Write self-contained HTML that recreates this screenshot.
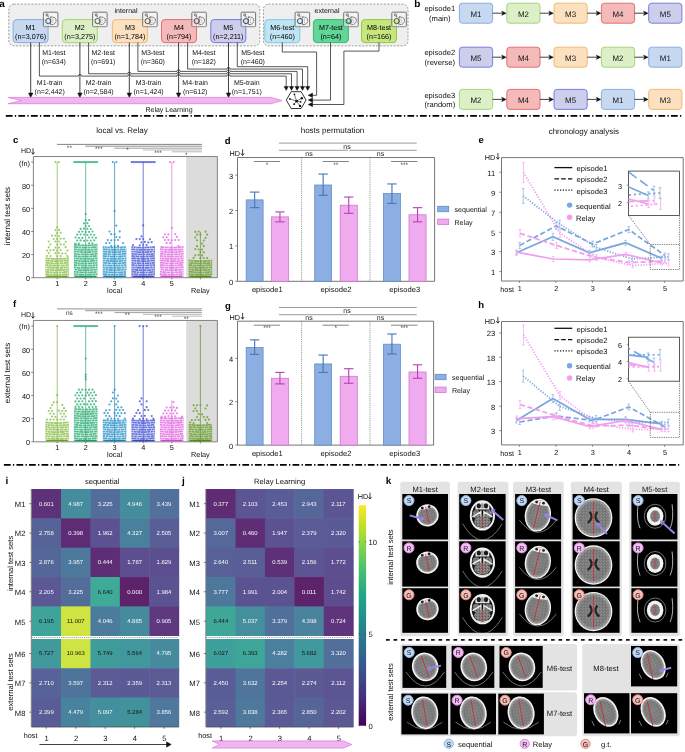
<!DOCTYPE html>
<html><head><meta charset="utf-8"><style>
html,body{margin:0;padding:0;background:#fff;}
svg{display:block;font-family:"Liberation Sans", sans-serif;will-change:transform;text-rendering:geometricPrecision;}
</style></head><body>
<svg width="685" height="752" viewBox="0 0 685 752">
<rect x="0" y="0" width="685" height="752" fill="#fff"/>
<text x="2.00" y="3.90" font-size="10" text-anchor="middle" fill="#000" font-weight="bold" dominant-baseline="central" dy="0.93" >a</text>
<rect x="8.80" y="4.10" width="251.00" height="41.80" fill="#efefef" stroke="#888" stroke-width="0.8" rx="5" stroke-dasharray="2 1.5"/>
<rect x="263.40" y="4.10" width="144.60" height="41.80" fill="#efefef" stroke="#888" stroke-width="0.8" rx="5" stroke-dasharray="2 1.5"/>
<text x="126.00" y="10.40" font-size="7" text-anchor="middle" fill="#111" font-weight="normal" dominant-baseline="central" dy="0.93" >internal</text>
<text x="327.00" y="10.40" font-size="7" text-anchor="middle" fill="#111" font-weight="normal" dominant-baseline="central" dy="0.93" >external</text>
<rect x="13.10" y="19.60" width="35.00" height="23.00" fill="#c6d9f0" stroke="#7fa7de" stroke-width="0.9" rx="3.5" />
<text x="30.60" y="26.30" font-size="7.2" text-anchor="middle" fill="#000" font-weight="normal" dominant-baseline="central" dy="0.93" >M1</text>
<text x="30.60" y="35.30" font-size="7.2" text-anchor="middle" fill="#000" font-weight="normal" dominant-baseline="central" dy="0.93" >(n=3,076)</text>
<rect x="43.40" y="12.20" width="14.50" height="14.40" fill="#f7f7f7" stroke="#666" stroke-width="0.9" rx="0.8" fill-opacity="0.55"/>
<line x1="44.00" y1="26.80" x2="57.70" y2="26.80" stroke="#bbb" stroke-width="0.7" />
<circle cx="47.00" cy="14.90" r="1.1" fill="none" stroke="#555" stroke-width="0.8"/>
<path d="M47.8,15.7 L48.6,17.5" fill="none" stroke="#555" stroke-width="0.8" />
<circle cx="48.30" cy="21.10" r="2.6" fill="#c6d9f0" stroke="#444" stroke-width="0.9"/>
<circle cx="48.30" cy="20.40" r="1.0" fill="#fff" fill-opacity="0.7"/>
<path d="M50.6,16.799999999999997 L50.6,24.799999999999997 M50.6,17.0 Q56.599999999999994,16.799999999999997 56.0,21.0 Q55.599999999999994,24.799999999999997 50.6,24.6" fill="none" stroke="#555" stroke-width="0.9" stroke-dasharray="1.6 0.5"/>
<line x1="52.80" y1="18.70" x2="52.80" y2="23.20" stroke="#666" stroke-width="0.6" stroke-dasharray="0.8 0.8"/>
<rect x="62.30" y="19.60" width="35.00" height="23.00" fill="#dcefc6" stroke="#9ad26e" stroke-width="0.9" rx="3.5" />
<text x="79.80" y="26.30" font-size="7.2" text-anchor="middle" fill="#000" font-weight="normal" dominant-baseline="central" dy="0.93" >M2</text>
<text x="79.80" y="35.30" font-size="7.2" text-anchor="middle" fill="#000" font-weight="normal" dominant-baseline="central" dy="0.93" >(n=3,275)</text>
<rect x="92.60" y="12.20" width="14.50" height="14.40" fill="#f7f7f7" stroke="#666" stroke-width="0.9" rx="0.8" fill-opacity="0.55"/>
<line x1="93.20" y1="26.80" x2="106.90" y2="26.80" stroke="#bbb" stroke-width="0.7" />
<circle cx="96.20" cy="14.90" r="1.1" fill="none" stroke="#555" stroke-width="0.8"/>
<path d="M97.0,15.7 L97.8,17.5" fill="none" stroke="#555" stroke-width="0.8" />
<circle cx="97.50" cy="21.10" r="2.6" fill="#dcefc6" stroke="#444" stroke-width="0.9"/>
<circle cx="97.50" cy="20.40" r="1.0" fill="#fff" fill-opacity="0.7"/>
<path d="M99.8,16.799999999999997 L99.8,24.799999999999997 M99.8,17.0 Q105.8,16.799999999999997 105.19999999999999,21.0 Q104.8,24.799999999999997 99.8,24.6" fill="none" stroke="#555" stroke-width="0.9" stroke-dasharray="1.6 0.5"/>
<line x1="102.00" y1="18.70" x2="102.00" y2="23.20" stroke="#666" stroke-width="0.6" stroke-dasharray="0.8 0.8"/>
<rect x="112.40" y="19.60" width="35.00" height="23.00" fill="#fbe1c0" stroke="#f0b463" stroke-width="0.9" rx="3.5" />
<text x="129.90" y="26.30" font-size="7.2" text-anchor="middle" fill="#000" font-weight="normal" dominant-baseline="central" dy="0.93" >M3</text>
<text x="129.90" y="35.30" font-size="7.2" text-anchor="middle" fill="#000" font-weight="normal" dominant-baseline="central" dy="0.93" >(n=1,784)</text>
<rect x="142.70" y="12.20" width="14.50" height="14.40" fill="#f7f7f7" stroke="#666" stroke-width="0.9" rx="0.8" fill-opacity="0.55"/>
<line x1="143.30" y1="26.80" x2="157.00" y2="26.80" stroke="#bbb" stroke-width="0.7" />
<circle cx="146.30" cy="14.90" r="1.1" fill="none" stroke="#555" stroke-width="0.8"/>
<path d="M147.10000000000002,15.7 L147.9,17.5" fill="none" stroke="#555" stroke-width="0.8" />
<circle cx="147.60" cy="21.10" r="2.6" fill="#fbe1c0" stroke="#444" stroke-width="0.9"/>
<circle cx="147.60" cy="20.40" r="1.0" fill="#fff" fill-opacity="0.7"/>
<path d="M149.9,16.799999999999997 L149.9,24.799999999999997 M149.9,17.0 Q155.9,16.799999999999997 155.3,21.0 Q154.9,24.799999999999997 149.9,24.6" fill="none" stroke="#555" stroke-width="0.9" stroke-dasharray="1.6 0.5"/>
<line x1="152.10" y1="18.70" x2="152.10" y2="23.20" stroke="#666" stroke-width="0.6" stroke-dasharray="0.8 0.8"/>
<rect x="161.50" y="19.60" width="35.00" height="23.00" fill="#f4b9b9" stroke="#e06464" stroke-width="0.9" rx="3.5" />
<text x="179.00" y="26.30" font-size="7.2" text-anchor="middle" fill="#000" font-weight="normal" dominant-baseline="central" dy="0.93" >M4</text>
<text x="179.00" y="35.30" font-size="7.2" text-anchor="middle" fill="#000" font-weight="normal" dominant-baseline="central" dy="0.93" >(n=794)</text>
<rect x="191.80" y="12.20" width="14.50" height="14.40" fill="#f7f7f7" stroke="#666" stroke-width="0.9" rx="0.8" fill-opacity="0.55"/>
<line x1="192.40" y1="26.80" x2="206.10" y2="26.80" stroke="#bbb" stroke-width="0.7" />
<circle cx="195.40" cy="14.90" r="1.1" fill="none" stroke="#555" stroke-width="0.8"/>
<path d="M196.20000000000002,15.7 L197.0,17.5" fill="none" stroke="#555" stroke-width="0.8" />
<circle cx="196.70" cy="21.10" r="2.6" fill="#f4b9b9" stroke="#444" stroke-width="0.9"/>
<circle cx="196.70" cy="20.40" r="1.0" fill="#fff" fill-opacity="0.7"/>
<path d="M199.0,16.799999999999997 L199.0,24.799999999999997 M199.0,17.0 Q205.0,16.799999999999997 204.4,21.0 Q204.0,24.799999999999997 199.0,24.6" fill="none" stroke="#555" stroke-width="0.9" stroke-dasharray="1.6 0.5"/>
<line x1="201.20" y1="18.70" x2="201.20" y2="23.20" stroke="#666" stroke-width="0.6" stroke-dasharray="0.8 0.8"/>
<rect x="210.80" y="19.60" width="35.00" height="23.00" fill="#cdcdec" stroke="#6d72dc" stroke-width="0.9" rx="3.5" />
<text x="228.30" y="26.30" font-size="7.2" text-anchor="middle" fill="#000" font-weight="normal" dominant-baseline="central" dy="0.93" >M5</text>
<text x="228.30" y="35.30" font-size="7.2" text-anchor="middle" fill="#000" font-weight="normal" dominant-baseline="central" dy="0.93" >(n=2,211)</text>
<rect x="241.10" y="12.20" width="14.50" height="14.40" fill="#f7f7f7" stroke="#666" stroke-width="0.9" rx="0.8" fill-opacity="0.55"/>
<line x1="241.70" y1="26.80" x2="255.40" y2="26.80" stroke="#bbb" stroke-width="0.7" />
<circle cx="244.70" cy="14.90" r="1.1" fill="none" stroke="#555" stroke-width="0.8"/>
<path d="M245.50000000000003,15.7 L246.3,17.5" fill="none" stroke="#555" stroke-width="0.8" />
<circle cx="246.00" cy="21.10" r="2.6" fill="#cdcdec" stroke="#444" stroke-width="0.9"/>
<circle cx="246.00" cy="20.40" r="1.0" fill="#fff" fill-opacity="0.7"/>
<path d="M248.3,16.799999999999997 L248.3,24.799999999999997 M248.3,17.0 Q254.3,16.799999999999997 253.70000000000002,21.0 Q253.3,24.799999999999997 248.3,24.6" fill="none" stroke="#555" stroke-width="0.9" stroke-dasharray="1.6 0.5"/>
<line x1="250.50" y1="18.70" x2="250.50" y2="23.20" stroke="#666" stroke-width="0.6" stroke-dasharray="0.8 0.8"/>
<rect x="264.80" y="19.60" width="35.00" height="23.00" fill="#bfe4f4" stroke="#76c4e6" stroke-width="0.9" rx="3.5" />
<text x="282.30" y="26.30" font-size="7.2" text-anchor="middle" fill="#000" font-weight="normal" dominant-baseline="central" dy="0.93" >M6-test</text>
<text x="282.30" y="35.30" font-size="7.2" text-anchor="middle" fill="#000" font-weight="normal" dominant-baseline="central" dy="0.93" >(n=460)</text>
<rect x="295.10" y="12.20" width="14.50" height="14.40" fill="#f7f7f7" stroke="#666" stroke-width="0.9" rx="0.8" fill-opacity="0.55"/>
<line x1="295.70" y1="26.80" x2="309.40" y2="26.80" stroke="#bbb" stroke-width="0.7" />
<circle cx="298.70" cy="14.90" r="1.1" fill="none" stroke="#555" stroke-width="0.8"/>
<path d="M299.5,15.7 L300.3,17.5" fill="none" stroke="#555" stroke-width="0.8" />
<circle cx="300.00" cy="21.10" r="2.6" fill="#bfe4f4" stroke="#444" stroke-width="0.9"/>
<circle cx="300.00" cy="20.40" r="1.0" fill="#fff" fill-opacity="0.7"/>
<path d="M302.3,16.799999999999997 L302.3,24.799999999999997 M302.3,17.0 Q308.3,16.799999999999997 307.70000000000005,21.0 Q307.3,24.799999999999997 302.3,24.6" fill="none" stroke="#555" stroke-width="0.9" stroke-dasharray="1.6 0.5"/>
<line x1="304.50" y1="18.70" x2="304.50" y2="23.20" stroke="#666" stroke-width="0.6" stroke-dasharray="0.8 0.8"/>
<rect x="313.40" y="19.60" width="35.00" height="23.00" fill="#62d697" stroke="#2bb46a" stroke-width="0.9" rx="3.5" />
<text x="330.90" y="26.30" font-size="7.2" text-anchor="middle" fill="#000" font-weight="normal" dominant-baseline="central" dy="0.93" >M7-test</text>
<text x="330.90" y="35.30" font-size="7.2" text-anchor="middle" fill="#000" font-weight="normal" dominant-baseline="central" dy="0.93" >(n=64)</text>
<rect x="343.70" y="12.20" width="14.50" height="14.40" fill="#f7f7f7" stroke="#666" stroke-width="0.9" rx="0.8" fill-opacity="0.55"/>
<line x1="344.30" y1="26.80" x2="358.00" y2="26.80" stroke="#bbb" stroke-width="0.7" />
<circle cx="347.30" cy="14.90" r="1.1" fill="none" stroke="#555" stroke-width="0.8"/>
<path d="M348.09999999999997,15.7 L348.9,17.5" fill="none" stroke="#555" stroke-width="0.8" />
<circle cx="348.60" cy="21.10" r="2.6" fill="#62d697" stroke="#444" stroke-width="0.9"/>
<circle cx="348.60" cy="20.40" r="1.0" fill="#fff" fill-opacity="0.7"/>
<path d="M350.9,16.799999999999997 L350.9,24.799999999999997 M350.9,17.0 Q356.9,16.799999999999997 356.3,21.0 Q355.9,24.799999999999997 350.9,24.6" fill="none" stroke="#555" stroke-width="0.9" stroke-dasharray="1.6 0.5"/>
<line x1="353.10" y1="18.70" x2="353.10" y2="23.20" stroke="#666" stroke-width="0.6" stroke-dasharray="0.8 0.8"/>
<rect x="361.50" y="19.60" width="35.00" height="23.00" fill="#c7e67e" stroke="#8cc23c" stroke-width="0.9" rx="3.5" />
<text x="379.00" y="26.30" font-size="7.2" text-anchor="middle" fill="#000" font-weight="normal" dominant-baseline="central" dy="0.93" >M8-test</text>
<text x="379.00" y="35.30" font-size="7.2" text-anchor="middle" fill="#000" font-weight="normal" dominant-baseline="central" dy="0.93" >(n=166)</text>
<rect x="391.80" y="12.20" width="14.50" height="14.40" fill="#f7f7f7" stroke="#666" stroke-width="0.9" rx="0.8" fill-opacity="0.55"/>
<line x1="392.40" y1="26.80" x2="406.10" y2="26.80" stroke="#bbb" stroke-width="0.7" />
<circle cx="395.40" cy="14.90" r="1.1" fill="none" stroke="#555" stroke-width="0.8"/>
<path d="M396.2,15.7 L397.0,17.5" fill="none" stroke="#555" stroke-width="0.8" />
<circle cx="396.70" cy="21.10" r="2.6" fill="#c7e67e" stroke="#444" stroke-width="0.9"/>
<circle cx="396.70" cy="20.40" r="1.0" fill="#fff" fill-opacity="0.7"/>
<path d="M399.0,16.799999999999997 L399.0,24.799999999999997 M399.0,17.0 Q405.0,16.799999999999997 404.40000000000003,21.0 Q404.0,24.799999999999997 399.0,24.6" fill="none" stroke="#555" stroke-width="0.9" stroke-dasharray="1.6 0.5"/>
<line x1="401.20" y1="18.70" x2="401.20" y2="23.20" stroke="#666" stroke-width="0.6" stroke-dasharray="0.8 0.8"/>
<line x1="30.70" y1="42.60" x2="30.70" y2="94.50" stroke="#111" stroke-width="0.8" />
<path d="M28.5,93 L30.7,97.6 L32.9,93 Z" fill="#111" stroke="#111" stroke-width="0.5" />
<path d="M39.4,42.6 L39.4,76.1 L78.30000000000001,76.1 a1.6,1.6 0 0,1 3.2,0 L127.70000000000002,76.1 a1.6,1.6 0 0,1 3.2,0 L177.0,76.1 a1.6,1.6 0 0,1 3.2,0 L226.9,76.1 a1.6,1.6 0 0,1 3.2,0 L286.2,76.1 L286.2,87" fill="none" stroke="#111" stroke-width="0.7" />
<path d="M284.0,86.4 L286.2,90.4 L288.4,86.4 Z" fill="#111" stroke="#111" stroke-width="0.4" />
<text x="53.80" y="52.60" font-size="7" text-anchor="middle" fill="#111" font-weight="normal" dominant-baseline="central" dy="0.93" >M1-test</text>
<text x="53.80" y="61.50" font-size="7" text-anchor="middle" fill="#111" font-weight="normal" dominant-baseline="central" dy="0.93" >(n=634)</text>
<text x="49.70" y="82.60" font-size="7" text-anchor="middle" fill="#111" font-weight="normal" dominant-baseline="central" dy="0.93" >M1-train</text>
<text x="49.70" y="91.20" font-size="7" text-anchor="middle" fill="#111" font-weight="normal" dominant-baseline="central" dy="0.93" >(n=2,442)</text>
<line x1="79.90" y1="42.60" x2="79.90" y2="94.50" stroke="#111" stroke-width="0.8" />
<path d="M77.7,93 L79.9,97.6 L82.10000000000001,93 Z" fill="#111" stroke="#111" stroke-width="0.5" />
<path d="M88.6,42.6 L88.6,73.75 L127.70000000000002,73.75 a1.6,1.6 0 0,1 3.2,0 L177.0,73.75 a1.6,1.6 0 0,1 3.2,0 L226.9,73.75 a1.6,1.6 0 0,1 3.2,0 L291.5,73.75 L291.5,87" fill="none" stroke="#111" stroke-width="0.7" />
<path d="M289.3,86.4 L291.5,90.4 L293.7,86.4 Z" fill="#111" stroke="#111" stroke-width="0.4" />
<text x="103.20" y="52.60" font-size="7" text-anchor="middle" fill="#111" font-weight="normal" dominant-baseline="central" dy="0.93" >M2-test</text>
<text x="103.20" y="61.50" font-size="7" text-anchor="middle" fill="#111" font-weight="normal" dominant-baseline="central" dy="0.93" >(n=691)</text>
<text x="98.60" y="82.60" font-size="7" text-anchor="middle" fill="#111" font-weight="normal" dominant-baseline="central" dy="0.93" >M2-train</text>
<text x="98.60" y="91.20" font-size="7" text-anchor="middle" fill="#111" font-weight="normal" dominant-baseline="central" dy="0.93" >(n=2,584)</text>
<line x1="129.30" y1="42.60" x2="129.30" y2="94.50" stroke="#111" stroke-width="0.8" />
<path d="M127.10000000000001,93 L129.3,97.6 L131.5,93 Z" fill="#111" stroke="#111" stroke-width="0.5" />
<path d="M137.9,42.6 L137.9,71.4 L177.0,71.4 a1.6,1.6 0 0,1 3.2,0 L226.9,71.4 a1.6,1.6 0 0,1 3.2,0 L297.1,71.4 L297.1,87" fill="none" stroke="#111" stroke-width="0.7" />
<path d="M294.90000000000003,86.4 L297.1,90.4 L299.3,86.4 Z" fill="#111" stroke="#111" stroke-width="0.4" />
<text x="152.80" y="52.60" font-size="7" text-anchor="middle" fill="#111" font-weight="normal" dominant-baseline="central" dy="0.93" >M3-test</text>
<text x="152.80" y="61.50" font-size="7" text-anchor="middle" fill="#111" font-weight="normal" dominant-baseline="central" dy="0.93" >(n=360)</text>
<text x="148.60" y="82.60" font-size="7" text-anchor="middle" fill="#111" font-weight="normal" dominant-baseline="central" dy="0.93" >M3-train</text>
<text x="148.60" y="91.20" font-size="7" text-anchor="middle" fill="#111" font-weight="normal" dominant-baseline="central" dy="0.93" >(n=1,424)</text>
<line x1="178.60" y1="42.60" x2="178.60" y2="94.50" stroke="#111" stroke-width="0.8" />
<path d="M176.4,93 L178.6,97.6 L180.79999999999998,93 Z" fill="#111" stroke="#111" stroke-width="0.5" />
<path d="M187.6,42.6 L187.6,69.05 L226.9,69.05 a1.6,1.6 0 0,1 3.2,0 L302.5,69.05 L302.5,87" fill="none" stroke="#111" stroke-width="0.7" />
<path d="M300.3,86.4 L302.5,90.4 L304.7,86.4 Z" fill="#111" stroke="#111" stroke-width="0.4" />
<text x="203.80" y="52.60" font-size="7" text-anchor="middle" fill="#111" font-weight="normal" dominant-baseline="central" dy="0.93" >M4-test</text>
<text x="203.80" y="61.50" font-size="7" text-anchor="middle" fill="#111" font-weight="normal" dominant-baseline="central" dy="0.93" >(n=182)</text>
<text x="195.20" y="82.60" font-size="7" text-anchor="middle" fill="#111" font-weight="normal" dominant-baseline="central" dy="0.93" >M4-train</text>
<text x="195.20" y="91.20" font-size="7" text-anchor="middle" fill="#111" font-weight="normal" dominant-baseline="central" dy="0.93" >(n=612)</text>
<line x1="228.50" y1="42.60" x2="228.50" y2="94.50" stroke="#111" stroke-width="0.8" />
<path d="M226.3,93 L228.5,97.6 L230.7,93 Z" fill="#111" stroke="#111" stroke-width="0.5" />
<path d="M237.3,42.6 L237.3,66.7 L307.7,66.7 L307.7,87" fill="none" stroke="#111" stroke-width="0.7" />
<path d="M305.5,86.4 L307.7,90.4 L309.9,86.4 Z" fill="#111" stroke="#111" stroke-width="0.4" />
<text x="252.80" y="52.60" font-size="7" text-anchor="middle" fill="#111" font-weight="normal" dominant-baseline="central" dy="0.93" >M5-test</text>
<text x="252.80" y="61.50" font-size="7" text-anchor="middle" fill="#111" font-weight="normal" dominant-baseline="central" dy="0.93" >(n=460)</text>
<text x="246.80" y="82.60" font-size="7" text-anchor="middle" fill="#111" font-weight="normal" dominant-baseline="central" dy="0.93" >M5-train</text>
<text x="246.80" y="91.20" font-size="7" text-anchor="middle" fill="#111" font-weight="normal" dominant-baseline="central" dy="0.93" >(n=1,751)</text>
<path d="M282.3,42.6 L282.3,52 L316.6,52 L316.6,95.3 L312,95.3" fill="none" stroke="#111" stroke-width="0.7" />
<path d="M330.5,42.6 L330.5,100.1 L312,100.1" fill="none" stroke="#111" stroke-width="0.7" />
<path d="M379,42.6 L379,51.1 L343.9,51.1 L343.9,104.5 L312,104.5" fill="none" stroke="#111" stroke-width="0.7" />
<path d="M312.6,93.1 L308.1,95.3 L312.6,97.5 Z" fill="#111" stroke="#111" stroke-width="0.4" />
<path d="M312.6,97.89999999999999 L308.1,100.1 L312.6,102.3 Z" fill="#111" stroke="#111" stroke-width="0.4" />
<path d="M312.6,102.3 L308.1,104.5 L312.6,106.7 Z" fill="#111" stroke="#111" stroke-width="0.4" />
<path d="M8.2,97.4 L271,97.4 L282,100.6 L271,103.7 L8.2,103.7 L21.5,100.6 Z" fill="#f0b6ee" stroke="#e070e0" stroke-width="0.7" />
<text x="169.00" y="109.20" font-size="7" text-anchor="middle" fill="#111" font-weight="normal" dominant-baseline="central" dy="0.93" >Relay Learning</text>
<polygon points="286.3,100.1 291.2,91.7 301.1,91.7 306.0,100.1 301.1,108.5 291.2,108.5" fill="#fff" stroke="#111" stroke-width="0.85"/>
<line x1="296.50" y1="101.10" x2="294.40" y2="94.30" stroke="#111" stroke-width="0.55" />
<circle cx="294.4" cy="94.3" r="0.9" fill="#111"/>
<line x1="296.50" y1="101.10" x2="301.80" y2="98.30" stroke="#111" stroke-width="0.55" />
<circle cx="301.8" cy="98.3" r="1.2" fill="#111"/>
<line x1="296.50" y1="101.10" x2="289.90" y2="98.90" stroke="#111" stroke-width="0.55" />
<circle cx="289.9" cy="98.9" r="0.9" fill="#111"/>
<line x1="296.50" y1="101.10" x2="300.70" y2="101.90" stroke="#111" stroke-width="0.55" />
<circle cx="300.7" cy="101.9" r="0.8" fill="#111"/>
<line x1="296.50" y1="101.10" x2="294.10" y2="104.20" stroke="#111" stroke-width="0.55" />
<circle cx="294.1" cy="104.2" r="0.9" fill="#111"/>
<line x1="296.50" y1="101.10" x2="300.00" y2="105.90" stroke="#111" stroke-width="0.55" />
<circle cx="300.0" cy="105.9" r="1.2" fill="#111"/>
<circle cx="296.5" cy="101.1" r="1.3" fill="#111"/>
<text x="417.30" y="3.30" font-size="10" text-anchor="middle" fill="#000" font-weight="bold" dominant-baseline="central" dy="0.93" >b</text>
<text x="439.80" y="8.00" font-size="7.6" text-anchor="middle" fill="#111" font-weight="normal" dominant-baseline="central" dy="0.93" >episode1</text>
<text x="439.80" y="17.20" font-size="7.6" text-anchor="middle" fill="#111" font-weight="normal" dominant-baseline="central" dy="0.93" >(main)</text>
<rect x="459.40" y="3.20" width="33.20" height="20.00" fill="#c6d9f0" stroke="#7fa7de" stroke-width="0.9" rx="3" />
<text x="476.00" y="13.40" font-size="7.9" text-anchor="middle" fill="#111" font-weight="normal" dominant-baseline="central" dy="0.93" >M1</text>
<line x1="492.60" y1="13.20" x2="502.80" y2="13.20" stroke="#111" stroke-width="0.8" />
<path d="M501.6,10.9 L506.40000000000003,13.2 L501.6,15.5 L502.6,13.2 Z" fill="#111" stroke="#111" stroke-width="0.3" />
<rect x="506.80" y="3.20" width="33.20" height="20.00" fill="#dcefc6" stroke="#9ad26e" stroke-width="0.9" rx="3" />
<text x="523.40" y="13.40" font-size="7.9" text-anchor="middle" fill="#111" font-weight="normal" dominant-baseline="central" dy="0.93" >M2</text>
<line x1="540.00" y1="13.20" x2="550.00" y2="13.20" stroke="#111" stroke-width="0.8" />
<path d="M548.8,10.9 L553.6,13.2 L548.8,15.5 L549.8,13.2 Z" fill="#111" stroke="#111" stroke-width="0.3" />
<rect x="554.00" y="3.20" width="33.20" height="20.00" fill="#fbe1c0" stroke="#f0b463" stroke-width="0.9" rx="3" />
<text x="570.60" y="13.40" font-size="7.9" text-anchor="middle" fill="#111" font-weight="normal" dominant-baseline="central" dy="0.93" >M3</text>
<line x1="587.20" y1="13.20" x2="597.40" y2="13.20" stroke="#111" stroke-width="0.8" />
<path d="M596.1999999999999,10.9 L601.0,13.2 L596.1999999999999,15.5 L597.1999999999999,13.2 Z" fill="#111" stroke="#111" stroke-width="0.3" />
<rect x="601.40" y="3.20" width="33.20" height="20.00" fill="#f4b9b9" stroke="#e06464" stroke-width="0.9" rx="3" />
<text x="618.00" y="13.40" font-size="7.9" text-anchor="middle" fill="#111" font-weight="normal" dominant-baseline="central" dy="0.93" >M4</text>
<line x1="634.60" y1="13.20" x2="644.70" y2="13.20" stroke="#111" stroke-width="0.8" />
<path d="M643.5,10.9 L648.3000000000001,13.2 L643.5,15.5 L644.5,13.2 Z" fill="#111" stroke="#111" stroke-width="0.3" />
<rect x="648.70" y="3.20" width="33.20" height="20.00" fill="#cdcdec" stroke="#6d72dc" stroke-width="0.9" rx="3" />
<text x="665.30" y="13.40" font-size="7.9" text-anchor="middle" fill="#111" font-weight="normal" dominant-baseline="central" dy="0.93" >M5</text>
<text x="439.80" y="52.00" font-size="7.6" text-anchor="middle" fill="#111" font-weight="normal" dominant-baseline="central" dy="0.93" >episode2</text>
<text x="439.80" y="61.20" font-size="7.6" text-anchor="middle" fill="#111" font-weight="normal" dominant-baseline="central" dy="0.93" >(reverse)</text>
<rect x="459.40" y="47.20" width="33.20" height="20.00" fill="#cdcdec" stroke="#6d72dc" stroke-width="0.9" rx="3" />
<text x="476.00" y="57.40" font-size="7.9" text-anchor="middle" fill="#111" font-weight="normal" dominant-baseline="central" dy="0.93" >M5</text>
<line x1="492.60" y1="57.20" x2="502.80" y2="57.20" stroke="#111" stroke-width="0.8" />
<path d="M501.6,54.900000000000006 L506.40000000000003,57.2 L501.6,59.5 L502.6,57.2 Z" fill="#111" stroke="#111" stroke-width="0.3" />
<rect x="506.80" y="47.20" width="33.20" height="20.00" fill="#f4b9b9" stroke="#e06464" stroke-width="0.9" rx="3" />
<text x="523.40" y="57.40" font-size="7.9" text-anchor="middle" fill="#111" font-weight="normal" dominant-baseline="central" dy="0.93" >M4</text>
<line x1="540.00" y1="57.20" x2="550.00" y2="57.20" stroke="#111" stroke-width="0.8" />
<path d="M548.8,54.900000000000006 L553.6,57.2 L548.8,59.5 L549.8,57.2 Z" fill="#111" stroke="#111" stroke-width="0.3" />
<rect x="554.00" y="47.20" width="33.20" height="20.00" fill="#fbe1c0" stroke="#f0b463" stroke-width="0.9" rx="3" />
<text x="570.60" y="57.40" font-size="7.9" text-anchor="middle" fill="#111" font-weight="normal" dominant-baseline="central" dy="0.93" >M3</text>
<line x1="587.20" y1="57.20" x2="597.40" y2="57.20" stroke="#111" stroke-width="0.8" />
<path d="M596.1999999999999,54.900000000000006 L601.0,57.2 L596.1999999999999,59.5 L597.1999999999999,57.2 Z" fill="#111" stroke="#111" stroke-width="0.3" />
<rect x="601.40" y="47.20" width="33.20" height="20.00" fill="#dcefc6" stroke="#9ad26e" stroke-width="0.9" rx="3" />
<text x="618.00" y="57.40" font-size="7.9" text-anchor="middle" fill="#111" font-weight="normal" dominant-baseline="central" dy="0.93" >M2</text>
<line x1="634.60" y1="57.20" x2="644.70" y2="57.20" stroke="#111" stroke-width="0.8" />
<path d="M643.5,54.900000000000006 L648.3000000000001,57.2 L643.5,59.5 L644.5,57.2 Z" fill="#111" stroke="#111" stroke-width="0.3" />
<rect x="648.70" y="47.20" width="33.20" height="20.00" fill="#c6d9f0" stroke="#7fa7de" stroke-width="0.9" rx="3" />
<text x="665.30" y="57.40" font-size="7.9" text-anchor="middle" fill="#111" font-weight="normal" dominant-baseline="central" dy="0.93" >M1</text>
<text x="439.80" y="94.20" font-size="7.6" text-anchor="middle" fill="#111" font-weight="normal" dominant-baseline="central" dy="0.93" >episode3</text>
<text x="439.80" y="103.40" font-size="7.6" text-anchor="middle" fill="#111" font-weight="normal" dominant-baseline="central" dy="0.93" >(random)</text>
<rect x="459.40" y="89.40" width="33.20" height="20.00" fill="#dcefc6" stroke="#9ad26e" stroke-width="0.9" rx="3" />
<text x="476.00" y="99.60" font-size="7.9" text-anchor="middle" fill="#111" font-weight="normal" dominant-baseline="central" dy="0.93" >M2</text>
<line x1="492.60" y1="99.40" x2="502.80" y2="99.40" stroke="#111" stroke-width="0.8" />
<path d="M501.6,97.10000000000001 L506.40000000000003,99.4 L501.6,101.7 L502.6,99.4 Z" fill="#111" stroke="#111" stroke-width="0.3" />
<rect x="506.80" y="89.40" width="33.20" height="20.00" fill="#f4b9b9" stroke="#e06464" stroke-width="0.9" rx="3" />
<text x="523.40" y="99.60" font-size="7.9" text-anchor="middle" fill="#111" font-weight="normal" dominant-baseline="central" dy="0.93" >M4</text>
<line x1="540.00" y1="99.40" x2="550.00" y2="99.40" stroke="#111" stroke-width="0.8" />
<path d="M548.8,97.10000000000001 L553.6,99.4 L548.8,101.7 L549.8,99.4 Z" fill="#111" stroke="#111" stroke-width="0.3" />
<rect x="554.00" y="89.40" width="33.20" height="20.00" fill="#cdcdec" stroke="#6d72dc" stroke-width="0.9" rx="3" />
<text x="570.60" y="99.60" font-size="7.9" text-anchor="middle" fill="#111" font-weight="normal" dominant-baseline="central" dy="0.93" >M5</text>
<line x1="587.20" y1="99.40" x2="597.40" y2="99.40" stroke="#111" stroke-width="0.8" />
<path d="M596.1999999999999,97.10000000000001 L601.0,99.4 L596.1999999999999,101.7 L597.1999999999999,99.4 Z" fill="#111" stroke="#111" stroke-width="0.3" />
<rect x="601.40" y="89.40" width="33.20" height="20.00" fill="#c6d9f0" stroke="#7fa7de" stroke-width="0.9" rx="3" />
<text x="618.00" y="99.60" font-size="7.9" text-anchor="middle" fill="#111" font-weight="normal" dominant-baseline="central" dy="0.93" >M1</text>
<line x1="634.60" y1="99.40" x2="644.70" y2="99.40" stroke="#111" stroke-width="0.8" />
<path d="M643.5,97.10000000000001 L648.3000000000001,99.4 L643.5,101.7 L644.5,99.4 Z" fill="#111" stroke="#111" stroke-width="0.3" />
<rect x="648.70" y="89.40" width="33.20" height="20.00" fill="#fbe1c0" stroke="#f0b463" stroke-width="0.9" rx="3" />
<text x="665.30" y="99.60" font-size="7.9" text-anchor="middle" fill="#111" font-weight="normal" dominant-baseline="central" dy="0.93" >M3</text>
<text x="122.00" y="129.60" font-size="8" text-anchor="middle" fill="#111" font-weight="normal" dominant-baseline="central" dy="0.93" >local vs. Relay</text>
<rect x="186.20" y="156.50" width="31.20" height="121.20" fill="#dcdcdc" stroke="none" stroke-width="1" rx="0" />
<path d="M33.4,156.5 L217.4,156.5 L217.4,277.7 M33.4,156.5 L33.4,277.7 L217.4,277.7" fill="none" stroke="#777" stroke-width="0.9" />
<line x1="31.20" y1="162.10" x2="33.40" y2="162.10" stroke="#555" stroke-width="0.7" />
<text x="30.00" y="162.10" font-size="7.3" text-anchor="end" fill="#111" font-weight="normal" dominant-baseline="central" dy="0.93" >(fn)</text>
<line x1="31.20" y1="185.22" x2="33.40" y2="185.22" stroke="#555" stroke-width="0.7" />
<text x="30.00" y="185.22" font-size="7.3" text-anchor="end" fill="#111" font-weight="normal" dominant-baseline="central" dy="0.93" >80</text>
<line x1="31.20" y1="208.34" x2="33.40" y2="208.34" stroke="#555" stroke-width="0.7" />
<text x="30.00" y="208.34" font-size="7.3" text-anchor="end" fill="#111" font-weight="normal" dominant-baseline="central" dy="0.93" >60</text>
<line x1="31.20" y1="231.46" x2="33.40" y2="231.46" stroke="#555" stroke-width="0.7" />
<text x="30.00" y="231.46" font-size="7.3" text-anchor="end" fill="#111" font-weight="normal" dominant-baseline="central" dy="0.93" >40</text>
<line x1="31.20" y1="254.58" x2="33.40" y2="254.58" stroke="#555" stroke-width="0.7" />
<text x="30.00" y="254.58" font-size="7.3" text-anchor="end" fill="#111" font-weight="normal" dominant-baseline="central" dy="0.93" >20</text>
<line x1="31.20" y1="277.70" x2="33.40" y2="277.70" stroke="#555" stroke-width="0.7" />
<text x="30.00" y="277.70" font-size="7.3" text-anchor="end" fill="#111" font-weight="normal" dominant-baseline="central" dy="0.93" >0</text>
<text x="21.00" y="150.90" font-size="7.0" text-anchor="start" fill="#111" font-weight="normal" dominant-baseline="central" dy="0.93" >HD</text>
<path d="M33.0,148.3 V153.9 M31.6,152.3 L33.0,154.3 L34.4,152.3" fill="none" stroke="#111" stroke-width="0.8" />
<text x="15.60" y="139.10" font-size="9.5" text-anchor="middle" fill="#000" font-weight="bold" dominant-baseline="central" dy="0.93" >c</text>
<text x="0" y="0" font-size="8" text-anchor="middle" fill="#111" dominant-baseline="central" dy="0.93" transform="translate(6.2,216) rotate(-90)">internal test sets</text>
<text x="57.20" y="282.60" font-size="7.3" text-anchor="middle" fill="#111" font-weight="normal" dominant-baseline="central" dy="0.93" >1</text>
<line x1="57.20" y1="277.70" x2="57.20" y2="279.30" stroke="#555" stroke-width="0.7" />
<text x="85.70" y="282.60" font-size="7.3" text-anchor="middle" fill="#111" font-weight="normal" dominant-baseline="central" dy="0.93" >2</text>
<line x1="85.70" y1="277.70" x2="85.70" y2="279.30" stroke="#555" stroke-width="0.7" />
<text x="114.60" y="282.60" font-size="7.3" text-anchor="middle" fill="#111" font-weight="normal" dominant-baseline="central" dy="0.93" >3</text>
<line x1="114.60" y1="277.70" x2="114.60" y2="279.30" stroke="#555" stroke-width="0.7" />
<text x="143.20" y="282.60" font-size="7.3" text-anchor="middle" fill="#111" font-weight="normal" dominant-baseline="central" dy="0.93" >4</text>
<line x1="143.20" y1="277.70" x2="143.20" y2="279.30" stroke="#555" stroke-width="0.7" />
<text x="171.80" y="282.60" font-size="7.3" text-anchor="middle" fill="#111" font-weight="normal" dominant-baseline="central" dy="0.93" >5</text>
<line x1="171.80" y1="277.70" x2="171.80" y2="279.30" stroke="#555" stroke-width="0.7" />
<text x="200.40" y="289.20" font-size="7.3" text-anchor="middle" fill="#111" font-weight="normal" dominant-baseline="central" dy="0.93" >Relay</text>
<line x1="200.40" y1="277.70" x2="200.40" y2="279.30" stroke="#555" stroke-width="0.7" />
<text x="114.60" y="289.20" font-size="7.3" text-anchor="middle" fill="#111" font-weight="normal" dominant-baseline="central" dy="0.93" >local</text>
<line x1="57.00" y1="144.40" x2="201.90" y2="144.40" stroke="#666" stroke-width="0.8" />
<text x="69.40" y="147.20" font-size="6.5" text-anchor="middle" fill="#333" font-weight="normal" dominant-baseline="central" dy="0.93" >**</text>
<line x1="85.20" y1="146.20" x2="201.90" y2="146.20" stroke="#777" stroke-width="0.8" />
<text x="98.90" y="148.90" font-size="6.5" text-anchor="middle" fill="#333" font-weight="normal" dominant-baseline="central" dy="0.93" >***</text>
<line x1="114.50" y1="148.20" x2="201.90" y2="148.20" stroke="#888" stroke-width="0.8" />
<text x="127.40" y="149.90" font-size="6.5" text-anchor="middle" fill="#333" font-weight="normal" dominant-baseline="central" dy="0.93" >*</text>
<line x1="143.00" y1="150.00" x2="201.90" y2="150.00" stroke="#aaa" stroke-width="0.8" />
<text x="158.00" y="152.50" font-size="6.5" text-anchor="middle" fill="#333" font-weight="normal" dominant-baseline="central" dy="0.93" >***</text>
<line x1="172.00" y1="151.80" x2="201.90" y2="151.80" stroke="#aaa" stroke-width="0.8" />
<text x="186.20" y="154.30" font-size="6.5" text-anchor="middle" fill="#333" font-weight="normal" dominant-baseline="central" dy="0.93" >*</text>
<line x1="57.20" y1="277.70" x2="57.20" y2="162.10" stroke="#93bd5f" stroke-width="0.8" />
<path d="M45.4 276.2Q57.2 277.7 69.0 276.2" stroke="#8cc04c" stroke-opacity="0.82" stroke-width="1.8" stroke-dasharray="3.6 0.4 2.4 0.45" stroke-dashoffset="1.6" fill="none"/>
<path d="M45.4 273.9Q57.2 275.4 69.0 273.9" stroke="#8cc04c" stroke-opacity="0.82" stroke-width="1.8" stroke-dasharray="5.3 0.4 2.5 0.45" stroke-dashoffset="1.0" fill="none"/>
<path d="M45.4 271.7Q57.2 273.2 69.0 271.7" stroke="#8cc04c" stroke-opacity="0.82" stroke-width="1.8" stroke-dasharray="5.1 0.4 3.1 0.45" stroke-dashoffset="1.5" fill="none"/>
<path d="M45.4 269.4Q57.2 270.9 69.0 269.4" stroke="#8cc04c" stroke-opacity="0.82" stroke-width="1.8" stroke-dasharray="4.5 0.4 2.8 0.45" stroke-dashoffset="3.8" fill="none"/>
<path d="M45.4 267.2Q57.2 268.7 69.0 267.2" stroke="#8cc04c" stroke-opacity="0.82" stroke-width="1.8" stroke-dasharray="3.7 0.4 3.8 0.45" stroke-dashoffset="2.5" fill="none"/>
<path d="M45.4 264.9Q57.2 266.4 69.0 264.9" stroke="#8cc04c" stroke-opacity="0.82" stroke-width="1.8" stroke-dasharray="4.2 0.4 3.4 0.45" stroke-dashoffset="1.5" fill="none"/>
<path d="M45.4 262.7Q57.2 264.2 69.0 262.7" stroke="#8cc04c" stroke-opacity="0.82" stroke-width="1.8" stroke-dasharray="5.0 0.4 3.7 0.45" stroke-dashoffset="0.6" fill="none"/>
<path d="M45.4 260.4Q57.2 261.9 69.0 260.4" stroke="#8cc04c" stroke-opacity="0.82" stroke-width="1.8" stroke-dasharray="5.8 0.4 3.1 0.45" stroke-dashoffset="1.4" fill="none"/>
<path d="M45.4 258.2Q57.2 259.7 69.0 258.2" stroke="#8cc04c" stroke-opacity="0.82" stroke-width="1.8" stroke-dasharray="4.4 0.4 2.8 0.45" stroke-dashoffset="3.1" fill="none"/>
<path d="M47.0 256.0h0M50.4 256.0h0M57.2 256.1h0M60.6 256.2h0M67.4 256.1h0M48.7 253.1h0M55.5 253.2h0M58.9 253.0h0M62.3 253.5h0M65.7 253.5h0M47.0 250.5h0M50.4 250.3h0M53.8 250.1h0M57.2 250.6h0M60.6 250.3h0M67.4 250.6h0M48.7 247.3h0M55.5 247.6h0M58.9 247.7h0M65.7 247.2h0M50.4 244.5h0M57.2 244.5h0M60.6 244.4h0M64.0 244.5h0M48.7 241.5h0M55.5 241.5h0M58.9 241.6h0M65.7 241.8h0M53.8 239.0h0M57.2 238.9h0M60.6 238.7h0M64.0 238.5h0M52.1 235.7h0M55.5 235.7h0M58.9 236.0h0M57.2 233.1h0M60.6 232.7h0M55.5 230.1h0M58.9 229.9h0M57.2 227.3h0M55.6 162.1h0M58.8 162.1h0" stroke="#8cc04c" stroke-opacity="0.82" stroke-width="2.2" stroke-linecap="round" fill="none"/>
<line x1="46.70" y1="276.40" x2="67.70" y2="276.40" stroke="#5e8f22" stroke-width="1.3" stroke-opacity="0.8"/>
<line x1="85.70" y1="277.70" x2="85.70" y2="162.10" stroke="#4cad82" stroke-width="0.8" />
<path d="M73.9 276.2Q85.7 277.7 97.5 276.2" stroke="#33b07a" stroke-opacity="0.82" stroke-width="1.8" stroke-dasharray="5.7 0.4 2.0 0.45" stroke-dashoffset="2.8" fill="none"/>
<path d="M73.9 273.9Q85.7 275.4 97.5 273.9" stroke="#33b07a" stroke-opacity="0.82" stroke-width="1.8" stroke-dasharray="5.5 0.4 2.1 0.45" stroke-dashoffset="3.8" fill="none"/>
<path d="M73.9 271.7Q85.7 273.2 97.5 271.7" stroke="#33b07a" stroke-opacity="0.82" stroke-width="1.8" stroke-dasharray="5.4 0.4 2.4 0.45" stroke-dashoffset="3.2" fill="none"/>
<path d="M73.9 269.4Q85.7 270.9 97.5 269.4" stroke="#33b07a" stroke-opacity="0.82" stroke-width="1.8" stroke-dasharray="4.1 0.4 2.9 0.45" stroke-dashoffset="3.9" fill="none"/>
<path d="M73.9 267.2Q85.7 268.7 97.5 267.2" stroke="#33b07a" stroke-opacity="0.82" stroke-width="1.8" stroke-dasharray="5.1 0.4 3.5 0.45" stroke-dashoffset="2.6" fill="none"/>
<path d="M73.9 264.9Q85.7 266.4 97.5 264.9" stroke="#33b07a" stroke-opacity="0.82" stroke-width="1.8" stroke-dasharray="4.5 0.4 2.3 0.45" stroke-dashoffset="1.1" fill="none"/>
<path d="M73.9 262.7Q85.7 264.2 97.5 262.7" stroke="#33b07a" stroke-opacity="0.82" stroke-width="1.8" stroke-dasharray="4.5 0.4 2.1 0.45" stroke-dashoffset="1.1" fill="none"/>
<path d="M73.9 260.4Q85.7 261.9 97.5 260.4" stroke="#33b07a" stroke-opacity="0.82" stroke-width="1.8" stroke-dasharray="5.4 0.4 2.4 0.45" stroke-dashoffset="1.4" fill="none"/>
<path d="M73.9 258.2Q85.7 259.7 97.5 258.2" stroke="#33b07a" stroke-opacity="0.82" stroke-width="1.8" stroke-dasharray="3.1 0.4 3.5 0.45" stroke-dashoffset="1.7" fill="none"/>
<path d="M73.9 255.9Q85.7 257.4 97.5 255.9" stroke="#33b07a" stroke-opacity="0.82" stroke-width="1.8" stroke-dasharray="3.5 0.4 3.5 0.45" stroke-dashoffset="0.4" fill="none"/>
<path d="M73.9 253.7Q85.7 255.2 97.5 253.7" stroke="#33b07a" stroke-opacity="0.82" stroke-width="1.8" stroke-dasharray="4.7 0.4 3.2 0.45" stroke-dashoffset="1.8" fill="none"/>
<path d="M73.9 251.4Q85.7 252.9 97.5 251.4" stroke="#33b07a" stroke-opacity="0.82" stroke-width="1.8" stroke-dasharray="4.3 0.4 2.3 0.45" stroke-dashoffset="2.0" fill="none"/>
<path d="M73.9 249.2Q85.7 250.7 97.5 249.2" stroke="#33b07a" stroke-opacity="0.82" stroke-width="1.8" stroke-dasharray="3.6 0.4 2.5 0.45" stroke-dashoffset="0.6" fill="none"/>
<path d="M73.9 246.9Q85.7 248.4 97.5 246.9" stroke="#33b07a" stroke-opacity="0.82" stroke-width="1.8" stroke-dasharray="5.7 0.4 2.4 0.45" stroke-dashoffset="1.3" fill="none"/>
<path d="M73.9 244.7Q85.7 246.2 97.5 244.7" stroke="#33b07a" stroke-opacity="0.82" stroke-width="1.8" stroke-dasharray="3.8 0.4 2.3 0.45" stroke-dashoffset="0.5" fill="none"/>
<path d="M75.5 243.5h0M78.9 243.6h0M89.1 243.3h0M92.5 243.4h0M77.2 240.5h0M80.6 240.4h0M84.0 240.8h0M87.4 240.5h0M90.8 240.6h0M94.2 240.3h0M75.5 237.5h0M78.9 237.9h0M82.3 237.9h0M89.1 237.5h0M92.5 237.6h0M95.9 237.8h0M77.2 234.7h0M80.6 234.5h0M84.0 234.5h0M87.4 235.0h0M90.8 234.6h0M94.2 235.0h0M78.9 231.8h0M82.3 231.6h0M85.7 232.0h0M89.1 231.9h0M92.5 231.6h0M80.6 228.9h0M84.0 228.7h0M87.4 228.9h0M90.8 229.0h0M85.7 226.0h0M89.1 226.0h0M84.0 223.4h0M87.4 223.2h0M85.7 220.2h0M89.1 220.1h0M85.7 214.1h0M74.2 162.1h0M75.7 162.1h0M77.3 162.1h0M78.8 162.1h0M80.3 162.1h0M81.9 162.1h0M83.4 162.1h0M84.9 162.1h0M86.5 162.1h0M88.0 162.1h0M89.5 162.1h0M91.1 162.1h0M92.6 162.1h0M94.1 162.1h0M95.7 162.1h0M97.2 162.1h0" stroke="#33b07a" stroke-opacity="0.82" stroke-width="2.2" stroke-linecap="round" fill="none"/>
<line x1="75.20" y1="276.40" x2="96.20" y2="276.40" stroke="#1d8a55" stroke-width="1.3" stroke-opacity="0.8"/>
<line x1="114.60" y1="277.70" x2="114.60" y2="162.10" stroke="#3a8fbf" stroke-width="0.8" />
<path d="M102.8 276.2Q114.6 277.7 126.4 276.2" stroke="#2e95c8" stroke-opacity="0.82" stroke-width="1.8" stroke-dasharray="5.6 0.4 3.4 0.45" stroke-dashoffset="0.1" fill="none"/>
<path d="M102.8 273.9Q114.6 275.4 126.4 273.9" stroke="#2e95c8" stroke-opacity="0.82" stroke-width="1.8" stroke-dasharray="4.6 0.4 2.5 0.45" stroke-dashoffset="0.1" fill="none"/>
<path d="M102.8 271.7Q114.6 273.2 126.4 271.7" stroke="#2e95c8" stroke-opacity="0.82" stroke-width="1.8" stroke-dasharray="5.6 0.4 2.6 0.45" stroke-dashoffset="3.5" fill="none"/>
<path d="M102.8 269.4Q114.6 270.9 126.4 269.4" stroke="#2e95c8" stroke-opacity="0.82" stroke-width="1.8" stroke-dasharray="4.5 0.4 2.6 0.45" stroke-dashoffset="2.4" fill="none"/>
<path d="M102.8 267.2Q114.6 268.7 126.4 267.2" stroke="#2e95c8" stroke-opacity="0.82" stroke-width="1.8" stroke-dasharray="4.2 0.4 2.9 0.45" stroke-dashoffset="1.7" fill="none"/>
<path d="M102.8 264.9Q114.6 266.4 126.4 264.9" stroke="#2e95c8" stroke-opacity="0.82" stroke-width="1.8" stroke-dasharray="5.2 0.4 2.1 0.45" stroke-dashoffset="3.8" fill="none"/>
<path d="M102.8 262.7Q114.6 264.2 126.4 262.7" stroke="#2e95c8" stroke-opacity="0.82" stroke-width="1.8" stroke-dasharray="5.9 0.4 3.5 0.45" stroke-dashoffset="1.4" fill="none"/>
<path d="M102.8 260.4Q114.6 261.9 126.4 260.4" stroke="#2e95c8" stroke-opacity="0.82" stroke-width="1.8" stroke-dasharray="4.9 0.4 3.4 0.45" stroke-dashoffset="2.4" fill="none"/>
<path d="M102.8 258.2Q114.6 259.7 126.4 258.2" stroke="#2e95c8" stroke-opacity="0.82" stroke-width="1.8" stroke-dasharray="4.2 0.4 2.6 0.45" stroke-dashoffset="0.7" fill="none"/>
<path d="M102.8 255.9Q114.6 257.4 126.4 255.9" stroke="#2e95c8" stroke-opacity="0.82" stroke-width="1.8" stroke-dasharray="5.1 0.4 2.1 0.45" stroke-dashoffset="0.8" fill="none"/>
<path d="M102.8 253.7Q114.6 255.2 126.4 253.7" stroke="#2e95c8" stroke-opacity="0.82" stroke-width="1.8" stroke-dasharray="5.1 0.4 3.8 0.45" stroke-dashoffset="0.7" fill="none"/>
<path d="M102.8 251.4Q114.6 252.9 126.4 251.4" stroke="#2e95c8" stroke-opacity="0.82" stroke-width="1.8" stroke-dasharray="5.6 0.4 3.7 0.45" stroke-dashoffset="1.2" fill="none"/>
<path d="M102.8 249.2Q114.6 250.7 126.4 249.2" stroke="#2e95c8" stroke-opacity="0.82" stroke-width="1.8" stroke-dasharray="5.7 0.4 2.3 0.45" stroke-dashoffset="0.6" fill="none"/>
<path d="M102.8 246.9Q114.6 248.4 126.4 246.9" stroke="#2e95c8" stroke-opacity="0.82" stroke-width="1.8" stroke-dasharray="3.3 0.4 2.2 0.45" stroke-dashoffset="1.9" fill="none"/>
<path d="M111.2 246.1h0M114.6 246.0h0M118.0 245.9h0M106.1 243.1h0M109.5 243.0h0M123.1 243.0h0M107.8 240.1h0M111.2 240.3h0M114.6 240.1h0M118.0 240.0h0M116.3 237.0h0M119.7 237.3h0M111.2 234.2h0M114.6 234.3h0M109.5 231.5h0M119.7 231.4h0M116.3 225.6h0M114.6 211.2h0M112.8 162.1h0M116.4 162.1h0" stroke="#2e95c8" stroke-opacity="0.82" stroke-width="2.2" stroke-linecap="round" fill="none"/>
<line x1="104.10" y1="276.40" x2="125.10" y2="276.40" stroke="#1c6e9e" stroke-width="1.3" stroke-opacity="0.8"/>
<line x1="143.20" y1="277.70" x2="143.20" y2="162.10" stroke="#4f5cc8" stroke-width="0.8" />
<path d="M131.4 276.2Q143.2 277.7 155.0 276.2" stroke="#4b5bd6" stroke-opacity="0.82" stroke-width="1.8" stroke-dasharray="3.6 0.4 3.9 0.45" stroke-dashoffset="2.1" fill="none"/>
<path d="M131.4 273.9Q143.2 275.4 155.0 273.9" stroke="#4b5bd6" stroke-opacity="0.82" stroke-width="1.8" stroke-dasharray="4.8 0.4 3.9 0.45" stroke-dashoffset="2.5" fill="none"/>
<path d="M131.4 271.7Q143.2 273.2 155.0 271.7" stroke="#4b5bd6" stroke-opacity="0.82" stroke-width="1.8" stroke-dasharray="5.4 0.4 2.4 0.45" stroke-dashoffset="0.4" fill="none"/>
<path d="M131.4 269.4Q143.2 270.9 155.0 269.4" stroke="#4b5bd6" stroke-opacity="0.82" stroke-width="1.8" stroke-dasharray="4.0 0.4 3.5 0.45" stroke-dashoffset="1.0" fill="none"/>
<path d="M131.4 267.2Q143.2 268.7 155.0 267.2" stroke="#4b5bd6" stroke-opacity="0.82" stroke-width="1.8" stroke-dasharray="5.1 0.4 2.6 0.45" stroke-dashoffset="3.8" fill="none"/>
<path d="M131.4 264.9Q143.2 266.4 155.0 264.9" stroke="#4b5bd6" stroke-opacity="0.82" stroke-width="1.8" stroke-dasharray="3.9 0.4 2.4 0.45" stroke-dashoffset="0.5" fill="none"/>
<path d="M131.4 262.7Q143.2 264.2 155.0 262.7" stroke="#4b5bd6" stroke-opacity="0.82" stroke-width="1.8" stroke-dasharray="4.5 0.4 2.2 0.45" stroke-dashoffset="2.0" fill="none"/>
<path d="M131.4 260.4Q143.2 261.9 155.0 260.4" stroke="#4b5bd6" stroke-opacity="0.82" stroke-width="1.8" stroke-dasharray="5.6 0.4 3.4 0.45" stroke-dashoffset="0.8" fill="none"/>
<path d="M131.4 258.2Q143.2 259.7 155.0 258.2" stroke="#4b5bd6" stroke-opacity="0.82" stroke-width="1.8" stroke-dasharray="5.6 0.4 2.9 0.45" stroke-dashoffset="0.4" fill="none"/>
<path d="M131.4 255.9Q143.2 257.4 155.0 255.9" stroke="#4b5bd6" stroke-opacity="0.82" stroke-width="1.8" stroke-dasharray="5.4 0.4 3.4 0.45" stroke-dashoffset="1.5" fill="none"/>
<path d="M131.4 253.7Q143.2 255.2 155.0 253.7" stroke="#4b5bd6" stroke-opacity="0.82" stroke-width="1.8" stroke-dasharray="4.2 0.4 3.1 0.45" stroke-dashoffset="1.7" fill="none"/>
<path d="M131.4 251.4Q143.2 252.9 155.0 251.4" stroke="#4b5bd6" stroke-opacity="0.82" stroke-width="1.8" stroke-dasharray="5.1 0.4 2.2 0.45" stroke-dashoffset="3.3" fill="none"/>
<path d="M131.4 249.2Q143.2 250.7 155.0 249.2" stroke="#4b5bd6" stroke-opacity="0.82" stroke-width="1.8" stroke-dasharray="4.1 0.4 2.6 0.45" stroke-dashoffset="0.1" fill="none"/>
<path d="M131.4 246.9Q143.2 248.4 155.0 246.9" stroke="#4b5bd6" stroke-opacity="0.82" stroke-width="1.8" stroke-dasharray="4.8 0.4 2.3 0.45" stroke-dashoffset="3.1" fill="none"/>
<path d="M133.0 245.0h0M139.8 245.3h0M143.2 244.8h0M146.6 245.0h0M141.5 242.4h0M144.9 241.9h0M148.3 242.4h0M151.7 242.2h0M136.4 239.1h0M139.8 239.1h0M143.2 239.0h0M150.0 239.3h0M141.5 236.4h0M143.2 225.4h0M131.7 162.1h0M133.3 162.1h0M135.0 162.1h0M136.6 162.1h0M138.3 162.1h0M139.9 162.1h0M141.6 162.1h0M143.2 162.1h0M144.8 162.1h0M146.5 162.1h0M148.1 162.1h0M149.8 162.1h0M151.4 162.1h0M153.1 162.1h0M154.7 162.1h0" stroke="#4b5bd6" stroke-opacity="0.82" stroke-width="2.2" stroke-linecap="round" fill="none"/>
<line x1="132.70" y1="276.40" x2="153.70" y2="276.40" stroke="#2a37a8" stroke-width="1.3" stroke-opacity="0.8"/>
<line x1="171.80" y1="277.70" x2="171.80" y2="162.10" stroke="#d985d9" stroke-width="0.8" />
<path d="M160.0 276.2Q171.8 277.7 183.6 276.2" stroke="#e06ee0" stroke-opacity="0.82" stroke-width="1.8" stroke-dasharray="4.9 0.4 3.1 0.45" stroke-dashoffset="0.2" fill="none"/>
<path d="M160.0 273.9Q171.8 275.4 183.6 273.9" stroke="#e06ee0" stroke-opacity="0.82" stroke-width="1.8" stroke-dasharray="3.1 0.4 3.9 0.45" stroke-dashoffset="0.4" fill="none"/>
<path d="M160.0 271.7Q171.8 273.2 183.6 271.7" stroke="#e06ee0" stroke-opacity="0.82" stroke-width="1.8" stroke-dasharray="3.9 0.4 3.3 0.45" stroke-dashoffset="1.6" fill="none"/>
<path d="M160.0 269.4Q171.8 270.9 183.6 269.4" stroke="#e06ee0" stroke-opacity="0.82" stroke-width="1.8" stroke-dasharray="3.9 0.4 3.9 0.45" stroke-dashoffset="3.7" fill="none"/>
<path d="M160.0 267.2Q171.8 268.7 183.6 267.2" stroke="#e06ee0" stroke-opacity="0.82" stroke-width="1.8" stroke-dasharray="5.9 0.4 3.4 0.45" stroke-dashoffset="1.3" fill="none"/>
<path d="M160.0 264.9Q171.8 266.4 183.6 264.9" stroke="#e06ee0" stroke-opacity="0.82" stroke-width="1.8" stroke-dasharray="5.8 0.4 2.2 0.45" stroke-dashoffset="0.5" fill="none"/>
<path d="M160.0 262.7Q171.8 264.2 183.6 262.7" stroke="#e06ee0" stroke-opacity="0.82" stroke-width="1.8" stroke-dasharray="4.8 0.4 4.0 0.45" stroke-dashoffset="0.4" fill="none"/>
<path d="M160.0 260.4Q171.8 261.9 183.6 260.4" stroke="#e06ee0" stroke-opacity="0.82" stroke-width="1.8" stroke-dasharray="5.9 0.4 3.5 0.45" stroke-dashoffset="0.1" fill="none"/>
<path d="M160.0 258.2Q171.8 259.7 183.6 258.2" stroke="#e06ee0" stroke-opacity="0.82" stroke-width="1.8" stroke-dasharray="4.1 0.4 2.8 0.45" stroke-dashoffset="2.8" fill="none"/>
<path d="M160.0 255.9Q171.8 257.4 183.6 255.9" stroke="#e06ee0" stroke-opacity="0.82" stroke-width="1.8" stroke-dasharray="4.5 0.4 2.5 0.45" stroke-dashoffset="1.1" fill="none"/>
<path d="M160.0 253.7Q171.8 255.2 183.6 253.7" stroke="#e06ee0" stroke-opacity="0.82" stroke-width="1.8" stroke-dasharray="4.1 0.4 2.1 0.45" stroke-dashoffset="0.4" fill="none"/>
<path d="M160.0 251.4Q171.8 252.9 183.6 251.4" stroke="#e06ee0" stroke-opacity="0.82" stroke-width="1.8" stroke-dasharray="3.6 0.4 2.6 0.45" stroke-dashoffset="2.9" fill="none"/>
<path d="M160.0 249.2Q171.8 250.7 183.6 249.2" stroke="#e06ee0" stroke-opacity="0.82" stroke-width="1.8" stroke-dasharray="5.2 0.4 3.7 0.45" stroke-dashoffset="1.7" fill="none"/>
<path d="M160.0 246.9Q171.8 248.4 183.6 246.9" stroke="#e06ee0" stroke-opacity="0.82" stroke-width="1.8" stroke-dasharray="3.8 0.4 3.6 0.45" stroke-dashoffset="3.3" fill="none"/>
<path d="M178.6 246.1h0M166.7 242.9h0M170.1 242.9h0M165.0 240.1h0M168.4 239.9h0M171.8 240.3h0M175.2 240.0h0M178.6 240.0h0M163.3 237.3h0M166.7 237.3h0M176.9 236.9h0M165.0 234.3h0M168.4 234.4h0M175.2 234.1h0M171.8 227.8h0M170.0 162.1h0M173.6 162.1h0" stroke="#e06ee0" stroke-opacity="0.82" stroke-width="2.2" stroke-linecap="round" fill="none"/>
<line x1="161.30" y1="276.40" x2="182.30" y2="276.40" stroke="#b540b5" stroke-width="1.3" stroke-opacity="0.8"/>
<line x1="200.40" y1="277.70" x2="200.40" y2="231.81" stroke="#6b9a35" stroke-width="0.8" />
<path d="M188.6 276.2Q200.4 277.7 212.2 276.2" stroke="#6ba22f" stroke-opacity="0.82" stroke-width="1.8" stroke-dasharray="3.6 0.4 4.0 0.45" stroke-dashoffset="1.9" fill="none"/>
<path d="M188.6 273.9Q200.4 275.4 212.2 273.9" stroke="#6ba22f" stroke-opacity="0.82" stroke-width="1.8" stroke-dasharray="5.2 0.4 3.7 0.45" stroke-dashoffset="3.6" fill="none"/>
<path d="M188.6 271.7Q200.4 273.2 212.2 271.7" stroke="#6ba22f" stroke-opacity="0.82" stroke-width="1.8" stroke-dasharray="5.3 0.4 2.2 0.45" stroke-dashoffset="0.1" fill="none"/>
<path d="M188.6 269.4Q200.4 270.9 212.2 269.4" stroke="#6ba22f" stroke-opacity="0.82" stroke-width="1.8" stroke-dasharray="4.5 0.4 2.5 0.45" stroke-dashoffset="1.6" fill="none"/>
<path d="M188.6 267.2Q200.4 268.7 212.2 267.2" stroke="#6ba22f" stroke-opacity="0.82" stroke-width="1.8" stroke-dasharray="4.4 0.4 2.1 0.45" stroke-dashoffset="2.2" fill="none"/>
<path d="M188.6 264.9Q200.4 266.4 212.2 264.9" stroke="#6ba22f" stroke-opacity="0.82" stroke-width="1.8" stroke-dasharray="4.5 0.4 3.6 0.45" stroke-dashoffset="1.1" fill="none"/>
<path d="M188.6 262.7Q200.4 264.2 212.2 262.7" stroke="#6ba22f" stroke-opacity="0.82" stroke-width="1.8" stroke-dasharray="3.8 0.4 3.8 0.45" stroke-dashoffset="2.9" fill="none"/>
<path d="M188.6 260.4Q200.4 261.9 212.2 260.4" stroke="#6ba22f" stroke-opacity="0.82" stroke-width="1.8" stroke-dasharray="5.1 0.4 2.5 0.45" stroke-dashoffset="3.0" fill="none"/>
<path d="M193.6 257.9h0M200.4 258.1h0M203.8 258.0h0M207.2 258.2h0M195.3 255.3h0M198.7 254.9h0M202.1 255.4h0M200.4 252.0h0M203.8 252.4h0M195.3 249.0h0M198.7 249.5h0M202.1 249.5h0M197.0 246.2h0M203.8 246.2h0M202.1 243.6h0M197.0 240.3h0M203.8 240.5h0M195.3 237.5h0M205.5 237.9h0M197.0 234.7h0M200.4 234.7h0M207.2 234.7h0M195.3 231.8h0M198.7 231.6h0M205.5 231.7h0" stroke="#6ba22f" stroke-opacity="0.82" stroke-width="2.2" stroke-linecap="round" fill="none"/>
<line x1="189.90" y1="276.40" x2="210.90" y2="276.40" stroke="#4a7a18" stroke-width="1.3" stroke-opacity="0.8"/>
<rect x="186.20" y="320.45" width="31.20" height="121.35" fill="#dcdcdc" stroke="none" stroke-width="1" rx="0" />
<path d="M33.4,320.45 L217.4,320.45 L217.4,441.8 M33.4,320.45 L33.4,441.8 L217.4,441.8" fill="none" stroke="#777" stroke-width="0.9" />
<line x1="31.20" y1="326.05" x2="33.40" y2="326.05" stroke="#555" stroke-width="0.7" />
<text x="30.00" y="326.05" font-size="7.3" text-anchor="end" fill="#111" font-weight="normal" dominant-baseline="central" dy="0.93" >(fn)</text>
<line x1="31.20" y1="349.20" x2="33.40" y2="349.20" stroke="#555" stroke-width="0.7" />
<text x="30.00" y="349.20" font-size="7.3" text-anchor="end" fill="#111" font-weight="normal" dominant-baseline="central" dy="0.93" >80</text>
<line x1="31.20" y1="372.35" x2="33.40" y2="372.35" stroke="#555" stroke-width="0.7" />
<text x="30.00" y="372.35" font-size="7.3" text-anchor="end" fill="#111" font-weight="normal" dominant-baseline="central" dy="0.93" >60</text>
<line x1="31.20" y1="395.50" x2="33.40" y2="395.50" stroke="#555" stroke-width="0.7" />
<text x="30.00" y="395.50" font-size="7.3" text-anchor="end" fill="#111" font-weight="normal" dominant-baseline="central" dy="0.93" >40</text>
<line x1="31.20" y1="418.65" x2="33.40" y2="418.65" stroke="#555" stroke-width="0.7" />
<text x="30.00" y="418.65" font-size="7.3" text-anchor="end" fill="#111" font-weight="normal" dominant-baseline="central" dy="0.93" >20</text>
<line x1="31.20" y1="441.80" x2="33.40" y2="441.80" stroke="#555" stroke-width="0.7" />
<text x="30.00" y="441.80" font-size="7.3" text-anchor="end" fill="#111" font-weight="normal" dominant-baseline="central" dy="0.93" >0</text>
<text x="21.00" y="314.85" font-size="7.0" text-anchor="start" fill="#111" font-weight="normal" dominant-baseline="central" dy="0.93" >HD</text>
<path d="M33.0,312.25 V317.84999999999997 M31.6,316.25 L33.0,318.25 L34.4,316.25" fill="none" stroke="#111" stroke-width="0.8" />
<text x="14.70" y="303.70" font-size="9.5" text-anchor="middle" fill="#000" font-weight="bold" dominant-baseline="central" dy="0.93" >f</text>
<text x="0" y="0" font-size="8" text-anchor="middle" fill="#111" dominant-baseline="central" dy="0.93" transform="translate(6.2,373) rotate(-90)">external test sets</text>
<text x="57.20" y="447.00" font-size="7.3" text-anchor="middle" fill="#111" font-weight="normal" dominant-baseline="central" dy="0.93" >1</text>
<line x1="57.20" y1="441.80" x2="57.20" y2="443.40" stroke="#555" stroke-width="0.7" />
<text x="85.70" y="447.00" font-size="7.3" text-anchor="middle" fill="#111" font-weight="normal" dominant-baseline="central" dy="0.93" >2</text>
<line x1="85.70" y1="441.80" x2="85.70" y2="443.40" stroke="#555" stroke-width="0.7" />
<text x="114.60" y="447.00" font-size="7.3" text-anchor="middle" fill="#111" font-weight="normal" dominant-baseline="central" dy="0.93" >3</text>
<line x1="114.60" y1="441.80" x2="114.60" y2="443.40" stroke="#555" stroke-width="0.7" />
<text x="143.20" y="447.00" font-size="7.3" text-anchor="middle" fill="#111" font-weight="normal" dominant-baseline="central" dy="0.93" >4</text>
<line x1="143.20" y1="441.80" x2="143.20" y2="443.40" stroke="#555" stroke-width="0.7" />
<text x="171.80" y="447.00" font-size="7.3" text-anchor="middle" fill="#111" font-weight="normal" dominant-baseline="central" dy="0.93" >5</text>
<line x1="171.80" y1="441.80" x2="171.80" y2="443.40" stroke="#555" stroke-width="0.7" />
<text x="200.40" y="453.60" font-size="7.3" text-anchor="middle" fill="#111" font-weight="normal" dominant-baseline="central" dy="0.93" >Relay</text>
<line x1="200.40" y1="441.80" x2="200.40" y2="443.40" stroke="#555" stroke-width="0.7" />
<text x="114.60" y="453.60" font-size="7.3" text-anchor="middle" fill="#111" font-weight="normal" dominant-baseline="central" dy="0.93" >local</text>
<line x1="57.00" y1="308.90" x2="201.90" y2="308.90" stroke="#777" stroke-width="0.8" />
<text x="69.40" y="312.50" font-size="6.5" text-anchor="middle" fill="#333" font-weight="normal" dominant-baseline="central" dy="0.93" >ns</text>
<line x1="85.20" y1="310.70" x2="201.90" y2="310.70" stroke="#777" stroke-width="0.8" />
<text x="98.90" y="313.10" font-size="6.5" text-anchor="middle" fill="#333" font-weight="normal" dominant-baseline="central" dy="0.93" >***</text>
<line x1="114.50" y1="312.60" x2="201.90" y2="312.60" stroke="#888" stroke-width="0.8" />
<text x="127.40" y="314.90" font-size="6.5" text-anchor="middle" fill="#333" font-weight="normal" dominant-baseline="central" dy="0.93" >**</text>
<line x1="143.00" y1="314.40" x2="201.90" y2="314.40" stroke="#aaa" stroke-width="0.8" />
<text x="158.00" y="316.90" font-size="6.5" text-anchor="middle" fill="#333" font-weight="normal" dominant-baseline="central" dy="0.93" >***</text>
<line x1="172.00" y1="316.20" x2="201.90" y2="316.20" stroke="#aaa" stroke-width="0.8" />
<text x="186.20" y="318.70" font-size="6.5" text-anchor="middle" fill="#333" font-weight="normal" dominant-baseline="central" dy="0.93" >**</text>
<line x1="57.20" y1="441.80" x2="57.20" y2="326.05" stroke="#93bd5f" stroke-width="0.8" />
<path d="M45.4 440.3Q57.2 441.8 69.0 440.3" stroke="#8cc04c" stroke-opacity="0.82" stroke-width="1.8" stroke-dasharray="4.8 0.4 2.3 0.45" stroke-dashoffset="0.6" fill="none"/>
<path d="M45.4 438.1Q57.2 439.6 69.0 438.1" stroke="#8cc04c" stroke-opacity="0.82" stroke-width="1.8" stroke-dasharray="4.8 0.4 2.8 0.45" stroke-dashoffset="2.9" fill="none"/>
<path d="M45.4 435.8Q57.2 437.3 69.0 435.8" stroke="#8cc04c" stroke-opacity="0.82" stroke-width="1.8" stroke-dasharray="4.7 0.4 2.1 0.45" stroke-dashoffset="2.5" fill="none"/>
<path d="M45.4 433.6Q57.2 435.1 69.0 433.6" stroke="#8cc04c" stroke-opacity="0.82" stroke-width="1.8" stroke-dasharray="4.9 0.4 3.0 0.45" stroke-dashoffset="2.1" fill="none"/>
<path d="M45.4 431.3Q57.2 432.8 69.0 431.3" stroke="#8cc04c" stroke-opacity="0.82" stroke-width="1.8" stroke-dasharray="5.2 0.4 2.8 0.45" stroke-dashoffset="3.5" fill="none"/>
<path d="M45.4 429.1Q57.2 430.6 69.0 429.1" stroke="#8cc04c" stroke-opacity="0.82" stroke-width="1.8" stroke-dasharray="3.4 0.4 3.6 0.45" stroke-dashoffset="0.9" fill="none"/>
<path d="M45.4 426.8Q57.2 428.3 69.0 426.8" stroke="#8cc04c" stroke-opacity="0.82" stroke-width="1.8" stroke-dasharray="4.8 0.4 2.9 0.45" stroke-dashoffset="2.8" fill="none"/>
<path d="M45.4 424.6Q57.2 426.1 69.0 424.6" stroke="#8cc04c" stroke-opacity="0.82" stroke-width="1.8" stroke-dasharray="3.7 0.4 3.1 0.45" stroke-dashoffset="2.0" fill="none"/>
<path d="M45.4 422.3Q57.2 423.8 69.0 422.3" stroke="#8cc04c" stroke-opacity="0.82" stroke-width="1.8" stroke-dasharray="4.9 0.4 3.3 0.45" stroke-dashoffset="0.6" fill="none"/>
<path d="M47.0 419.6h0M50.4 419.7h0M53.8 419.5h0M57.2 419.6h0M60.6 419.6h0M64.0 419.5h0M52.1 416.5h0M55.5 416.8h0M62.3 416.6h0M65.7 416.5h0M50.4 413.5h0M53.8 413.8h0M60.6 413.5h0M64.0 413.8h0M48.7 411.0h0M52.1 410.8h0M58.9 410.7h0M62.3 410.9h0M65.7 410.9h0M50.4 408.0h0M64.0 408.2h0M52.1 405.1h0M62.3 405.2h0M53.8 402.4h0M57.2 402.2h0M57.2 395.2h0M57.2 326.1h0" stroke="#8cc04c" stroke-opacity="0.82" stroke-width="2.2" stroke-linecap="round" fill="none"/>
<line x1="46.70" y1="440.50" x2="67.70" y2="440.50" stroke="#5e8f22" stroke-width="1.3" stroke-opacity="0.8"/>
<line x1="85.70" y1="441.80" x2="85.70" y2="326.05" stroke="#4cad82" stroke-width="0.8" />
<path d="M73.9 440.3Q85.7 441.8 97.5 440.3" stroke="#33b07a" stroke-opacity="0.82" stroke-width="1.8" stroke-dasharray="4.4 0.4 3.1 0.45" stroke-dashoffset="1.1" fill="none"/>
<path d="M73.9 438.1Q85.7 439.6 97.5 438.1" stroke="#33b07a" stroke-opacity="0.82" stroke-width="1.8" stroke-dasharray="4.5 0.4 3.9 0.45" stroke-dashoffset="0.4" fill="none"/>
<path d="M73.9 435.8Q85.7 437.3 97.5 435.8" stroke="#33b07a" stroke-opacity="0.82" stroke-width="1.8" stroke-dasharray="4.6 0.4 3.6 0.45" stroke-dashoffset="2.3" fill="none"/>
<path d="M73.9 433.6Q85.7 435.1 97.5 433.6" stroke="#33b07a" stroke-opacity="0.82" stroke-width="1.8" stroke-dasharray="3.8 0.4 3.7 0.45" stroke-dashoffset="1.8" fill="none"/>
<path d="M73.9 431.3Q85.7 432.8 97.5 431.3" stroke="#33b07a" stroke-opacity="0.82" stroke-width="1.8" stroke-dasharray="5.7 0.4 3.8 0.45" stroke-dashoffset="0.7" fill="none"/>
<path d="M73.9 429.1Q85.7 430.6 97.5 429.1" stroke="#33b07a" stroke-opacity="0.82" stroke-width="1.8" stroke-dasharray="4.5 0.4 2.1 0.45" stroke-dashoffset="2.2" fill="none"/>
<path d="M73.9 426.8Q85.7 428.3 97.5 426.8" stroke="#33b07a" stroke-opacity="0.82" stroke-width="1.8" stroke-dasharray="5.3 0.4 3.5 0.45" stroke-dashoffset="0.7" fill="none"/>
<path d="M73.9 424.6Q85.7 426.1 97.5 424.6" stroke="#33b07a" stroke-opacity="0.82" stroke-width="1.8" stroke-dasharray="3.4 0.4 3.4 0.45" stroke-dashoffset="2.5" fill="none"/>
<path d="M73.9 422.3Q85.7 423.8 97.5 422.3" stroke="#33b07a" stroke-opacity="0.82" stroke-width="1.8" stroke-dasharray="5.6 0.4 3.3 0.45" stroke-dashoffset="4.0" fill="none"/>
<path d="M73.9 420.1Q85.7 421.6 97.5 420.1" stroke="#33b07a" stroke-opacity="0.82" stroke-width="1.8" stroke-dasharray="4.3 0.4 2.3 0.45" stroke-dashoffset="1.8" fill="none"/>
<path d="M73.9 417.8Q85.7 419.3 97.5 417.8" stroke="#33b07a" stroke-opacity="0.82" stroke-width="1.8" stroke-dasharray="5.9 0.4 2.8 0.45" stroke-dashoffset="0.2" fill="none"/>
<path d="M73.9 415.6Q85.7 417.1 97.5 415.6" stroke="#33b07a" stroke-opacity="0.82" stroke-width="1.8" stroke-dasharray="4.5 0.4 4.0 0.45" stroke-dashoffset="1.6" fill="none"/>
<path d="M73.9 413.3Q85.7 414.8 97.5 413.3" stroke="#33b07a" stroke-opacity="0.82" stroke-width="1.8" stroke-dasharray="5.1 0.4 3.6 0.45" stroke-dashoffset="3.7" fill="none"/>
<path d="M73.9 411.1Q85.7 412.6 97.5 411.1" stroke="#33b07a" stroke-opacity="0.82" stroke-width="1.8" stroke-dasharray="4.9 0.4 3.6 0.45" stroke-dashoffset="2.1" fill="none"/>
<path d="M73.9 408.8Q85.7 410.3 97.5 408.8" stroke="#33b07a" stroke-opacity="0.82" stroke-width="1.8" stroke-dasharray="3.1 0.4 2.9 0.45" stroke-dashoffset="2.7" fill="none"/>
<path d="M75.5 406.9h0M78.9 406.8h0M82.3 407.2h0M89.1 407.1h0M92.5 407.0h0M95.9 406.8h0M77.2 404.4h0M80.6 404.4h0M84.0 404.2h0M87.4 404.4h0M90.8 404.4h0M94.2 404.3h0M75.5 401.4h0M78.9 401.4h0M82.3 401.3h0M89.1 401.4h0M92.5 401.1h0M95.9 401.2h0M77.2 398.5h0M80.6 398.5h0M84.0 398.5h0M90.8 398.5h0M94.2 398.5h0M75.5 395.3h0M78.9 395.5h0M82.3 395.3h0M85.7 395.5h0M89.1 395.2h0M92.5 395.5h0M95.9 395.2h0M77.2 392.8h0M80.6 392.4h0M87.4 392.7h0M90.8 392.8h0M94.2 392.3h0M78.9 389.7h0M82.3 389.7h0M85.7 389.8h0M89.1 389.7h0M92.5 389.7h0M85.7 379.3h0M85.7 377.0h0M85.7 374.7h0M85.7 358.5h0M74.2 326.1h0M75.7 326.1h0M77.3 326.1h0M78.8 326.1h0M80.3 326.1h0M81.9 326.1h0M83.4 326.1h0M84.9 326.1h0M86.5 326.1h0M88.0 326.1h0M89.5 326.1h0M91.1 326.1h0M92.6 326.1h0M94.1 326.1h0M95.7 326.1h0M97.2 326.1h0" stroke="#33b07a" stroke-opacity="0.82" stroke-width="2.2" stroke-linecap="round" fill="none"/>
<line x1="75.20" y1="440.50" x2="96.20" y2="440.50" stroke="#1d8a55" stroke-width="1.3" stroke-opacity="0.8"/>
<line x1="114.60" y1="441.80" x2="114.60" y2="326.05" stroke="#3a8fbf" stroke-width="0.8" />
<path d="M102.8 440.3Q114.6 441.8 126.4 440.3" stroke="#2e95c8" stroke-opacity="0.82" stroke-width="1.8" stroke-dasharray="4.8 0.4 3.4 0.45" stroke-dashoffset="3.3" fill="none"/>
<path d="M102.8 438.1Q114.6 439.6 126.4 438.1" stroke="#2e95c8" stroke-opacity="0.82" stroke-width="1.8" stroke-dasharray="4.9 0.4 3.5 0.45" stroke-dashoffset="0.0" fill="none"/>
<path d="M102.8 435.8Q114.6 437.3 126.4 435.8" stroke="#2e95c8" stroke-opacity="0.82" stroke-width="1.8" stroke-dasharray="4.5 0.4 2.5 0.45" stroke-dashoffset="1.9" fill="none"/>
<path d="M102.8 433.6Q114.6 435.1 126.4 433.6" stroke="#2e95c8" stroke-opacity="0.82" stroke-width="1.8" stroke-dasharray="4.8 0.4 3.7 0.45" stroke-dashoffset="1.6" fill="none"/>
<path d="M102.8 431.3Q114.6 432.8 126.4 431.3" stroke="#2e95c8" stroke-opacity="0.82" stroke-width="1.8" stroke-dasharray="4.4 0.4 2.6 0.45" stroke-dashoffset="2.3" fill="none"/>
<path d="M102.8 429.1Q114.6 430.6 126.4 429.1" stroke="#2e95c8" stroke-opacity="0.82" stroke-width="1.8" stroke-dasharray="4.0 0.4 2.1 0.45" stroke-dashoffset="3.0" fill="none"/>
<path d="M102.8 426.8Q114.6 428.3 126.4 426.8" stroke="#2e95c8" stroke-opacity="0.82" stroke-width="1.8" stroke-dasharray="4.6 0.4 3.7 0.45" stroke-dashoffset="2.2" fill="none"/>
<path d="M102.8 424.6Q114.6 426.1 126.4 424.6" stroke="#2e95c8" stroke-opacity="0.82" stroke-width="1.8" stroke-dasharray="5.1 0.4 2.7 0.45" stroke-dashoffset="1.8" fill="none"/>
<path d="M102.8 422.3Q114.6 423.8 126.4 422.3" stroke="#2e95c8" stroke-opacity="0.82" stroke-width="1.8" stroke-dasharray="3.2 0.4 2.9 0.45" stroke-dashoffset="2.0" fill="none"/>
<path d="M102.8 420.1Q114.6 421.6 126.4 420.1" stroke="#2e95c8" stroke-opacity="0.82" stroke-width="1.8" stroke-dasharray="4.2 0.4 2.5 0.45" stroke-dashoffset="0.8" fill="none"/>
<path d="M107.8 418.8h0M111.2 418.6h0M114.6 418.9h0M118.0 418.9h0M124.8 418.6h0M106.1 415.8h0M109.5 416.2h0M116.3 415.7h0M119.7 416.2h0M104.4 412.9h0M107.8 413.1h0M114.6 413.1h0M118.0 413.1h0M121.4 413.1h0M124.8 413.2h0M106.1 410.3h0M109.5 410.0h0M116.3 409.9h0M119.7 410.1h0M123.1 410.0h0M118.0 407.4h0M121.4 407.3h0M109.5 404.5h0M116.3 404.4h0M111.2 401.3h0M118.0 401.5h0M112.9 398.3h0M116.3 398.6h0M118.0 395.5h0M112.9 392.5h0M114.6 389.7h0M114.6 326.1h0" stroke="#2e95c8" stroke-opacity="0.82" stroke-width="2.2" stroke-linecap="round" fill="none"/>
<line x1="104.10" y1="440.50" x2="125.10" y2="440.50" stroke="#1c6e9e" stroke-width="1.3" stroke-opacity="0.8"/>
<line x1="143.20" y1="441.80" x2="143.20" y2="326.05" stroke="#4f5cc8" stroke-width="0.8" />
<path d="M131.4 440.3Q143.2 441.8 155.0 440.3" stroke="#4b5bd6" stroke-opacity="0.82" stroke-width="1.8" stroke-dasharray="3.3 0.4 2.8 0.45" stroke-dashoffset="0.2" fill="none"/>
<path d="M131.4 438.1Q143.2 439.6 155.0 438.1" stroke="#4b5bd6" stroke-opacity="0.82" stroke-width="1.8" stroke-dasharray="5.7 0.4 2.1 0.45" stroke-dashoffset="0.4" fill="none"/>
<path d="M131.4 435.8Q143.2 437.3 155.0 435.8" stroke="#4b5bd6" stroke-opacity="0.82" stroke-width="1.8" stroke-dasharray="4.0 0.4 3.7 0.45" stroke-dashoffset="2.1" fill="none"/>
<path d="M131.4 433.6Q143.2 435.1 155.0 433.6" stroke="#4b5bd6" stroke-opacity="0.82" stroke-width="1.8" stroke-dasharray="4.0 0.4 2.7 0.45" stroke-dashoffset="0.6" fill="none"/>
<path d="M131.4 431.3Q143.2 432.8 155.0 431.3" stroke="#4b5bd6" stroke-opacity="0.82" stroke-width="1.8" stroke-dasharray="3.0 0.4 2.9 0.45" stroke-dashoffset="1.0" fill="none"/>
<path d="M131.4 429.1Q143.2 430.6 155.0 429.1" stroke="#4b5bd6" stroke-opacity="0.82" stroke-width="1.8" stroke-dasharray="4.8 0.4 2.1 0.45" stroke-dashoffset="0.4" fill="none"/>
<path d="M131.4 426.8Q143.2 428.3 155.0 426.8" stroke="#4b5bd6" stroke-opacity="0.82" stroke-width="1.8" stroke-dasharray="4.3 0.4 3.8 0.45" stroke-dashoffset="1.3" fill="none"/>
<path d="M131.4 424.6Q143.2 426.1 155.0 424.6" stroke="#4b5bd6" stroke-opacity="0.82" stroke-width="1.8" stroke-dasharray="3.4 0.4 3.6 0.45" stroke-dashoffset="0.4" fill="none"/>
<path d="M131.4 422.3Q143.2 423.8 155.0 422.3" stroke="#4b5bd6" stroke-opacity="0.82" stroke-width="1.8" stroke-dasharray="5.7 0.4 3.1 0.45" stroke-dashoffset="0.1" fill="none"/>
<path d="M131.4 420.1Q143.2 421.6 155.0 420.1" stroke="#4b5bd6" stroke-opacity="0.82" stroke-width="1.8" stroke-dasharray="5.5 0.4 3.5 0.45" stroke-dashoffset="1.1" fill="none"/>
<path d="M133.0 418.6h0M139.8 419.0h0M143.2 418.7h0M146.6 419.0h0M153.4 418.7h0M134.7 416.1h0M141.5 416.1h0M144.9 415.8h0M151.7 416.0h0M136.4 412.9h0M139.8 413.2h0M138.1 410.2h0M144.9 409.9h0M148.3 410.0h0M146.6 407.2h0M141.5 404.4h0M139.8 401.3h0M146.6 401.3h0M141.5 398.4h0M139.6 326.1h0M143.2 326.1h0M146.8 326.1h0" stroke="#4b5bd6" stroke-opacity="0.82" stroke-width="2.2" stroke-linecap="round" fill="none"/>
<line x1="132.70" y1="440.50" x2="153.70" y2="440.50" stroke="#2a37a8" stroke-width="1.3" stroke-opacity="0.8"/>
<line x1="171.80" y1="441.80" x2="171.80" y2="400.13" stroke="#d985d9" stroke-width="0.8" />
<path d="M160.0 440.3Q171.8 441.8 183.6 440.3" stroke="#e06ee0" stroke-opacity="0.82" stroke-width="1.8" stroke-dasharray="3.8 0.4 3.5 0.45" stroke-dashoffset="2.1" fill="none"/>
<path d="M160.0 438.1Q171.8 439.6 183.6 438.1" stroke="#e06ee0" stroke-opacity="0.82" stroke-width="1.8" stroke-dasharray="4.9 0.4 2.0 0.45" stroke-dashoffset="3.2" fill="none"/>
<path d="M160.0 435.8Q171.8 437.3 183.6 435.8" stroke="#e06ee0" stroke-opacity="0.82" stroke-width="1.8" stroke-dasharray="4.0 0.4 4.0 0.45" stroke-dashoffset="1.0" fill="none"/>
<path d="M160.0 433.6Q171.8 435.1 183.6 433.6" stroke="#e06ee0" stroke-opacity="0.82" stroke-width="1.8" stroke-dasharray="4.6 0.4 3.3 0.45" stroke-dashoffset="2.6" fill="none"/>
<path d="M160.0 431.3Q171.8 432.8 183.6 431.3" stroke="#e06ee0" stroke-opacity="0.82" stroke-width="1.8" stroke-dasharray="5.1 0.4 3.3 0.45" stroke-dashoffset="0.4" fill="none"/>
<path d="M160.0 429.1Q171.8 430.6 183.6 429.1" stroke="#e06ee0" stroke-opacity="0.82" stroke-width="1.8" stroke-dasharray="4.1 0.4 2.8 0.45" stroke-dashoffset="0.8" fill="none"/>
<path d="M160.0 426.8Q171.8 428.3 183.6 426.8" stroke="#e06ee0" stroke-opacity="0.82" stroke-width="1.8" stroke-dasharray="4.1 0.4 2.1 0.45" stroke-dashoffset="3.8" fill="none"/>
<path d="M160.0 424.6Q171.8 426.1 183.6 424.6" stroke="#e06ee0" stroke-opacity="0.82" stroke-width="1.8" stroke-dasharray="5.6 0.4 2.7 0.45" stroke-dashoffset="3.3" fill="none"/>
<path d="M160.0 422.3Q171.8 423.8 183.6 422.3" stroke="#e06ee0" stroke-opacity="0.82" stroke-width="1.8" stroke-dasharray="5.9 0.4 2.8 0.45" stroke-dashoffset="2.9" fill="none"/>
<path d="M160.0 420.1Q171.8 421.6 183.6 420.1" stroke="#e06ee0" stroke-opacity="0.82" stroke-width="1.8" stroke-dasharray="4.6 0.4 3.1 0.45" stroke-dashoffset="2.7" fill="none"/>
<path d="M160.0 417.8Q171.8 419.3 183.6 417.8" stroke="#e06ee0" stroke-opacity="0.82" stroke-width="1.8" stroke-dasharray="5.5 0.4 3.8 0.45" stroke-dashoffset="2.2" fill="none"/>
<path d="M161.6 416.5h0M165.0 416.5h0M168.4 416.0h0M171.8 416.5h0M175.2 416.4h0M182.0 416.5h0M163.3 413.6h0M166.7 413.3h0M170.1 413.5h0M173.5 413.5h0M176.9 413.3h0M165.0 410.6h0M168.4 410.5h0M171.8 410.2h0M175.2 410.7h0M166.7 407.5h0M170.1 407.5h0M173.5 407.4h0M176.9 407.9h0M173.5 402.1h0" stroke="#e06ee0" stroke-opacity="0.82" stroke-width="2.2" stroke-linecap="round" fill="none"/>
<line x1="161.30" y1="440.50" x2="182.30" y2="440.50" stroke="#b540b5" stroke-width="1.3" stroke-opacity="0.8"/>
<line x1="200.40" y1="441.80" x2="200.40" y2="326.05" stroke="#6b9a35" stroke-width="0.8" />
<path d="M188.6 440.3Q200.4 441.8 212.2 440.3" stroke="#6ba22f" stroke-opacity="0.82" stroke-width="1.8" stroke-dasharray="4.2 0.4 4.0 0.45" stroke-dashoffset="0.3" fill="none"/>
<path d="M188.6 438.1Q200.4 439.6 212.2 438.1" stroke="#6ba22f" stroke-opacity="0.82" stroke-width="1.8" stroke-dasharray="4.0 0.4 3.6 0.45" stroke-dashoffset="0.9" fill="none"/>
<path d="M188.6 435.8Q200.4 437.3 212.2 435.8" stroke="#6ba22f" stroke-opacity="0.82" stroke-width="1.8" stroke-dasharray="4.5 0.4 3.9 0.45" stroke-dashoffset="3.6" fill="none"/>
<path d="M188.6 433.6Q200.4 435.1 212.2 433.6" stroke="#6ba22f" stroke-opacity="0.82" stroke-width="1.8" stroke-dasharray="4.6 0.4 2.3 0.45" stroke-dashoffset="3.4" fill="none"/>
<path d="M188.6 431.3Q200.4 432.8 212.2 431.3" stroke="#6ba22f" stroke-opacity="0.82" stroke-width="1.8" stroke-dasharray="4.6 0.4 2.0 0.45" stroke-dashoffset="1.7" fill="none"/>
<path d="M188.6 429.1Q200.4 430.6 212.2 429.1" stroke="#6ba22f" stroke-opacity="0.82" stroke-width="1.8" stroke-dasharray="5.9 0.4 2.3 0.45" stroke-dashoffset="0.1" fill="none"/>
<path d="M188.6 426.8Q200.4 428.3 212.2 426.8" stroke="#6ba22f" stroke-opacity="0.82" stroke-width="1.8" stroke-dasharray="3.5 0.4 3.6 0.45" stroke-dashoffset="3.6" fill="none"/>
<path d="M188.6 424.6Q200.4 426.1 212.2 424.6" stroke="#6ba22f" stroke-opacity="0.82" stroke-width="1.8" stroke-dasharray="5.9 0.4 3.6 0.45" stroke-dashoffset="3.4" fill="none"/>
<path d="M190.2 422.5h0M193.6 423.1h0M207.2 423.0h0M191.9 420.1h0M195.3 420.0h0M198.7 419.8h0M205.5 419.9h0M208.9 419.6h0M197.0 417.0h0M203.8 417.1h0M207.2 417.1h0M198.7 414.0h0M202.1 414.3h0M193.6 411.0h0M197.0 411.1h0M195.3 408.4h0M205.5 408.5h0M193.6 405.2h0M197.0 405.3h0M200.4 405.1h0M207.2 405.4h0M200.4 326.1h0" stroke="#6ba22f" stroke-opacity="0.82" stroke-width="2.2" stroke-linecap="round" fill="none"/>
<line x1="189.90" y1="440.50" x2="210.90" y2="440.50" stroke="#4a7a18" stroke-width="1.3" stroke-opacity="0.8"/>
<text x="332.50" y="130.00" font-size="8" text-anchor="middle" fill="#111" font-weight="normal" dominant-baseline="central" dy="0.93" >hosts permutation</text>
<path d="M237.5,157.5 L434.6,157.5 L434.6,281.3 L237.5,281.3 Z" fill="none" stroke="#666" stroke-width="0.9" />
<line x1="301.60" y1="157.50" x2="301.60" y2="281.30" stroke="#555" stroke-width="0.6" stroke-dasharray="1.2 1"/>
<line x1="370.00" y1="157.50" x2="370.00" y2="281.30" stroke="#555" stroke-width="0.6" stroke-dasharray="1.2 1"/>
<line x1="235.30" y1="281.30" x2="237.50" y2="281.30" stroke="#555" stroke-width="0.7" />
<text x="233.20" y="281.30" font-size="7.5" text-anchor="end" fill="#111" font-weight="normal" dominant-baseline="central" dy="0.93" >0</text>
<line x1="235.30" y1="245.90" x2="237.50" y2="245.90" stroke="#555" stroke-width="0.7" />
<text x="233.20" y="245.90" font-size="7.5" text-anchor="end" fill="#111" font-weight="normal" dominant-baseline="central" dy="0.93" >1</text>
<line x1="235.30" y1="210.50" x2="237.50" y2="210.50" stroke="#555" stroke-width="0.7" />
<text x="233.20" y="210.50" font-size="7.5" text-anchor="end" fill="#111" font-weight="normal" dominant-baseline="central" dy="0.93" >2</text>
<line x1="235.30" y1="175.10" x2="237.50" y2="175.10" stroke="#555" stroke-width="0.7" />
<text x="233.20" y="175.10" font-size="7.5" text-anchor="end" fill="#111" font-weight="normal" dominant-baseline="central" dy="0.93" >3</text>
<text x="227.60" y="140.90" font-size="9.5" text-anchor="middle" fill="#000" font-weight="bold" dominant-baseline="central" dy="0.93" >d</text>
<text x="229.50" y="152.50" font-size="7.3" text-anchor="start" fill="#111" font-weight="normal" dominant-baseline="central" dy="0.93" >HD</text>
<path d="M242.6,149.2 V155.2 M241.0,153.4 L242.6,155.5 L244.2,153.4" fill="none" stroke="#111" stroke-width="0.8" />
<rect x="246.20" y="199.88" width="16.90" height="81.42" fill="#8daee0" stroke="#5f8dcc" stroke-width="0.8" rx="0" />
<rect x="271.40" y="216.87" width="17.10" height="64.43" fill="#f0aaee" stroke="#d277d2" stroke-width="0.8" rx="0" />
<line x1="254.65" y1="207.67" x2="254.65" y2="192.09" stroke="#4675b8" stroke-width="1.1" />
<line x1="249.95" y1="192.09" x2="259.35" y2="192.09" stroke="#4675b8" stroke-width="1.1" />
<line x1="249.95" y1="207.67" x2="259.35" y2="207.67" stroke="#4675b8" stroke-width="1.1" />
<line x1="279.95" y1="221.83" x2="279.95" y2="211.92" stroke="#b540b5" stroke-width="1.1" />
<line x1="275.25" y1="211.92" x2="284.65" y2="211.92" stroke="#b540b5" stroke-width="1.1" />
<line x1="275.25" y1="221.83" x2="284.65" y2="221.83" stroke="#b540b5" stroke-width="1.1" />
<text x="267.30" y="288.30" font-size="7.6" text-anchor="middle" fill="#111" font-weight="normal" dominant-baseline="central" dy="0.93" >episode1</text>
<line x1="253.80" y1="161.50" x2="280.10" y2="161.50" stroke="#333" stroke-width="0.6" />
<text x="266.95" y="164.30" font-size="6.5" text-anchor="middle" fill="#333" font-weight="normal" dominant-baseline="central" dy="0.93" >*</text>
<rect x="314.70" y="185.01" width="16.90" height="96.29" fill="#8daee0" stroke="#5f8dcc" stroke-width="0.8" rx="0" />
<rect x="340.20" y="205.19" width="17.10" height="76.11" fill="#f0aaee" stroke="#d277d2" stroke-width="0.8" rx="0" />
<line x1="323.15" y1="195.28" x2="323.15" y2="174.04" stroke="#4675b8" stroke-width="1.1" />
<line x1="318.45" y1="174.04" x2="327.85" y2="174.04" stroke="#4675b8" stroke-width="1.1" />
<line x1="318.45" y1="195.28" x2="327.85" y2="195.28" stroke="#4675b8" stroke-width="1.1" />
<line x1="348.75" y1="213.33" x2="348.75" y2="197.05" stroke="#b540b5" stroke-width="1.1" />
<line x1="344.05" y1="197.05" x2="353.45" y2="197.05" stroke="#b540b5" stroke-width="1.1" />
<line x1="344.05" y1="213.33" x2="353.45" y2="213.33" stroke="#b540b5" stroke-width="1.1" />
<text x="335.95" y="288.30" font-size="7.6" text-anchor="middle" fill="#111" font-weight="normal" dominant-baseline="central" dy="0.93" >episode2</text>
<line x1="322.50" y1="161.50" x2="348.90" y2="161.50" stroke="#333" stroke-width="0.6" />
<text x="335.70" y="164.30" font-size="6.5" text-anchor="middle" fill="#333" font-weight="normal" dominant-baseline="central" dy="0.93" >**</text>
<rect x="383.50" y="193.51" width="16.90" height="87.79" fill="#8daee0" stroke="#5f8dcc" stroke-width="0.8" rx="0" />
<rect x="409.00" y="214.75" width="17.10" height="66.55" fill="#f0aaee" stroke="#d277d2" stroke-width="0.8" rx="0" />
<line x1="391.95" y1="203.42" x2="391.95" y2="183.95" stroke="#4675b8" stroke-width="1.1" />
<line x1="387.25" y1="183.95" x2="396.65" y2="183.95" stroke="#4675b8" stroke-width="1.1" />
<line x1="387.25" y1="203.42" x2="396.65" y2="203.42" stroke="#4675b8" stroke-width="1.1" />
<line x1="417.55" y1="221.83" x2="417.55" y2="207.67" stroke="#b540b5" stroke-width="1.1" />
<line x1="412.85" y1="207.67" x2="422.25" y2="207.67" stroke="#b540b5" stroke-width="1.1" />
<line x1="412.85" y1="221.83" x2="422.25" y2="221.83" stroke="#b540b5" stroke-width="1.1" />
<text x="404.75" y="288.30" font-size="7.6" text-anchor="middle" fill="#111" font-weight="normal" dominant-baseline="central" dy="0.93" >episode3</text>
<line x1="391.00" y1="161.50" x2="417.50" y2="161.50" stroke="#333" stroke-width="0.6" />
<text x="404.25" y="164.30" font-size="6.5" text-anchor="middle" fill="#333" font-weight="normal" dominant-baseline="central" dy="0.93" >***</text>
<line x1="279.00" y1="143.10" x2="416.70" y2="143.10" stroke="#555" stroke-width="0.6" />
<text x="347.00" y="146.10" font-size="7" text-anchor="middle" fill="#222" font-weight="normal" dominant-baseline="central" dy="0.93" >ns</text>
<line x1="279.00" y1="150.30" x2="347.80" y2="150.30" stroke="#555" stroke-width="0.6" />
<line x1="349.40" y1="150.30" x2="416.70" y2="150.30" stroke="#555" stroke-width="0.6" />
<text x="309.00" y="153.30" font-size="7" text-anchor="middle" fill="#222" font-weight="normal" dominant-baseline="central" dy="0.93" >ns</text>
<text x="380.50" y="153.30" font-size="7" text-anchor="middle" fill="#222" font-weight="normal" dominant-baseline="central" dy="0.93" >ns</text>
<rect x="437.70" y="206.30" width="11.00" height="5.40" fill="#8daee0" stroke="#5f8dcc" stroke-width="0.8" rx="0" />
<rect x="437.70" y="219.10" width="11.00" height="5.40" fill="#f0aaee" stroke="#d277d2" stroke-width="0.8" rx="0" />
<text x="454.50" y="209.30" font-size="7.1" text-anchor="start" fill="#111" font-weight="normal" dominant-baseline="central" dy="0.93" >sequential</text>
<text x="454.50" y="221.80" font-size="7.1" text-anchor="start" fill="#111" font-weight="normal" dominant-baseline="central" dy="0.93" >Relay</text>
<path d="M237.5,321.2 L433.6,321.2 L433.6,445.1 L237.5,445.1 Z" fill="none" stroke="#666" stroke-width="0.9" />
<line x1="301.60" y1="321.20" x2="301.60" y2="445.10" stroke="#555" stroke-width="0.6" stroke-dasharray="1.2 1"/>
<line x1="370.00" y1="321.20" x2="370.00" y2="445.10" stroke="#555" stroke-width="0.6" stroke-dasharray="1.2 1"/>
<line x1="235.30" y1="445.10" x2="237.50" y2="445.10" stroke="#555" stroke-width="0.7" />
<text x="233.20" y="445.10" font-size="7.5" text-anchor="end" fill="#111" font-weight="normal" dominant-baseline="central" dy="0.93" >0</text>
<line x1="235.30" y1="401.70" x2="237.50" y2="401.70" stroke="#555" stroke-width="0.7" />
<text x="233.20" y="401.70" font-size="7.5" text-anchor="end" fill="#111" font-weight="normal" dominant-baseline="central" dy="0.93" >2</text>
<line x1="235.30" y1="358.30" x2="237.50" y2="358.30" stroke="#555" stroke-width="0.7" />
<text x="233.20" y="358.30" font-size="7.5" text-anchor="end" fill="#111" font-weight="normal" dominant-baseline="central" dy="0.93" >4</text>
<text x="228.00" y="305.10" font-size="9.5" text-anchor="middle" fill="#000" font-weight="bold" dominant-baseline="central" dy="0.93" >g</text>
<text x="229.50" y="316.20" font-size="7.3" text-anchor="start" fill="#111" font-weight="normal" dominant-baseline="central" dy="0.93" >HD</text>
<path d="M242.6,312.9 V318.9 M241.0,317.09999999999997 L242.6,319.2 L244.2,317.09999999999997" fill="none" stroke="#111" stroke-width="0.8" />
<rect x="246.20" y="347.45" width="16.90" height="97.65" fill="#8daee0" stroke="#5f8dcc" stroke-width="0.8" rx="0" />
<rect x="271.40" y="378.26" width="17.10" height="66.84" fill="#f0aaee" stroke="#d277d2" stroke-width="0.8" rx="0" />
<line x1="254.65" y1="354.39" x2="254.65" y2="339.86" stroke="#4675b8" stroke-width="1.1" />
<line x1="249.95" y1="339.86" x2="259.35" y2="339.86" stroke="#4675b8" stroke-width="1.1" />
<line x1="249.95" y1="354.39" x2="259.35" y2="354.39" stroke="#4675b8" stroke-width="1.1" />
<line x1="279.95" y1="383.91" x2="279.95" y2="372.41" stroke="#b540b5" stroke-width="1.1" />
<line x1="275.25" y1="372.41" x2="284.65" y2="372.41" stroke="#b540b5" stroke-width="1.1" />
<line x1="275.25" y1="383.91" x2="284.65" y2="383.91" stroke="#b540b5" stroke-width="1.1" />
<text x="267.30" y="452.10" font-size="7.6" text-anchor="middle" fill="#111" font-weight="normal" dominant-baseline="central" dy="0.93" >episode1</text>
<line x1="253.80" y1="325.20" x2="280.10" y2="325.20" stroke="#333" stroke-width="0.6" />
<text x="266.95" y="328.00" font-size="6.5" text-anchor="middle" fill="#333" font-weight="normal" dominant-baseline="central" dy="0.93" >***</text>
<rect x="314.70" y="363.94" width="16.90" height="81.16" fill="#8daee0" stroke="#5f8dcc" stroke-width="0.8" rx="0" />
<rect x="340.20" y="376.31" width="17.10" height="68.79" fill="#f0aaee" stroke="#d277d2" stroke-width="0.8" rx="0" />
<line x1="323.15" y1="372.41" x2="323.15" y2="355.05" stroke="#4675b8" stroke-width="1.1" />
<line x1="318.45" y1="355.05" x2="327.85" y2="355.05" stroke="#4675b8" stroke-width="1.1" />
<line x1="318.45" y1="372.41" x2="327.85" y2="372.41" stroke="#4675b8" stroke-width="1.1" />
<line x1="348.75" y1="383.25" x2="348.75" y2="368.72" stroke="#b540b5" stroke-width="1.1" />
<line x1="344.05" y1="368.72" x2="353.45" y2="368.72" stroke="#b540b5" stroke-width="1.1" />
<line x1="344.05" y1="383.25" x2="353.45" y2="383.25" stroke="#b540b5" stroke-width="1.1" />
<text x="335.95" y="452.10" font-size="7.6" text-anchor="middle" fill="#111" font-weight="normal" dominant-baseline="central" dy="0.93" >episode2</text>
<line x1="322.50" y1="325.20" x2="348.90" y2="325.20" stroke="#333" stroke-width="0.6" />
<text x="335.70" y="328.00" font-size="6.5" text-anchor="middle" fill="#333" font-weight="normal" dominant-baseline="central" dy="0.93" >*</text>
<rect x="383.50" y="344.20" width="16.90" height="100.90" fill="#8daee0" stroke="#5f8dcc" stroke-width="0.8" rx="0" />
<rect x="409.00" y="371.97" width="17.10" height="73.13" fill="#f0aaee" stroke="#d277d2" stroke-width="0.8" rx="0" />
<line x1="391.95" y1="353.96" x2="391.95" y2="334.00" stroke="#4675b8" stroke-width="1.1" />
<line x1="387.25" y1="334.00" x2="396.65" y2="334.00" stroke="#4675b8" stroke-width="1.1" />
<line x1="387.25" y1="353.96" x2="396.65" y2="353.96" stroke="#4675b8" stroke-width="1.1" />
<line x1="417.55" y1="378.26" x2="417.55" y2="364.81" stroke="#b540b5" stroke-width="1.1" />
<line x1="412.85" y1="364.81" x2="422.25" y2="364.81" stroke="#b540b5" stroke-width="1.1" />
<line x1="412.85" y1="378.26" x2="422.25" y2="378.26" stroke="#b540b5" stroke-width="1.1" />
<text x="404.75" y="452.10" font-size="7.6" text-anchor="middle" fill="#111" font-weight="normal" dominant-baseline="central" dy="0.93" >episode3</text>
<line x1="391.00" y1="325.20" x2="417.50" y2="325.20" stroke="#333" stroke-width="0.6" />
<text x="404.25" y="328.00" font-size="6.5" text-anchor="middle" fill="#333" font-weight="normal" dominant-baseline="central" dy="0.93" >***</text>
<line x1="279.00" y1="307.50" x2="416.70" y2="307.50" stroke="#555" stroke-width="0.6" />
<text x="347.00" y="310.50" font-size="7" text-anchor="middle" fill="#222" font-weight="normal" dominant-baseline="central" dy="0.93" >ns</text>
<line x1="279.00" y1="314.70" x2="347.80" y2="314.70" stroke="#555" stroke-width="0.6" />
<line x1="349.40" y1="314.70" x2="416.70" y2="314.70" stroke="#555" stroke-width="0.6" />
<text x="309.00" y="317.70" font-size="7" text-anchor="middle" fill="#222" font-weight="normal" dominant-baseline="central" dy="0.93" >ns</text>
<text x="380.50" y="317.70" font-size="7" text-anchor="middle" fill="#222" font-weight="normal" dominant-baseline="central" dy="0.93" >ns</text>
<rect x="435.10" y="374.30" width="11.00" height="5.40" fill="#8daee0" stroke="#5f8dcc" stroke-width="0.8" rx="0" />
<rect x="435.10" y="387.10" width="11.00" height="5.40" fill="#f0aaee" stroke="#d277d2" stroke-width="0.8" rx="0" />
<text x="451.90" y="377.30" font-size="7.1" text-anchor="start" fill="#111" font-weight="normal" dominant-baseline="central" dy="0.93" >sequential</text>
<text x="451.90" y="389.80" font-size="7.1" text-anchor="start" fill="#111" font-weight="normal" dominant-baseline="central" dy="0.93" >Relay</text>
<text x="583.80" y="130.70" font-size="8" text-anchor="middle" fill="#111" font-weight="normal" dominant-baseline="central" dy="0.93" >chronology analysis</text>
<path d="M501.5,157.6 L683.2,157.6 L683.2,281.0 L501.5,281.0 Z" fill="none" stroke="#666" stroke-width="0.9" />
<line x1="499.30" y1="172.20" x2="501.50" y2="172.20" stroke="#555" stroke-width="0.7" />
<text x="495.20" y="172.20" font-size="7.6" text-anchor="end" fill="#111" font-weight="normal" dominant-baseline="central" dy="0.93" >11</text>
<line x1="499.30" y1="192.20" x2="501.50" y2="192.20" stroke="#555" stroke-width="0.7" />
<text x="495.20" y="192.20" font-size="7.6" text-anchor="end" fill="#111" font-weight="normal" dominant-baseline="central" dy="0.93" >9</text>
<line x1="499.30" y1="212.30" x2="501.50" y2="212.30" stroke="#555" stroke-width="0.7" />
<text x="495.20" y="212.30" font-size="7.6" text-anchor="end" fill="#111" font-weight="normal" dominant-baseline="central" dy="0.93" >7</text>
<line x1="499.30" y1="232.30" x2="501.50" y2="232.30" stroke="#555" stroke-width="0.7" />
<text x="495.20" y="232.30" font-size="7.6" text-anchor="end" fill="#111" font-weight="normal" dominant-baseline="central" dy="0.93" >5</text>
<line x1="499.30" y1="251.60" x2="501.50" y2="251.60" stroke="#555" stroke-width="0.7" />
<text x="495.20" y="251.60" font-size="7.6" text-anchor="end" fill="#111" font-weight="normal" dominant-baseline="central" dy="0.93" >3</text>
<line x1="499.30" y1="271.60" x2="501.50" y2="271.60" stroke="#555" stroke-width="0.7" />
<text x="495.20" y="271.60" font-size="7.6" text-anchor="end" fill="#111" font-weight="normal" dominant-baseline="central" dy="0.93" >1</text>
<line x1="519.40" y1="281.00" x2="519.40" y2="282.80" stroke="#555" stroke-width="0.7" />
<text x="519.90" y="287.30" font-size="7.3" text-anchor="middle" fill="#111" font-weight="normal" dominant-baseline="central" dy="0.93" >1</text>
<line x1="555.90" y1="281.00" x2="555.90" y2="282.80" stroke="#555" stroke-width="0.7" />
<text x="556.40" y="287.30" font-size="7.3" text-anchor="middle" fill="#111" font-weight="normal" dominant-baseline="central" dy="0.93" >2</text>
<line x1="592.40" y1="281.00" x2="592.40" y2="282.80" stroke="#555" stroke-width="0.7" />
<text x="592.90" y="287.30" font-size="7.3" text-anchor="middle" fill="#111" font-weight="normal" dominant-baseline="central" dy="0.93" >3</text>
<line x1="628.50" y1="281.00" x2="628.50" y2="282.80" stroke="#555" stroke-width="0.7" />
<text x="629.00" y="287.30" font-size="7.3" text-anchor="middle" fill="#111" font-weight="normal" dominant-baseline="central" dy="0.93" >4</text>
<line x1="664.60" y1="281.00" x2="664.60" y2="282.80" stroke="#555" stroke-width="0.7" />
<text x="665.10" y="287.30" font-size="7.3" text-anchor="middle" fill="#111" font-weight="normal" dominant-baseline="central" dy="0.93" >5</text>
<text x="507.20" y="288.20" font-size="7.3" text-anchor="middle" fill="#111" font-weight="normal" dominant-baseline="central" dy="0.93" >host</text>
<text x="481.10" y="139.70" font-size="9.5" text-anchor="middle" fill="#000" font-weight="bold" dominant-baseline="central" dy="0.93" >e</text>
<text x="484.70" y="156.30" font-size="7.3" text-anchor="start" fill="#111" font-weight="normal" dominant-baseline="central" dy="0.93" >HD</text>
<path d="M497.9,153.0 V159.0 M496.3,157.2 L497.9,159.29999999999998 L499.5,157.2" fill="none" stroke="#111" stroke-width="0.8" />
<clipPath id="clipem"><rect x="501.5" y="157.6" width="181.70000000000005" height="123.4"/></clipPath>
<g clip-path="url(#clipem)"><path d="M516.40,252.80 L552.90,236.80 L589.40,252.80 L625.50,242.80 L661.60,258.20" fill="none" stroke="#7aa6dd" stroke-width="1.75" /><path d="M516.40,250.30 V255.30 M515.10,250.30 h2.60 M515.10,255.30 h2.60" stroke="#8fb6e6" stroke-width="0.75" fill="none"/><path d="M552.90,233.30 V240.30 M551.60,233.30 h2.60 M551.60,240.30 h2.60" stroke="#8fb6e6" stroke-width="0.75" fill="none"/><path d="M589.40,250.30 V255.30 M588.10,250.30 h2.60 M588.10,255.30 h2.60" stroke="#8fb6e6" stroke-width="0.75" fill="none"/><path d="M625.50,240.30 V245.30 M624.20,240.30 h2.60 M624.20,245.30 h2.60" stroke="#8fb6e6" stroke-width="0.75" fill="none"/><path d="M661.60,256.20 V260.20 M660.30,256.20 h2.60 M660.30,260.20 h2.60" stroke="#8fb6e6" stroke-width="0.75" fill="none"/><path d="M519.70,245.50 L556.20,225.80 L592.70,244.10 L628.80,229.50 L664.90,255.50" fill="none" stroke="#7aa6dd" stroke-width="1.75" stroke-dasharray="5.2 2.6"/><path d="M519.70,242.50 V248.50 M518.40,242.50 h2.60 M518.40,248.50 h2.60" stroke="#8fb6e6" stroke-width="0.75" fill="none"/><path d="M556.20,222.30 V229.30 M554.90,222.30 h2.60 M554.90,229.30 h2.60" stroke="#8fb6e6" stroke-width="0.75" fill="none"/><path d="M592.70,241.10 V247.10 M591.40,241.10 h2.60 M591.40,247.10 h2.60" stroke="#8fb6e6" stroke-width="0.75" fill="none"/><path d="M628.80,226.50 V232.50 M627.50,226.50 h2.60 M627.50,232.50 h2.60" stroke="#8fb6e6" stroke-width="0.75" fill="none"/><path d="M664.90,253.00 V258.00 M663.60,253.00 h2.60 M663.60,258.00 h2.60" stroke="#8fb6e6" stroke-width="0.75" fill="none"/><path d="M523.20,196.00 L559.70,224.00 L596.20,247.40 L632.30,259.00 L668.40,256.80" fill="none" stroke="#7aa6dd" stroke-width="1.75" stroke-dasharray="1.2 1.6"/><path d="M523.20,188.50 V203.50 M521.90,188.50 h2.60 M521.90,203.50 h2.60" stroke="#8fb6e6" stroke-width="0.75" fill="none"/><path d="M559.70,220.00 V228.00 M558.40,220.00 h2.60 M558.40,228.00 h2.60" stroke="#8fb6e6" stroke-width="0.75" fill="none"/><path d="M596.20,244.40 V250.40 M594.90,244.40 h2.60 M594.90,250.40 h2.60" stroke="#8fb6e6" stroke-width="0.75" fill="none"/><path d="M632.30,256.50 V261.50 M631.00,256.50 h2.60 M631.00,261.50 h2.60" stroke="#8fb6e6" stroke-width="0.75" fill="none"/><path d="M668.40,253.80 V259.80 M667.10,253.80 h2.60 M667.10,259.80 h2.60" stroke="#8fb6e6" stroke-width="0.75" fill="none"/><path d="M516.70,252.20 L553.20,259.00 L589.70,259.80 L625.80,254.40 L661.90,263.00" fill="none" stroke="#f19eec" stroke-width="1.75" /><path d="M516.70,250.20 V254.20 M515.40,250.20 h2.60 M515.40,254.20 h2.60" stroke="#f4a8f0" stroke-width="0.75" fill="none"/><path d="M553.20,256.50 V261.50 M551.90,256.50 h2.60 M551.90,261.50 h2.60" stroke="#f4a8f0" stroke-width="0.75" fill="none"/><path d="M589.70,257.80 V261.80 M588.40,257.80 h2.60 M588.40,261.80 h2.60" stroke="#f4a8f0" stroke-width="0.75" fill="none"/><path d="M625.80,252.40 V256.40 M624.50,252.40 h2.60 M624.50,256.40 h2.60" stroke="#f4a8f0" stroke-width="0.75" fill="none"/><path d="M661.90,261.00 V265.00 M660.60,261.00 h2.60 M660.60,265.00 h2.60" stroke="#f4a8f0" stroke-width="0.75" fill="none"/><path d="M520.00,233.30 L556.50,245.50 L593.00,256.80 L629.10,262.50 L665.20,261.10" fill="none" stroke="#f19eec" stroke-width="1.75" stroke-dasharray="5.2 2.6"/><path d="M520.00,229.80 V236.80 M518.70,229.80 h2.60 M518.70,236.80 h2.60" stroke="#f4a8f0" stroke-width="0.75" fill="none"/><path d="M556.50,242.50 V248.50 M555.20,242.50 h2.60 M555.20,248.50 h2.60" stroke="#f4a8f0" stroke-width="0.75" fill="none"/><path d="M593.00,254.30 V259.30 M591.70,254.30 h2.60 M591.70,259.30 h2.60" stroke="#f4a8f0" stroke-width="0.75" fill="none"/><path d="M629.10,260.50 V264.50 M627.80,260.50 h2.60 M627.80,264.50 h2.60" stroke="#f4a8f0" stroke-width="0.75" fill="none"/><path d="M665.20,259.10 V263.10 M663.90,259.10 h2.60 M663.90,263.10 h2.60" stroke="#f4a8f0" stroke-width="0.75" fill="none"/><path d="M523.50,172.60 L560.00,233.30 L596.50,257.60 L632.60,265.70 L668.70,263.00" fill="none" stroke="#f19eec" stroke-width="1.75" stroke-dasharray="1.2 1.6"/><path d="M523.50,162.60 V182.60 M522.20,162.60 h2.60 M522.20,182.60 h2.60" stroke="#f4a8f0" stroke-width="0.75" fill="none"/><path d="M560.00,229.30 V237.30 M558.70,229.30 h2.60 M558.70,237.30 h2.60" stroke="#f4a8f0" stroke-width="0.75" fill="none"/><path d="M596.50,254.60 V260.60 M595.20,254.60 h2.60 M595.20,260.60 h2.60" stroke="#f4a8f0" stroke-width="0.75" fill="none"/><path d="M632.60,263.70 V267.70 M631.30,263.70 h2.60 M631.30,267.70 h2.60" stroke="#f4a8f0" stroke-width="0.75" fill="none"/><path d="M668.70,260.00 V266.00 M667.40,260.00 h2.60 M667.40,266.00 h2.60" stroke="#f4a8f0" stroke-width="0.75" fill="none"/></g>
<line x1="554.40" y1="167.60" x2="572.30" y2="167.60" stroke="#111" stroke-width="1.3" />
<text x="576.60" y="167.60" font-size="7.6" text-anchor="start" fill="#111" font-weight="normal" dominant-baseline="central" dy="0.93" >episode1</text>
<line x1="554.40" y1="178.90" x2="572.30" y2="178.90" stroke="#111" stroke-width="1.3" stroke-dasharray="4.6 2.2"/>
<text x="576.60" y="178.90" font-size="7.6" text-anchor="start" fill="#111" font-weight="normal" dominant-baseline="central" dy="0.93" >episode2</text>
<line x1="554.40" y1="190.20" x2="572.30" y2="190.20" stroke="#111" stroke-width="1.3" stroke-dasharray="1.2 1.6"/>
<text x="576.60" y="190.20" font-size="7.6" text-anchor="start" fill="#111" font-weight="normal" dominant-baseline="central" dy="0.93" >episode3</text>
<circle cx="569.6" cy="205.1" r="2.7" fill="#7aa6dd"/>
<text x="576.00" y="205.10" font-size="7.6" text-anchor="start" fill="#111" font-weight="normal" dominant-baseline="central" dy="0.93" >sequential</text>
<circle cx="569.6" cy="217.3" r="2.7" fill="#f19eec"/>
<text x="576.00" y="217.30" font-size="7.6" text-anchor="start" fill="#111" font-weight="normal" dominant-baseline="central" dy="0.93" >Relay</text>
<rect x="650.30" y="244.50" width="29.30" height="25.00" fill="none" stroke="#333" stroke-width="0.6" rx="0" stroke-dasharray="1.3 1"/>
<line x1="628.50" y1="215.50" x2="650.30" y2="244.50" stroke="#333" stroke-width="0.6" stroke-dasharray="1.3 1"/>
<line x1="679.60" y1="215.50" x2="679.60" y2="244.50" stroke="#333" stroke-width="0.6" stroke-dasharray="1.3 1"/>
<rect x="628.50" y="171.10" width="51.10" height="44.40" fill="#fff" stroke="#333" stroke-width="0.8" rx="0" />
<clipPath id="clipe"><rect x="628.5" y="171.1" width="51.10000000000002" height="44.400000000000006"/></clipPath>
<g clip-path="url(#clipe)"><g transform="translate(628.5,171.1) scale(1.7440,1.7760) translate(-650.3,-244.5)"><path d="M516.40,252.80 L552.90,236.80 L589.40,252.80 L625.50,242.80 L661.60,258.20" fill="none" stroke="#7aa6dd" stroke-width="0.95" /><path d="M516.40,250.30 V255.30 M515.60,250.30 h1.60 M515.60,255.30 h1.60" stroke="#8fb6e6" stroke-width="0.45" fill="none"/><path d="M552.90,233.30 V240.30 M552.10,233.30 h1.60 M552.10,240.30 h1.60" stroke="#8fb6e6" stroke-width="0.45" fill="none"/><path d="M589.40,250.30 V255.30 M588.60,250.30 h1.60 M588.60,255.30 h1.60" stroke="#8fb6e6" stroke-width="0.45" fill="none"/><path d="M625.50,240.30 V245.30 M624.70,240.30 h1.60 M624.70,245.30 h1.60" stroke="#8fb6e6" stroke-width="0.45" fill="none"/><path d="M661.60,256.20 V260.20 M660.80,256.20 h1.60 M660.80,260.20 h1.60" stroke="#8fb6e6" stroke-width="0.45" fill="none"/><path d="M519.70,245.50 L556.20,225.80 L592.70,244.10 L628.80,229.50 L664.90,255.50" fill="none" stroke="#7aa6dd" stroke-width="0.95" stroke-dasharray="5.2 2.6"/><path d="M519.70,242.50 V248.50 M518.90,242.50 h1.60 M518.90,248.50 h1.60" stroke="#8fb6e6" stroke-width="0.45" fill="none"/><path d="M556.20,222.30 V229.30 M555.40,222.30 h1.60 M555.40,229.30 h1.60" stroke="#8fb6e6" stroke-width="0.45" fill="none"/><path d="M592.70,241.10 V247.10 M591.90,241.10 h1.60 M591.90,247.10 h1.60" stroke="#8fb6e6" stroke-width="0.45" fill="none"/><path d="M628.80,226.50 V232.50 M628.00,226.50 h1.60 M628.00,232.50 h1.60" stroke="#8fb6e6" stroke-width="0.45" fill="none"/><path d="M664.90,253.00 V258.00 M664.10,253.00 h1.60 M664.10,258.00 h1.60" stroke="#8fb6e6" stroke-width="0.45" fill="none"/><path d="M523.20,196.00 L559.70,224.00 L596.20,247.40 L632.30,259.00 L668.40,256.80" fill="none" stroke="#7aa6dd" stroke-width="0.95" stroke-dasharray="1.2 1.6"/><path d="M523.20,188.50 V203.50 M522.40,188.50 h1.60 M522.40,203.50 h1.60" stroke="#8fb6e6" stroke-width="0.45" fill="none"/><path d="M559.70,220.00 V228.00 M558.90,220.00 h1.60 M558.90,228.00 h1.60" stroke="#8fb6e6" stroke-width="0.45" fill="none"/><path d="M596.20,244.40 V250.40 M595.40,244.40 h1.60 M595.40,250.40 h1.60" stroke="#8fb6e6" stroke-width="0.45" fill="none"/><path d="M632.30,256.50 V261.50 M631.50,256.50 h1.60 M631.50,261.50 h1.60" stroke="#8fb6e6" stroke-width="0.45" fill="none"/><path d="M668.40,253.80 V259.80 M667.60,253.80 h1.60 M667.60,259.80 h1.60" stroke="#8fb6e6" stroke-width="0.45" fill="none"/><path d="M516.70,252.20 L553.20,259.00 L589.70,259.80 L625.80,254.40 L661.90,263.00" fill="none" stroke="#f19eec" stroke-width="0.95" /><path d="M516.70,250.20 V254.20 M515.90,250.20 h1.60 M515.90,254.20 h1.60" stroke="#f4a8f0" stroke-width="0.45" fill="none"/><path d="M553.20,256.50 V261.50 M552.40,256.50 h1.60 M552.40,261.50 h1.60" stroke="#f4a8f0" stroke-width="0.45" fill="none"/><path d="M589.70,257.80 V261.80 M588.90,257.80 h1.60 M588.90,261.80 h1.60" stroke="#f4a8f0" stroke-width="0.45" fill="none"/><path d="M625.80,252.40 V256.40 M625.00,252.40 h1.60 M625.00,256.40 h1.60" stroke="#f4a8f0" stroke-width="0.45" fill="none"/><path d="M661.90,261.00 V265.00 M661.10,261.00 h1.60 M661.10,265.00 h1.60" stroke="#f4a8f0" stroke-width="0.45" fill="none"/><path d="M520.00,233.30 L556.50,245.50 L593.00,256.80 L629.10,262.50 L665.20,261.10" fill="none" stroke="#f19eec" stroke-width="0.95" stroke-dasharray="5.2 2.6"/><path d="M520.00,229.80 V236.80 M519.20,229.80 h1.60 M519.20,236.80 h1.60" stroke="#f4a8f0" stroke-width="0.45" fill="none"/><path d="M556.50,242.50 V248.50 M555.70,242.50 h1.60 M555.70,248.50 h1.60" stroke="#f4a8f0" stroke-width="0.45" fill="none"/><path d="M593.00,254.30 V259.30 M592.20,254.30 h1.60 M592.20,259.30 h1.60" stroke="#f4a8f0" stroke-width="0.45" fill="none"/><path d="M629.10,260.50 V264.50 M628.30,260.50 h1.60 M628.30,264.50 h1.60" stroke="#f4a8f0" stroke-width="0.45" fill="none"/><path d="M665.20,259.10 V263.10 M664.40,259.10 h1.60 M664.40,263.10 h1.60" stroke="#f4a8f0" stroke-width="0.45" fill="none"/><path d="M523.50,172.60 L560.00,233.30 L596.50,257.60 L632.60,265.70 L668.70,263.00" fill="none" stroke="#f19eec" stroke-width="0.95" stroke-dasharray="1.2 1.6"/><path d="M523.50,162.60 V182.60 M522.70,162.60 h1.60 M522.70,182.60 h1.60" stroke="#f4a8f0" stroke-width="0.45" fill="none"/><path d="M560.00,229.30 V237.30 M559.20,229.30 h1.60 M559.20,237.30 h1.60" stroke="#f4a8f0" stroke-width="0.45" fill="none"/><path d="M596.50,254.60 V260.60 M595.70,254.60 h1.60 M595.70,260.60 h1.60" stroke="#f4a8f0" stroke-width="0.45" fill="none"/><path d="M632.60,263.70 V267.70 M631.80,263.70 h1.60 M631.80,267.70 h1.60" stroke="#f4a8f0" stroke-width="0.45" fill="none"/><path d="M668.70,260.00 V266.00 M667.90,260.00 h1.60 M667.90,266.00 h1.60" stroke="#f4a8f0" stroke-width="0.45" fill="none"/></g></g>
<line x1="626.70" y1="185.10" x2="628.50" y2="185.10" stroke="#555" stroke-width="0.6" />
<text x="622.00" y="185.10" font-size="7.3" text-anchor="end" fill="#111" font-weight="normal" dominant-baseline="central" dy="0.93" >3</text>
<line x1="626.70" y1="202.60" x2="628.50" y2="202.60" stroke="#555" stroke-width="0.6" />
<text x="622.00" y="202.60" font-size="7.3" text-anchor="end" fill="#111" font-weight="normal" dominant-baseline="central" dy="0.93" >2</text>
<path d="M501.5,321.5 L683.2,321.5 L683.2,444.9 L501.5,444.9 Z" fill="none" stroke="#666" stroke-width="0.9" />
<line x1="499.30" y1="332.90" x2="501.50" y2="332.90" stroke="#555" stroke-width="0.7" />
<text x="495.20" y="332.90" font-size="7.6" text-anchor="end" fill="#111" font-weight="normal" dominant-baseline="central" dy="0.93" >23</text>
<line x1="499.30" y1="357.20" x2="501.50" y2="357.20" stroke="#555" stroke-width="0.7" />
<text x="495.20" y="357.20" font-size="7.6" text-anchor="end" fill="#111" font-weight="normal" dominant-baseline="central" dy="0.93" >18</text>
<line x1="499.30" y1="381.60" x2="501.50" y2="381.60" stroke="#555" stroke-width="0.7" />
<text x="495.20" y="381.60" font-size="7.6" text-anchor="end" fill="#111" font-weight="normal" dominant-baseline="central" dy="0.93" >13</text>
<line x1="499.30" y1="406.20" x2="501.50" y2="406.20" stroke="#555" stroke-width="0.7" />
<text x="495.20" y="406.20" font-size="7.6" text-anchor="end" fill="#111" font-weight="normal" dominant-baseline="central" dy="0.93" >8</text>
<line x1="499.30" y1="430.60" x2="501.50" y2="430.60" stroke="#555" stroke-width="0.7" />
<text x="495.20" y="430.60" font-size="7.6" text-anchor="end" fill="#111" font-weight="normal" dominant-baseline="central" dy="0.93" >3</text>
<line x1="519.40" y1="444.90" x2="519.40" y2="446.70" stroke="#555" stroke-width="0.7" />
<text x="519.90" y="451.20" font-size="7.3" text-anchor="middle" fill="#111" font-weight="normal" dominant-baseline="central" dy="0.93" >1</text>
<line x1="555.90" y1="444.90" x2="555.90" y2="446.70" stroke="#555" stroke-width="0.7" />
<text x="556.40" y="451.20" font-size="7.3" text-anchor="middle" fill="#111" font-weight="normal" dominant-baseline="central" dy="0.93" >2</text>
<line x1="592.40" y1="444.90" x2="592.40" y2="446.70" stroke="#555" stroke-width="0.7" />
<text x="592.90" y="451.20" font-size="7.3" text-anchor="middle" fill="#111" font-weight="normal" dominant-baseline="central" dy="0.93" >3</text>
<line x1="628.50" y1="444.90" x2="628.50" y2="446.70" stroke="#555" stroke-width="0.7" />
<text x="629.00" y="451.20" font-size="7.3" text-anchor="middle" fill="#111" font-weight="normal" dominant-baseline="central" dy="0.93" >4</text>
<line x1="664.60" y1="444.90" x2="664.60" y2="446.70" stroke="#555" stroke-width="0.7" />
<text x="665.10" y="451.20" font-size="7.3" text-anchor="middle" fill="#111" font-weight="normal" dominant-baseline="central" dy="0.93" >5</text>
<text x="507.20" y="452.10" font-size="7.3" text-anchor="middle" fill="#111" font-weight="normal" dominant-baseline="central" dy="0.93" >host</text>
<text x="481.10" y="304.30" font-size="9.5" text-anchor="middle" fill="#000" font-weight="bold" dominant-baseline="central" dy="0.93" >h</text>
<text x="484.70" y="320.20" font-size="7.3" text-anchor="start" fill="#111" font-weight="normal" dominant-baseline="central" dy="0.93" >HD</text>
<path d="M497.9,316.9 V322.9 M496.3,321.1 L497.9,323.2 L499.5,321.1" fill="none" stroke="#111" stroke-width="0.8" />
<clipPath id="cliphm"><rect x="501.5" y="321.5" width="181.70000000000005" height="123.39999999999998"/></clipPath>
<g clip-path="url(#cliphm)"><path d="M516.40,420.50 L552.90,398.60 L589.40,419.40 L625.50,419.40 L661.60,423.80" fill="none" stroke="#7aa6dd" stroke-width="1.75" /><path d="M516.40,418.00 V423.00 M515.10,418.00 h2.60 M515.10,423.00 h2.60" stroke="#8fb6e6" stroke-width="0.75" fill="none"/><path d="M552.90,394.60 V402.60 M551.60,394.60 h2.60 M551.60,402.60 h2.60" stroke="#8fb6e6" stroke-width="0.75" fill="none"/><path d="M589.40,416.90 V421.90 M588.10,416.90 h2.60 M588.10,421.90 h2.60" stroke="#8fb6e6" stroke-width="0.75" fill="none"/><path d="M625.50,416.90 V421.90 M624.20,416.90 h2.60 M624.20,421.90 h2.60" stroke="#8fb6e6" stroke-width="0.75" fill="none"/><path d="M661.60,421.30 V426.30 M660.30,421.30 h2.60 M660.30,426.30 h2.60" stroke="#8fb6e6" stroke-width="0.75" fill="none"/><path d="M519.70,422.00 L556.20,415.90 L592.70,420.50 L628.80,407.00 L664.90,426.70" fill="none" stroke="#7aa6dd" stroke-width="1.75" stroke-dasharray="5.2 2.6"/><path d="M519.70,419.50 V424.50 M518.40,419.50 h2.60 M518.40,424.50 h2.60" stroke="#8fb6e6" stroke-width="0.75" fill="none"/><path d="M556.20,412.90 V418.90 M554.90,412.90 h2.60 M554.90,418.90 h2.60" stroke="#8fb6e6" stroke-width="0.75" fill="none"/><path d="M592.70,418.00 V423.00 M591.40,418.00 h2.60 M591.40,423.00 h2.60" stroke="#8fb6e6" stroke-width="0.75" fill="none"/><path d="M628.80,404.00 V410.00 M627.50,404.00 h2.60 M627.50,410.00 h2.60" stroke="#8fb6e6" stroke-width="0.75" fill="none"/><path d="M664.90,424.20 V429.20 M663.60,424.20 h2.60 M663.60,429.20 h2.60" stroke="#8fb6e6" stroke-width="0.75" fill="none"/><path d="M523.20,376.20 L559.70,406.40 L596.20,418.60 L632.30,422.60 L668.40,422.30" fill="none" stroke="#7aa6dd" stroke-width="1.75" stroke-dasharray="1.2 1.6"/><path d="M523.20,370.20 V382.20 M521.90,370.20 h2.60 M521.90,382.20 h2.60" stroke="#8fb6e6" stroke-width="0.75" fill="none"/><path d="M559.70,402.40 V410.40 M558.40,402.40 h2.60 M558.40,410.40 h2.60" stroke="#8fb6e6" stroke-width="0.75" fill="none"/><path d="M596.20,415.60 V421.60 M594.90,415.60 h2.60 M594.90,421.60 h2.60" stroke="#8fb6e6" stroke-width="0.75" fill="none"/><path d="M632.30,419.60 V425.60 M631.00,419.60 h2.60 M631.00,425.60 h2.60" stroke="#8fb6e6" stroke-width="0.75" fill="none"/><path d="M668.40,419.30 V425.30 M667.10,419.30 h2.60 M667.10,425.30 h2.60" stroke="#8fb6e6" stroke-width="0.75" fill="none"/><path d="M516.70,418.60 L553.20,416.70 L589.70,426.70 L625.80,420.50 L661.90,429.60" fill="none" stroke="#f19eec" stroke-width="1.75" /><path d="M516.70,416.10 V421.10 M515.40,416.10 h2.60 M515.40,421.10 h2.60" stroke="#f4a8f0" stroke-width="0.75" fill="none"/><path d="M553.20,413.70 V419.70 M551.90,413.70 h2.60 M551.90,419.70 h2.60" stroke="#f4a8f0" stroke-width="0.75" fill="none"/><path d="M589.70,424.70 V428.70 M588.40,424.70 h2.60 M588.40,428.70 h2.60" stroke="#f4a8f0" stroke-width="0.75" fill="none"/><path d="M625.80,418.00 V423.00 M624.50,418.00 h2.60 M624.50,423.00 h2.60" stroke="#f4a8f0" stroke-width="0.75" fill="none"/><path d="M661.90,427.60 V431.60 M660.60,427.60 h2.60 M660.60,431.60 h2.60" stroke="#f4a8f0" stroke-width="0.75" fill="none"/><path d="M520.00,404.50 L556.50,415.90 L593.00,425.90 L629.10,425.30 L665.20,429.60" fill="none" stroke="#f19eec" stroke-width="1.75" stroke-dasharray="5.2 2.6"/><path d="M520.00,400.50 V408.50 M518.70,400.50 h2.60 M518.70,408.50 h2.60" stroke="#f4a8f0" stroke-width="0.75" fill="none"/><path d="M556.50,412.90 V418.90 M555.20,412.90 h2.60 M555.20,418.90 h2.60" stroke="#f4a8f0" stroke-width="0.75" fill="none"/><path d="M593.00,423.40 V428.40 M591.70,423.40 h2.60 M591.70,428.40 h2.60" stroke="#f4a8f0" stroke-width="0.75" fill="none"/><path d="M629.10,423.30 V427.30 M627.80,423.30 h2.60 M627.80,427.30 h2.60" stroke="#f4a8f0" stroke-width="0.75" fill="none"/><path d="M665.20,427.60 V431.60 M663.90,427.60 h2.60 M663.90,431.60 h2.60" stroke="#f4a8f0" stroke-width="0.75" fill="none"/><path d="M523.50,334.90 L560.00,395.60 L596.50,424.00 L632.60,429.40 L668.70,429.10" fill="none" stroke="#f19eec" stroke-width="1.75" stroke-dasharray="1.2 1.6"/><path d="M523.50,324.90 V344.90 M522.20,324.90 h2.60 M522.20,344.90 h2.60" stroke="#f4a8f0" stroke-width="0.75" fill="none"/><path d="M560.00,391.60 V399.60 M558.70,391.60 h2.60 M558.70,399.60 h2.60" stroke="#f4a8f0" stroke-width="0.75" fill="none"/><path d="M596.50,421.00 V427.00 M595.20,421.00 h2.60 M595.20,427.00 h2.60" stroke="#f4a8f0" stroke-width="0.75" fill="none"/><path d="M632.60,426.90 V431.90 M631.30,426.90 h2.60 M631.30,431.90 h2.60" stroke="#f4a8f0" stroke-width="0.75" fill="none"/><path d="M668.70,426.60 V431.60 M667.40,426.60 h2.60 M667.40,431.60 h2.60" stroke="#f4a8f0" stroke-width="0.75" fill="none"/></g>
<line x1="554.40" y1="328.30" x2="572.30" y2="328.30" stroke="#111" stroke-width="1.3" />
<text x="576.60" y="328.30" font-size="7.6" text-anchor="start" fill="#111" font-weight="normal" dominant-baseline="central" dy="0.93" >episode1</text>
<line x1="554.40" y1="339.60" x2="572.30" y2="339.60" stroke="#111" stroke-width="1.3" stroke-dasharray="4.6 2.2"/>
<text x="576.60" y="339.60" font-size="7.6" text-anchor="start" fill="#111" font-weight="normal" dominant-baseline="central" dy="0.93" >episode2</text>
<line x1="554.40" y1="350.90" x2="572.30" y2="350.90" stroke="#111" stroke-width="1.3" stroke-dasharray="1.2 1.6"/>
<text x="576.60" y="350.90" font-size="7.6" text-anchor="start" fill="#111" font-weight="normal" dominant-baseline="central" dy="0.93" >episode3</text>
<circle cx="569.6" cy="365.8" r="2.7" fill="#7aa6dd"/>
<text x="576.00" y="365.80" font-size="7.6" text-anchor="start" fill="#111" font-weight="normal" dominant-baseline="central" dy="0.93" >sequential</text>
<circle cx="569.6" cy="378.0" r="2.7" fill="#f19eec"/>
<text x="576.00" y="378.00" font-size="7.6" text-anchor="start" fill="#111" font-weight="normal" dominant-baseline="central" dy="0.93" >Relay</text>
<rect x="650.30" y="412.30" width="29.30" height="25.10" fill="none" stroke="#333" stroke-width="0.6" rx="0" stroke-dasharray="1.3 1"/>
<line x1="628.50" y1="381.20" x2="650.30" y2="412.30" stroke="#333" stroke-width="0.6" stroke-dasharray="1.3 1"/>
<line x1="679.60" y1="381.20" x2="679.60" y2="412.30" stroke="#333" stroke-width="0.6" stroke-dasharray="1.3 1"/>
<rect x="628.50" y="337.20" width="51.10" height="44.00" fill="#fff" stroke="#333" stroke-width="0.8" rx="0" />
<clipPath id="cliph"><rect x="628.5" y="337.2" width="51.10000000000002" height="44.0"/></clipPath>
<g clip-path="url(#cliph)"><g transform="translate(628.5,337.2) scale(1.7440,1.7530) translate(-650.3,-412.3)"><path d="M516.40,420.50 L552.90,398.60 L589.40,419.40 L625.50,419.40 L661.60,423.80" fill="none" stroke="#7aa6dd" stroke-width="0.95" /><path d="M516.40,418.00 V423.00 M515.60,418.00 h1.60 M515.60,423.00 h1.60" stroke="#8fb6e6" stroke-width="0.45" fill="none"/><path d="M552.90,394.60 V402.60 M552.10,394.60 h1.60 M552.10,402.60 h1.60" stroke="#8fb6e6" stroke-width="0.45" fill="none"/><path d="M589.40,416.90 V421.90 M588.60,416.90 h1.60 M588.60,421.90 h1.60" stroke="#8fb6e6" stroke-width="0.45" fill="none"/><path d="M625.50,416.90 V421.90 M624.70,416.90 h1.60 M624.70,421.90 h1.60" stroke="#8fb6e6" stroke-width="0.45" fill="none"/><path d="M661.60,421.30 V426.30 M660.80,421.30 h1.60 M660.80,426.30 h1.60" stroke="#8fb6e6" stroke-width="0.45" fill="none"/><path d="M519.70,422.00 L556.20,415.90 L592.70,420.50 L628.80,407.00 L664.90,426.70" fill="none" stroke="#7aa6dd" stroke-width="0.95" stroke-dasharray="5.2 2.6"/><path d="M519.70,419.50 V424.50 M518.90,419.50 h1.60 M518.90,424.50 h1.60" stroke="#8fb6e6" stroke-width="0.45" fill="none"/><path d="M556.20,412.90 V418.90 M555.40,412.90 h1.60 M555.40,418.90 h1.60" stroke="#8fb6e6" stroke-width="0.45" fill="none"/><path d="M592.70,418.00 V423.00 M591.90,418.00 h1.60 M591.90,423.00 h1.60" stroke="#8fb6e6" stroke-width="0.45" fill="none"/><path d="M628.80,404.00 V410.00 M628.00,404.00 h1.60 M628.00,410.00 h1.60" stroke="#8fb6e6" stroke-width="0.45" fill="none"/><path d="M664.90,424.20 V429.20 M664.10,424.20 h1.60 M664.10,429.20 h1.60" stroke="#8fb6e6" stroke-width="0.45" fill="none"/><path d="M523.20,376.20 L559.70,406.40 L596.20,418.60 L632.30,422.60 L668.40,422.30" fill="none" stroke="#7aa6dd" stroke-width="0.95" stroke-dasharray="1.2 1.6"/><path d="M523.20,370.20 V382.20 M522.40,370.20 h1.60 M522.40,382.20 h1.60" stroke="#8fb6e6" stroke-width="0.45" fill="none"/><path d="M559.70,402.40 V410.40 M558.90,402.40 h1.60 M558.90,410.40 h1.60" stroke="#8fb6e6" stroke-width="0.45" fill="none"/><path d="M596.20,415.60 V421.60 M595.40,415.60 h1.60 M595.40,421.60 h1.60" stroke="#8fb6e6" stroke-width="0.45" fill="none"/><path d="M632.30,419.60 V425.60 M631.50,419.60 h1.60 M631.50,425.60 h1.60" stroke="#8fb6e6" stroke-width="0.45" fill="none"/><path d="M668.40,419.30 V425.30 M667.60,419.30 h1.60 M667.60,425.30 h1.60" stroke="#8fb6e6" stroke-width="0.45" fill="none"/><path d="M516.70,418.60 L553.20,416.70 L589.70,426.70 L625.80,420.50 L661.90,429.60" fill="none" stroke="#f19eec" stroke-width="0.95" /><path d="M516.70,416.10 V421.10 M515.90,416.10 h1.60 M515.90,421.10 h1.60" stroke="#f4a8f0" stroke-width="0.45" fill="none"/><path d="M553.20,413.70 V419.70 M552.40,413.70 h1.60 M552.40,419.70 h1.60" stroke="#f4a8f0" stroke-width="0.45" fill="none"/><path d="M589.70,424.70 V428.70 M588.90,424.70 h1.60 M588.90,428.70 h1.60" stroke="#f4a8f0" stroke-width="0.45" fill="none"/><path d="M625.80,418.00 V423.00 M625.00,418.00 h1.60 M625.00,423.00 h1.60" stroke="#f4a8f0" stroke-width="0.45" fill="none"/><path d="M661.90,427.60 V431.60 M661.10,427.60 h1.60 M661.10,431.60 h1.60" stroke="#f4a8f0" stroke-width="0.45" fill="none"/><path d="M520.00,404.50 L556.50,415.90 L593.00,425.90 L629.10,425.30 L665.20,429.60" fill="none" stroke="#f19eec" stroke-width="0.95" stroke-dasharray="5.2 2.6"/><path d="M520.00,400.50 V408.50 M519.20,400.50 h1.60 M519.20,408.50 h1.60" stroke="#f4a8f0" stroke-width="0.45" fill="none"/><path d="M556.50,412.90 V418.90 M555.70,412.90 h1.60 M555.70,418.90 h1.60" stroke="#f4a8f0" stroke-width="0.45" fill="none"/><path d="M593.00,423.40 V428.40 M592.20,423.40 h1.60 M592.20,428.40 h1.60" stroke="#f4a8f0" stroke-width="0.45" fill="none"/><path d="M629.10,423.30 V427.30 M628.30,423.30 h1.60 M628.30,427.30 h1.60" stroke="#f4a8f0" stroke-width="0.45" fill="none"/><path d="M665.20,427.60 V431.60 M664.40,427.60 h1.60 M664.40,431.60 h1.60" stroke="#f4a8f0" stroke-width="0.45" fill="none"/><path d="M523.50,334.90 L560.00,395.60 L596.50,424.00 L632.60,429.40 L668.70,429.10" fill="none" stroke="#f19eec" stroke-width="0.95" stroke-dasharray="1.2 1.6"/><path d="M523.50,324.90 V344.90 M522.70,324.90 h1.60 M522.70,344.90 h1.60" stroke="#f4a8f0" stroke-width="0.45" fill="none"/><path d="M560.00,391.60 V399.60 M559.20,391.60 h1.60 M559.20,399.60 h1.60" stroke="#f4a8f0" stroke-width="0.45" fill="none"/><path d="M596.50,421.00 V427.00 M595.70,421.00 h1.60 M595.70,427.00 h1.60" stroke="#f4a8f0" stroke-width="0.45" fill="none"/><path d="M632.60,426.90 V431.90 M631.80,426.90 h1.60 M631.80,431.90 h1.60" stroke="#f4a8f0" stroke-width="0.45" fill="none"/><path d="M668.70,426.60 V431.60 M667.90,426.60 h1.60 M667.90,431.60 h1.60" stroke="#f4a8f0" stroke-width="0.45" fill="none"/></g></g>
<line x1="626.70" y1="344.40" x2="628.50" y2="344.40" stroke="#555" stroke-width="0.6" />
<text x="622.00" y="344.40" font-size="7.3" text-anchor="end" fill="#111" font-weight="normal" dominant-baseline="central" dy="0.93" >6</text>
<line x1="626.70" y1="361.50" x2="628.50" y2="361.50" stroke="#555" stroke-width="0.6" />
<text x="622.00" y="361.50" font-size="7.3" text-anchor="end" fill="#111" font-weight="normal" dominant-baseline="central" dy="0.93" >4</text>
<line x1="626.70" y1="378.70" x2="628.50" y2="378.70" stroke="#555" stroke-width="0.6" />
<text x="622.00" y="378.70" font-size="7.3" text-anchor="end" fill="#111" font-weight="normal" dominant-baseline="central" dy="0.93" >2</text>
<rect x="31.60" y="489.00" width="29.92" height="29.90" fill="#5e3279" stroke="none" stroke-width="1" rx="0" />
<text x="46.31" y="503.70" font-size="5.9" text-anchor="middle" fill="#fff" font-weight="normal" dominant-baseline="central" dy="0.93" >0.601</text>
<rect x="61.02" y="489.00" width="29.92" height="29.90" fill="#458d9d" stroke="none" stroke-width="1" rx="0" />
<text x="75.73" y="503.70" font-size="5.9" text-anchor="middle" fill="#fff" font-weight="normal" dominant-baseline="central" dy="0.93" >4.987</text>
<rect x="90.44" y="489.00" width="29.92" height="29.90" fill="#536d9a" stroke="none" stroke-width="1" rx="0" />
<text x="105.15" y="503.70" font-size="5.9" text-anchor="middle" fill="#fff" font-weight="normal" dominant-baseline="central" dy="0.93" >3.225</text>
<rect x="119.86" y="489.00" width="29.92" height="29.90" fill="#458c9d" stroke="none" stroke-width="1" rx="0" />
<text x="134.57" y="503.70" font-size="5.9" text-anchor="middle" fill="#fff" font-weight="normal" dominant-baseline="central" dy="0.93" >4.946</text>
<rect x="149.28" y="489.00" width="29.92" height="29.90" fill="#51709b" stroke="none" stroke-width="1" rx="0" />
<text x="163.99" y="503.70" font-size="5.9" text-anchor="middle" fill="#fff" font-weight="normal" dominant-baseline="central" dy="0.93" >3.439</text>
<line x1="29.40" y1="503.70" x2="31.60" y2="503.70" stroke="#444" stroke-width="0.7" />
<text x="25.40" y="503.70" font-size="7.6" text-anchor="end" fill="#111" font-weight="normal" dominant-baseline="central" dy="0.93" >M1</text>
<rect x="31.60" y="518.35" width="29.92" height="29.90" fill="#566398" stroke="none" stroke-width="1" rx="0" />
<text x="46.31" y="533.05" font-size="5.9" text-anchor="middle" fill="#fff" font-weight="normal" dominant-baseline="central" dy="0.93" >2.758</text>
<rect x="61.02" y="518.35" width="29.92" height="29.90" fill="#5d2c74" stroke="none" stroke-width="1" rx="0" />
<text x="75.73" y="533.05" font-size="5.9" text-anchor="middle" fill="#fff" font-weight="normal" dominant-baseline="central" dy="0.93" >0.398</text>
<rect x="90.44" y="518.35" width="29.92" height="29.90" fill="#5c5291" stroke="none" stroke-width="1" rx="0" />
<text x="105.15" y="533.05" font-size="5.9" text-anchor="middle" fill="#fff" font-weight="normal" dominant-baseline="central" dy="0.93" >1.962</text>
<rect x="119.86" y="518.35" width="29.92" height="29.90" fill="#49819d" stroke="none" stroke-width="1" rx="0" />
<text x="134.57" y="533.05" font-size="5.9" text-anchor="middle" fill="#fff" font-weight="normal" dominant-baseline="central" dy="0.93" >4.327</text>
<rect x="149.28" y="518.35" width="29.92" height="29.90" fill="#595e97" stroke="none" stroke-width="1" rx="0" />
<text x="163.99" y="533.05" font-size="5.9" text-anchor="middle" fill="#fff" font-weight="normal" dominant-baseline="central" dy="0.93" >2.505</text>
<line x1="29.40" y1="533.05" x2="31.60" y2="533.05" stroke="#444" stroke-width="0.7" />
<text x="25.40" y="533.05" font-size="7.6" text-anchor="end" fill="#111" font-weight="normal" dominant-baseline="central" dy="0.93" >M2</text>
<rect x="31.60" y="547.70" width="29.92" height="29.90" fill="#556698" stroke="none" stroke-width="1" rx="0" />
<text x="46.31" y="562.40" font-size="5.9" text-anchor="middle" fill="#fff" font-weight="normal" dominant-baseline="central" dy="0.93" >2.876</text>
<rect x="61.02" y="547.70" width="29.92" height="29.90" fill="#4d7a9c" stroke="none" stroke-width="1" rx="0" />
<text x="75.73" y="562.40" font-size="5.9" text-anchor="middle" fill="#fff" font-weight="normal" dominant-baseline="central" dy="0.93" >3.957</text>
<rect x="90.44" y="547.70" width="29.92" height="29.90" fill="#5d2d75" stroke="none" stroke-width="1" rx="0" />
<text x="105.15" y="562.40" font-size="5.9" text-anchor="middle" fill="#fff" font-weight="normal" dominant-baseline="central" dy="0.93" >0.444</text>
<rect x="119.86" y="547.70" width="29.92" height="29.90" fill="#5d4e8f" stroke="none" stroke-width="1" rx="0" />
<text x="134.57" y="562.40" font-size="5.9" text-anchor="middle" fill="#fff" font-weight="normal" dominant-baseline="central" dy="0.93" >1.787</text>
<rect x="149.28" y="547.70" width="29.92" height="29.90" fill="#5c4f8f" stroke="none" stroke-width="1" rx="0" />
<text x="163.99" y="562.40" font-size="5.9" text-anchor="middle" fill="#fff" font-weight="normal" dominant-baseline="central" dy="0.93" >1.829</text>
<line x1="29.40" y1="562.40" x2="31.60" y2="562.40" stroke="#444" stroke-width="0.7" />
<text x="25.40" y="562.40" font-size="7.6" text-anchor="end" fill="#111" font-weight="normal" dominant-baseline="central" dy="0.93" >M3</text>
<rect x="31.60" y="577.05" width="29.92" height="29.90" fill="#5b5894" stroke="none" stroke-width="1" rx="0" />
<text x="46.31" y="591.75" font-size="5.9" text-anchor="middle" fill="#fff" font-weight="normal" dominant-baseline="central" dy="0.93" >2.205</text>
<rect x="61.02" y="577.05" width="29.92" height="29.90" fill="#536d9a" stroke="none" stroke-width="1" rx="0" />
<text x="75.73" y="591.75" font-size="5.9" text-anchor="middle" fill="#fff" font-weight="normal" dominant-baseline="central" dy="0.93" >3.225</text>
<rect x="90.44" y="577.05" width="29.92" height="29.90" fill="#3faa97" stroke="none" stroke-width="1" rx="0" />
<text x="105.15" y="591.75" font-size="5.9" text-anchor="middle" fill="#111" font-weight="normal" dominant-baseline="central" dy="0.93" >6.640</text>
<rect x="119.86" y="577.05" width="29.92" height="29.90" fill="#5c226a" stroke="none" stroke-width="1" rx="0" />
<text x="134.57" y="591.75" font-size="5.9" text-anchor="middle" fill="#fff" font-weight="normal" dominant-baseline="central" dy="0.93" >0.000</text>
<rect x="149.28" y="577.05" width="29.92" height="29.90" fill="#5b5391" stroke="none" stroke-width="1" rx="0" />
<text x="163.99" y="591.75" font-size="5.9" text-anchor="middle" fill="#fff" font-weight="normal" dominant-baseline="central" dy="0.93" >1.984</text>
<line x1="29.40" y1="591.75" x2="31.60" y2="591.75" stroke="#444" stroke-width="0.7" />
<text x="25.40" y="591.75" font-size="7.6" text-anchor="end" fill="#111" font-weight="normal" dominant-baseline="central" dy="0.93" >M4</text>
<rect x="31.60" y="606.40" width="29.92" height="30.10" fill="#3ea39a" stroke="none" stroke-width="1" rx="0" />
<text x="46.31" y="621.20" font-size="5.9" text-anchor="middle" fill="#111" font-weight="normal" dominant-baseline="central" dy="0.93" >6.195</text>
<rect x="61.02" y="606.40" width="29.92" height="30.10" fill="#cfe442" stroke="none" stroke-width="1" rx="0" />
<text x="75.73" y="621.20" font-size="5.9" text-anchor="middle" fill="#111" font-weight="normal" dominant-baseline="central" dy="0.93" >11.007</text>
<rect x="90.44" y="606.40" width="29.92" height="30.10" fill="#4c7c9c" stroke="none" stroke-width="1" rx="0" />
<text x="105.15" y="621.20" font-size="5.9" text-anchor="middle" fill="#fff" font-weight="normal" dominant-baseline="central" dy="0.93" >4.046</text>
<rect x="119.86" y="606.40" width="29.92" height="30.10" fill="#458b9d" stroke="none" stroke-width="1" rx="0" />
<text x="134.57" y="621.20" font-size="5.9" text-anchor="middle" fill="#fff" font-weight="normal" dominant-baseline="central" dy="0.93" >4.885</text>
<rect x="149.28" y="606.40" width="29.92" height="30.10" fill="#5f3980" stroke="none" stroke-width="1" rx="0" />
<text x="163.99" y="621.20" font-size="5.9" text-anchor="middle" fill="#fff" font-weight="normal" dominant-baseline="central" dy="0.93" >0.905</text>
<line x1="29.40" y1="621.20" x2="31.60" y2="621.20" stroke="#444" stroke-width="0.7" />
<text x="25.40" y="621.20" font-size="7.6" text-anchor="end" fill="#111" font-weight="normal" dominant-baseline="central" dy="0.93" >M5</text>
<rect x="31.60" y="638.90" width="29.92" height="29.80" fill="#409a9b" stroke="none" stroke-width="1" rx="0" />
<text x="46.31" y="653.55" font-size="5.9" text-anchor="middle" fill="#111" font-weight="normal" dominant-baseline="central" dy="0.93" >5.727</text>
<rect x="61.02" y="638.90" width="29.92" height="29.80" fill="#cde442" stroke="none" stroke-width="1" rx="0" />
<text x="75.73" y="653.55" font-size="5.9" text-anchor="middle" fill="#111" font-weight="normal" dominant-baseline="central" dy="0.93" >10.963</text>
<rect x="90.44" y="638.90" width="29.92" height="29.80" fill="#409b9b" stroke="none" stroke-width="1" rx="0" />
<text x="105.15" y="653.55" font-size="5.9" text-anchor="middle" fill="#111" font-weight="normal" dominant-baseline="central" dy="0.93" >5.749</text>
<rect x="119.86" y="638.90" width="29.92" height="29.80" fill="#40979c" stroke="none" stroke-width="1" rx="0" />
<text x="134.57" y="653.55" font-size="5.9" text-anchor="middle" fill="#111" font-weight="normal" dominant-baseline="central" dy="0.93" >5.564</text>
<rect x="149.28" y="638.90" width="29.92" height="29.80" fill="#468a9d" stroke="none" stroke-width="1" rx="0" />
<text x="163.99" y="653.55" font-size="5.9" text-anchor="middle" fill="#fff" font-weight="normal" dominant-baseline="central" dy="0.93" >4.795</text>
<line x1="29.40" y1="653.55" x2="31.60" y2="653.55" stroke="#444" stroke-width="0.7" />
<text x="25.40" y="653.55" font-size="7.6" text-anchor="end" fill="#111" font-weight="normal" dominant-baseline="central" dy="0.93" >M6</text>
<rect x="31.60" y="668.20" width="29.92" height="29.80" fill="#576298" stroke="none" stroke-width="1" rx="0" />
<text x="46.31" y="682.85" font-size="5.9" text-anchor="middle" fill="#fff" font-weight="normal" dominant-baseline="central" dy="0.93" >2.710</text>
<rect x="61.02" y="668.20" width="29.92" height="29.80" fill="#4f749c" stroke="none" stroke-width="1" rx="0" />
<text x="75.73" y="682.85" font-size="5.9" text-anchor="middle" fill="#fff" font-weight="normal" dominant-baseline="central" dy="0.93" >3.597</text>
<rect x="90.44" y="668.20" width="29.92" height="29.80" fill="#5b5b96" stroke="none" stroke-width="1" rx="0" />
<text x="105.15" y="682.85" font-size="5.9" text-anchor="middle" fill="#fff" font-weight="normal" dominant-baseline="central" dy="0.93" >2.312</text>
<rect x="119.86" y="668.20" width="29.92" height="29.80" fill="#5a5b96" stroke="none" stroke-width="1" rx="0" />
<text x="134.57" y="682.85" font-size="5.9" text-anchor="middle" fill="#fff" font-weight="normal" dominant-baseline="central" dy="0.93" >2.359</text>
<rect x="149.28" y="668.20" width="29.92" height="29.80" fill="#5b5b96" stroke="none" stroke-width="1" rx="0" />
<text x="163.99" y="682.85" font-size="5.9" text-anchor="middle" fill="#fff" font-weight="normal" dominant-baseline="central" dy="0.93" >2.313</text>
<line x1="29.40" y1="682.85" x2="31.60" y2="682.85" stroke="#444" stroke-width="0.7" />
<text x="25.40" y="682.85" font-size="7.6" text-anchor="end" fill="#111" font-weight="normal" dominant-baseline="central" dy="0.93" >M7</text>
<rect x="31.60" y="697.50" width="29.92" height="29.80" fill="#5a5c97" stroke="none" stroke-width="1" rx="0" />
<text x="46.31" y="712.15" font-size="5.9" text-anchor="middle" fill="#fff" font-weight="normal" dominant-baseline="central" dy="0.93" >2.399</text>
<rect x="61.02" y="697.50" width="29.92" height="29.80" fill="#48839d" stroke="none" stroke-width="1" rx="0" />
<text x="75.73" y="712.15" font-size="5.9" text-anchor="middle" fill="#fff" font-weight="normal" dominant-baseline="central" dy="0.93" >4.479</text>
<rect x="90.44" y="697.50" width="29.92" height="29.80" fill="#448f9d" stroke="none" stroke-width="1" rx="0" />
<text x="105.15" y="712.15" font-size="5.9" text-anchor="middle" fill="#fff" font-weight="normal" dominant-baseline="central" dy="0.93" >5.097</text>
<rect x="119.86" y="697.50" width="29.92" height="29.80" fill="#42929c" stroke="none" stroke-width="1" rx="0" />
<text x="134.57" y="712.15" font-size="5.9" text-anchor="middle" fill="#111" font-weight="normal" dominant-baseline="central" dy="0.93" >5.284</text>
<rect x="149.28" y="697.50" width="29.92" height="29.80" fill="#4e789c" stroke="none" stroke-width="1" rx="0" />
<text x="163.99" y="712.15" font-size="5.9" text-anchor="middle" fill="#fff" font-weight="normal" dominant-baseline="central" dy="0.93" >3.856</text>
<line x1="29.40" y1="712.15" x2="31.60" y2="712.15" stroke="#444" stroke-width="0.7" />
<text x="25.40" y="712.15" font-size="7.6" text-anchor="end" fill="#111" font-weight="normal" dominant-baseline="central" dy="0.93" >M8</text>
<rect x="31.60" y="636.00" width="147.10" height="2.90" fill="#fff" stroke="none" stroke-width="1" rx="0" />
<line x1="31.60" y1="637.45" x2="178.70" y2="637.45" stroke="#777" stroke-width="0.7" stroke-dasharray="1.2 0.9"/>
<line x1="31.30" y1="489.00" x2="31.30" y2="726.80" stroke="#555" stroke-width="0.7" />
<line x1="31.30" y1="726.80" x2="178.70" y2="726.80" stroke="#555" stroke-width="0.7" />
<line x1="46.31" y1="726.80" x2="46.31" y2="728.80" stroke="#444" stroke-width="0.7" />
<text x="46.61" y="737.50" font-size="7.6" text-anchor="middle" fill="#111" font-weight="normal" dominant-baseline="central" dy="0.93" >1</text>
<line x1="75.73" y1="726.80" x2="75.73" y2="728.80" stroke="#444" stroke-width="0.7" />
<text x="76.03" y="737.50" font-size="7.6" text-anchor="middle" fill="#111" font-weight="normal" dominant-baseline="central" dy="0.93" >2</text>
<line x1="105.15" y1="726.80" x2="105.15" y2="728.80" stroke="#444" stroke-width="0.7" />
<text x="105.45" y="737.50" font-size="7.6" text-anchor="middle" fill="#111" font-weight="normal" dominant-baseline="central" dy="0.93" >3</text>
<line x1="134.57" y1="726.80" x2="134.57" y2="728.80" stroke="#444" stroke-width="0.7" />
<text x="134.87" y="737.50" font-size="7.6" text-anchor="middle" fill="#111" font-weight="normal" dominant-baseline="central" dy="0.93" >4</text>
<line x1="163.99" y1="726.80" x2="163.99" y2="728.80" stroke="#444" stroke-width="0.7" />
<text x="164.29" y="737.50" font-size="7.6" text-anchor="middle" fill="#111" font-weight="normal" dominant-baseline="central" dy="0.93" >5</text>
<text x="30.60" y="734.60" font-size="7.3" text-anchor="middle" fill="#111" font-weight="normal" dominant-baseline="central" dy="0.93" >host</text>
<text x="102.20" y="480.80" font-size="7.6" text-anchor="middle" fill="#111" font-weight="normal" dominant-baseline="central" dy="0.93" >sequential</text>
<text x="7.00" y="480.50" font-size="10" text-anchor="middle" fill="#000" font-weight="bold" dominant-baseline="central" dy="0.93" >i</text>
<rect x="206.10" y="489.00" width="29.92" height="29.90" fill="#5d2c73" stroke="none" stroke-width="1" rx="0" />
<text x="220.81" y="503.70" font-size="5.9" text-anchor="middle" fill="#fff" font-weight="normal" dominant-baseline="central" dy="0.93" >0.377</text>
<rect x="235.52" y="489.00" width="29.92" height="29.90" fill="#5b5593" stroke="none" stroke-width="1" rx="0" />
<text x="250.23" y="503.70" font-size="5.9" text-anchor="middle" fill="#fff" font-weight="normal" dominant-baseline="central" dy="0.93" >2.103</text>
<rect x="264.94" y="489.00" width="29.92" height="29.90" fill="#595d97" stroke="none" stroke-width="1" rx="0" />
<text x="279.65" y="503.70" font-size="5.9" text-anchor="middle" fill="#fff" font-weight="normal" dominant-baseline="central" dy="0.93" >2.453</text>
<rect x="294.36" y="489.00" width="29.92" height="29.90" fill="#556799" stroke="none" stroke-width="1" rx="0" />
<text x="309.07" y="503.70" font-size="5.9" text-anchor="middle" fill="#fff" font-weight="normal" dominant-baseline="central" dy="0.93" >2.943</text>
<rect x="323.78" y="489.00" width="29.92" height="29.90" fill="#5b5593" stroke="none" stroke-width="1" rx="0" />
<text x="338.49" y="503.70" font-size="5.9" text-anchor="middle" fill="#fff" font-weight="normal" dominant-baseline="central" dy="0.93" >2.117</text>
<line x1="203.90" y1="503.70" x2="206.10" y2="503.70" stroke="#444" stroke-width="0.7" />
<text x="199.90" y="503.70" font-size="7.6" text-anchor="end" fill="#111" font-weight="normal" dominant-baseline="central" dy="0.93" >M1</text>
<rect x="206.10" y="518.35" width="29.92" height="29.90" fill="#546899" stroke="none" stroke-width="1" rx="0" />
<text x="220.81" y="533.05" font-size="5.9" text-anchor="middle" fill="#fff" font-weight="normal" dominant-baseline="central" dy="0.93" >3.007</text>
<rect x="235.52" y="518.35" width="29.92" height="29.90" fill="#5e2d76" stroke="none" stroke-width="1" rx="0" />
<text x="250.23" y="533.05" font-size="5.9" text-anchor="middle" fill="#fff" font-weight="normal" dominant-baseline="central" dy="0.93" >0.460</text>
<rect x="264.94" y="518.35" width="29.92" height="29.90" fill="#5c5291" stroke="none" stroke-width="1" rx="0" />
<text x="279.65" y="533.05" font-size="5.9" text-anchor="middle" fill="#fff" font-weight="normal" dominant-baseline="central" dy="0.93" >1.947</text>
<rect x="294.36" y="518.35" width="29.92" height="29.90" fill="#5a5b97" stroke="none" stroke-width="1" rx="0" />
<text x="309.07" y="533.05" font-size="5.9" text-anchor="middle" fill="#fff" font-weight="normal" dominant-baseline="central" dy="0.93" >2.379</text>
<rect x="323.78" y="518.35" width="29.92" height="29.90" fill="#5a5b96" stroke="none" stroke-width="1" rx="0" />
<text x="338.49" y="533.05" font-size="5.9" text-anchor="middle" fill="#fff" font-weight="normal" dominant-baseline="central" dy="0.93" >2.320</text>
<line x1="203.90" y1="533.05" x2="206.10" y2="533.05" stroke="#444" stroke-width="0.7" />
<text x="199.90" y="533.05" font-size="7.6" text-anchor="end" fill="#111" font-weight="normal" dominant-baseline="central" dy="0.93" >M2</text>
<rect x="206.10" y="547.70" width="29.92" height="29.90" fill="#586197" stroke="none" stroke-width="1" rx="0" />
<text x="220.81" y="562.40" font-size="5.9" text-anchor="middle" fill="#fff" font-weight="normal" dominant-baseline="central" dy="0.93" >2.640</text>
<rect x="235.52" y="547.70" width="29.92" height="29.90" fill="#595e97" stroke="none" stroke-width="1" rx="0" />
<text x="250.23" y="562.40" font-size="5.9" text-anchor="middle" fill="#fff" font-weight="normal" dominant-baseline="central" dy="0.93" >2.511</text>
<rect x="264.94" y="547.70" width="29.92" height="29.90" fill="#5e3077" stroke="none" stroke-width="1" rx="0" />
<text x="279.65" y="562.40" font-size="5.9" text-anchor="middle" fill="#fff" font-weight="normal" dominant-baseline="central" dy="0.93" >0.539</text>
<rect x="294.36" y="547.70" width="29.92" height="29.90" fill="#5b5693" stroke="none" stroke-width="1" rx="0" />
<text x="309.07" y="562.40" font-size="5.9" text-anchor="middle" fill="#fff" font-weight="normal" dominant-baseline="central" dy="0.93" >2.156</text>
<rect x="323.78" y="547.70" width="29.92" height="29.90" fill="#5d4e8f" stroke="none" stroke-width="1" rx="0" />
<text x="338.49" y="562.40" font-size="5.9" text-anchor="middle" fill="#fff" font-weight="normal" dominant-baseline="central" dy="0.93" >1.772</text>
<line x1="203.90" y1="562.40" x2="206.10" y2="562.40" stroke="#444" stroke-width="0.7" />
<text x="199.90" y="562.40" font-size="7.6" text-anchor="end" fill="#111" font-weight="normal" dominant-baseline="central" dy="0.93" >M3</text>
<rect x="206.10" y="577.05" width="29.92" height="29.90" fill="#4e779c" stroke="none" stroke-width="1" rx="0" />
<text x="220.81" y="591.75" font-size="5.9" text-anchor="middle" fill="#fff" font-weight="normal" dominant-baseline="central" dy="0.93" >3.777</text>
<rect x="235.52" y="577.05" width="29.92" height="29.90" fill="#5b5391" stroke="none" stroke-width="1" rx="0" />
<text x="250.23" y="591.75" font-size="5.9" text-anchor="middle" fill="#fff" font-weight="normal" dominant-baseline="central" dy="0.93" >1.991</text>
<rect x="264.94" y="577.05" width="29.92" height="29.90" fill="#5b5391" stroke="none" stroke-width="1" rx="0" />
<text x="279.65" y="591.75" font-size="5.9" text-anchor="middle" fill="#fff" font-weight="normal" dominant-baseline="central" dy="0.93" >2.004</text>
<rect x="294.36" y="577.05" width="29.92" height="29.90" fill="#5c226a" stroke="none" stroke-width="1" rx="0" />
<text x="309.07" y="591.75" font-size="5.9" text-anchor="middle" fill="#fff" font-weight="normal" dominant-baseline="central" dy="0.93" >0.011</text>
<rect x="323.78" y="577.05" width="29.92" height="29.90" fill="#5d4d8e" stroke="none" stroke-width="1" rx="0" />
<text x="338.49" y="591.75" font-size="5.9" text-anchor="middle" fill="#fff" font-weight="normal" dominant-baseline="central" dy="0.93" >1.742</text>
<line x1="203.90" y1="591.75" x2="206.10" y2="591.75" stroke="#444" stroke-width="0.7" />
<text x="199.90" y="591.75" font-size="7.6" text-anchor="end" fill="#111" font-weight="normal" dominant-baseline="central" dy="0.93" >M4</text>
<rect x="206.10" y="606.40" width="29.92" height="30.10" fill="#3ea798" stroke="none" stroke-width="1" rx="0" />
<text x="220.81" y="621.20" font-size="5.9" text-anchor="middle" fill="#111" font-weight="normal" dominant-baseline="central" dy="0.93" >6.444</text>
<rect x="235.52" y="606.40" width="29.92" height="30.10" fill="#448e9d" stroke="none" stroke-width="1" rx="0" />
<text x="250.23" y="621.20" font-size="5.9" text-anchor="middle" fill="#fff" font-weight="normal" dominant-baseline="central" dy="0.93" >5.037</text>
<rect x="264.94" y="606.40" width="29.92" height="30.10" fill="#516f9b" stroke="none" stroke-width="1" rx="0" />
<text x="279.65" y="621.20" font-size="5.9" text-anchor="middle" fill="#fff" font-weight="normal" dominant-baseline="central" dy="0.93" >3.379</text>
<rect x="294.36" y="606.40" width="29.92" height="30.10" fill="#49839d" stroke="none" stroke-width="1" rx="0" />
<text x="309.07" y="621.20" font-size="5.9" text-anchor="middle" fill="#fff" font-weight="normal" dominant-baseline="central" dy="0.93" >4.398</text>
<rect x="323.78" y="606.40" width="29.92" height="30.10" fill="#5e347c" stroke="none" stroke-width="1" rx="0" />
<text x="338.49" y="621.20" font-size="5.9" text-anchor="middle" fill="#fff" font-weight="normal" dominant-baseline="central" dy="0.93" >0.724</text>
<line x1="203.90" y1="621.20" x2="206.10" y2="621.20" stroke="#444" stroke-width="0.7" />
<text x="199.90" y="621.20" font-size="7.6" text-anchor="end" fill="#111" font-weight="normal" dominant-baseline="central" dy="0.93" >M5</text>
<rect x="206.10" y="638.90" width="29.92" height="29.80" fill="#3ea09b" stroke="none" stroke-width="1" rx="0" />
<text x="220.81" y="653.55" font-size="5.9" text-anchor="middle" fill="#111" font-weight="normal" dominant-baseline="central" dy="0.93" >6.027</text>
<rect x="235.52" y="638.90" width="29.92" height="29.80" fill="#3ea698" stroke="none" stroke-width="1" rx="0" />
<text x="250.23" y="653.55" font-size="5.9" text-anchor="middle" fill="#111" font-weight="normal" dominant-baseline="central" dy="0.93" >6.393</text>
<rect x="264.94" y="638.90" width="29.92" height="29.80" fill="#4a809d" stroke="none" stroke-width="1" rx="0" />
<text x="279.65" y="653.55" font-size="5.9" text-anchor="middle" fill="#fff" font-weight="normal" dominant-baseline="central" dy="0.93" >4.282</text>
<rect x="294.36" y="638.90" width="29.92" height="29.80" fill="#40999c" stroke="none" stroke-width="1" rx="0" />
<text x="309.07" y="653.55" font-size="5.9" text-anchor="middle" fill="#111" font-weight="normal" dominant-baseline="central" dy="0.93" >5.682</text>
<rect x="323.78" y="638.90" width="29.92" height="29.80" fill="#526f9b" stroke="none" stroke-width="1" rx="0" />
<text x="338.49" y="653.55" font-size="5.9" text-anchor="middle" fill="#fff" font-weight="normal" dominant-baseline="central" dy="0.93" >3.320</text>
<line x1="203.90" y1="653.55" x2="206.10" y2="653.55" stroke="#444" stroke-width="0.7" />
<text x="199.90" y="653.55" font-size="7.6" text-anchor="end" fill="#111" font-weight="normal" dominant-baseline="central" dy="0.93" >M6</text>
<rect x="206.10" y="668.20" width="29.92" height="29.80" fill="#595d97" stroke="none" stroke-width="1" rx="0" />
<text x="220.81" y="682.85" font-size="5.9" text-anchor="middle" fill="#fff" font-weight="normal" dominant-baseline="central" dy="0.93" >2.450</text>
<rect x="235.52" y="668.20" width="29.92" height="29.80" fill="#4f759c" stroke="none" stroke-width="1" rx="0" />
<text x="250.23" y="682.85" font-size="5.9" text-anchor="middle" fill="#fff" font-weight="normal" dominant-baseline="central" dy="0.93" >3.632</text>
<rect x="264.94" y="668.20" width="29.92" height="29.80" fill="#5b5995" stroke="none" stroke-width="1" rx="0" />
<text x="279.65" y="682.85" font-size="5.9" text-anchor="middle" fill="#fff" font-weight="normal" dominant-baseline="central" dy="0.93" >2.254</text>
<rect x="294.36" y="668.20" width="29.92" height="29.80" fill="#5b5a95" stroke="none" stroke-width="1" rx="0" />
<text x="309.07" y="682.85" font-size="5.9" text-anchor="middle" fill="#fff" font-weight="normal" dominant-baseline="central" dy="0.93" >2.274</text>
<rect x="323.78" y="668.20" width="29.92" height="29.80" fill="#5b5593" stroke="none" stroke-width="1" rx="0" />
<text x="338.49" y="682.85" font-size="5.9" text-anchor="middle" fill="#fff" font-weight="normal" dominant-baseline="central" dy="0.93" >2.112</text>
<line x1="203.90" y1="682.85" x2="206.10" y2="682.85" stroke="#444" stroke-width="0.7" />
<text x="199.90" y="682.85" font-size="7.6" text-anchor="end" fill="#111" font-weight="normal" dominant-baseline="central" dy="0.93" >M7</text>
<rect x="206.10" y="697.50" width="29.92" height="29.80" fill="#586097" stroke="none" stroke-width="1" rx="0" />
<text x="220.81" y="712.15" font-size="5.9" text-anchor="middle" fill="#fff" font-weight="normal" dominant-baseline="central" dy="0.93" >2.592</text>
<rect x="235.52" y="697.50" width="29.92" height="29.80" fill="#4e789c" stroke="none" stroke-width="1" rx="0" />
<text x="250.23" y="712.15" font-size="5.9" text-anchor="middle" fill="#fff" font-weight="normal" dominant-baseline="central" dy="0.93" >3.838</text>
<rect x="264.94" y="697.50" width="29.92" height="29.80" fill="#5a5b96" stroke="none" stroke-width="1" rx="0" />
<text x="279.65" y="712.15" font-size="5.9" text-anchor="middle" fill="#fff" font-weight="normal" dominant-baseline="central" dy="0.93" >2.365</text>
<rect x="294.36" y="697.50" width="29.92" height="29.80" fill="#556598" stroke="none" stroke-width="1" rx="0" />
<text x="309.07" y="712.15" font-size="5.9" text-anchor="middle" fill="#fff" font-weight="normal" dominant-baseline="central" dy="0.93" >2.850</text>
<rect x="323.78" y="697.50" width="29.92" height="29.80" fill="#5b5894" stroke="none" stroke-width="1" rx="0" />
<text x="338.49" y="712.15" font-size="5.9" text-anchor="middle" fill="#fff" font-weight="normal" dominant-baseline="central" dy="0.93" >2.202</text>
<line x1="203.90" y1="712.15" x2="206.10" y2="712.15" stroke="#444" stroke-width="0.7" />
<text x="199.90" y="712.15" font-size="7.6" text-anchor="end" fill="#111" font-weight="normal" dominant-baseline="central" dy="0.93" >M8</text>
<rect x="206.10" y="636.00" width="147.10" height="2.90" fill="#fff" stroke="none" stroke-width="1" rx="0" />
<line x1="206.10" y1="637.45" x2="353.20" y2="637.45" stroke="#777" stroke-width="0.7" stroke-dasharray="1.2 0.9"/>
<line x1="205.80" y1="489.00" x2="205.80" y2="726.80" stroke="#555" stroke-width="0.7" />
<line x1="205.80" y1="726.80" x2="353.20" y2="726.80" stroke="#555" stroke-width="0.7" />
<line x1="220.81" y1="726.80" x2="220.81" y2="728.80" stroke="#444" stroke-width="0.7" />
<text x="221.11" y="737.50" font-size="7.6" text-anchor="middle" fill="#111" font-weight="normal" dominant-baseline="central" dy="0.93" >1</text>
<line x1="250.23" y1="726.80" x2="250.23" y2="728.80" stroke="#444" stroke-width="0.7" />
<text x="250.53" y="737.50" font-size="7.6" text-anchor="middle" fill="#111" font-weight="normal" dominant-baseline="central" dy="0.93" >2</text>
<line x1="279.65" y1="726.80" x2="279.65" y2="728.80" stroke="#444" stroke-width="0.7" />
<text x="279.95" y="737.50" font-size="7.6" text-anchor="middle" fill="#111" font-weight="normal" dominant-baseline="central" dy="0.93" >3</text>
<line x1="309.07" y1="726.80" x2="309.07" y2="728.80" stroke="#444" stroke-width="0.7" />
<text x="309.37" y="737.50" font-size="7.6" text-anchor="middle" fill="#111" font-weight="normal" dominant-baseline="central" dy="0.93" >4</text>
<line x1="338.49" y1="726.80" x2="338.49" y2="728.80" stroke="#444" stroke-width="0.7" />
<text x="338.79" y="737.50" font-size="7.6" text-anchor="middle" fill="#111" font-weight="normal" dominant-baseline="central" dy="0.93" >5</text>
<text x="205.10" y="734.60" font-size="7.3" text-anchor="middle" fill="#111" font-weight="normal" dominant-baseline="central" dy="0.93" >host</text>
<text x="279.60" y="480.80" font-size="7.6" text-anchor="middle" fill="#111" font-weight="normal" dominant-baseline="central" dy="0.93" >Relay Learning</text>
<text x="183.50" y="480.50" font-size="10" text-anchor="middle" fill="#000" font-weight="bold" dominant-baseline="central" dy="0.93" >j</text>
<text x="0" y="0" font-size="7.6" text-anchor="middle" fill="#111" dominant-baseline="central" dy="0.93" transform="translate(9.3,563.4) rotate(-90)">internal test sets</text>
<text x="0" y="0" font-size="7.6" text-anchor="middle" fill="#111" dominant-baseline="central" dy="0.93" transform="translate(9.3,682.0) rotate(-90)">external test sets</text>
<line x1="39.40" y1="744.50" x2="168.50" y2="744.50" stroke="#111" stroke-width="0.8" />
<path d="M166.5,741.8 L171.2,744.5 L166.5,747.2 Z" fill="#111" stroke="#111" stroke-width="0.5" />
<path d="M212.2,740.9 L343.5,740.9 L351.8,744.5 L343.5,748.1 L212.2,748.1 L219.5,744.5 Z" fill="#f0b6ee" stroke="#e070e0" stroke-width="0.7" />
<linearGradient id="vg" x1="0" y1="1" x2="0" y2="0"><stop offset="0.0" stop-color="#440154"/><stop offset="0.1" stop-color="#482475"/><stop offset="0.2" stop-color="#414487"/><stop offset="0.3" stop-color="#355f8d"/><stop offset="0.4" stop-color="#2a788e"/><stop offset="0.5" stop-color="#21918c"/><stop offset="0.6" stop-color="#22a884"/><stop offset="0.7" stop-color="#44bf70"/><stop offset="0.8" stop-color="#7ad151"/><stop offset="0.9" stop-color="#bddf26"/><stop offset="1.0" stop-color="#fde725"/></linearGradient>
<rect x="358.70" y="505.30" width="7.40" height="220.40" fill="url(#vg)" stroke="none" stroke-width="1" rx="0" />
<line x1="358.70" y1="542.03" x2="360.00" y2="542.03" stroke="#333" stroke-width="0.6" />
<line x1="364.80" y1="542.03" x2="366.10" y2="542.03" stroke="#333" stroke-width="0.6" />
<text x="368.60" y="542.03" font-size="7.6" text-anchor="start" fill="#111" font-weight="normal" dominant-baseline="central" dy="0.93" >10</text>
<line x1="358.70" y1="633.87" x2="360.00" y2="633.87" stroke="#333" stroke-width="0.6" />
<line x1="364.80" y1="633.87" x2="366.10" y2="633.87" stroke="#333" stroke-width="0.6" />
<text x="368.60" y="633.87" font-size="7.6" text-anchor="start" fill="#111" font-weight="normal" dominant-baseline="central" dy="0.93" >5</text>
<line x1="358.70" y1="725.70" x2="360.00" y2="725.70" stroke="#333" stroke-width="0.6" />
<line x1="364.80" y1="725.70" x2="366.10" y2="725.70" stroke="#333" stroke-width="0.6" />
<text x="368.60" y="725.70" font-size="7.6" text-anchor="start" fill="#111" font-weight="normal" dominant-baseline="central" dy="0.93" >0</text>
<text x="357.80" y="496.00" font-size="7.3" text-anchor="start" fill="#111" font-weight="normal" dominant-baseline="central" dy="0.93" >HD</text>
<path d="M370.0,492.7 V498.7 M368.4,496.9 L370.0,499.0 L371.6,496.9" fill="none" stroke="#111" stroke-width="0.8" />
<radialGradient id="brainG" cx="0.5" cy="0.5" r="0.5"><stop offset="0" stop-color="#8a8a8a"/><stop offset="0.8" stop-color="#7a7a7a"/><stop offset="1" stop-color="#c8c8c8"/></radialGradient>
<pattern id="noise" width="3" height="3" patternUnits="userSpaceOnUse"><rect width="3" height="3" fill="#777"/><rect x="0" y="0" width="1" height="1" fill="#939393"/><rect x="2" y="1" width="1" height="1" fill="#5e5e5e"/><rect x="1" y="2" width="1" height="1" fill="#9a9a9a"/></pattern>
<text x="388.50" y="480.50" font-size="10" text-anchor="middle" fill="#000" font-weight="bold" dominant-baseline="central" dy="0.93" >k</text>
<rect x="400.30" y="481.80" width="49.60" height="154.40" fill="#e3e3e3" stroke="none" stroke-width="0" rx="2.5" />
<text x="425.10" y="488.80" font-size="7.6" text-anchor="middle" fill="#111" font-weight="normal" dominant-baseline="central" dy="0.93" >M1-test</text>
<rect x="457.60" y="481.80" width="50.80" height="154.40" fill="#e3e3e3" stroke="none" stroke-width="0" rx="2.5" />
<text x="483.00" y="488.80" font-size="7.6" text-anchor="middle" fill="#111" font-weight="normal" dominant-baseline="central" dy="0.93" >M2-test</text>
<rect x="513.10" y="481.80" width="50.60" height="154.40" fill="#e3e3e3" stroke="none" stroke-width="0" rx="2.5" />
<text x="538.40" y="488.80" font-size="7.6" text-anchor="middle" fill="#111" font-weight="normal" dominant-baseline="central" dy="0.93" >M3-test</text>
<rect x="570.80" y="481.80" width="51.00" height="154.40" fill="#e3e3e3" stroke="none" stroke-width="0" rx="2.5" />
<text x="596.30" y="488.80" font-size="7.6" text-anchor="middle" fill="#111" font-weight="normal" dominant-baseline="central" dy="0.93" >M4-test</text>
<rect x="629.30" y="481.80" width="50.60" height="154.40" fill="#e3e3e3" stroke="none" stroke-width="0" rx="2.5" />
<text x="654.60" y="488.80" font-size="7.6" text-anchor="middle" fill="#111" font-weight="normal" dominant-baseline="central" dy="0.93" >M5-test</text>
<clipPath id="ct940"><rect x="402.30" y="494.00" width="45.70" height="45.50"/></clipPath>
<rect x="402.30" y="494.00" width="45.70" height="45.50" fill="#000" stroke="none" stroke-width="1" rx="0" />
<g clip-path="url(#ct940)"><g transform="rotate(-12 427.44 515.38)"><ellipse cx="427.44" cy="515.38" rx="11.25" ry="11.05" fill="#f2f2f2"/><ellipse cx="427.44" cy="515.38" rx="9.55" ry="9.35" fill="url(#noise)"/><ellipse cx="427.44" cy="515.38" rx="9.55" ry="9.35" fill="url(#brainG)" fill-opacity="0.55"/><path d="M419.63,508.25 Q427.44,503.65 435.24,508.25 Q427.44,509.77 419.63,508.25Z" fill="#eee"/><ellipse cx="423.94" cy="507.22" rx="1.5" ry="1.3" fill="#222"/><ellipse cx="430.94" cy="507.22" rx="1.5" ry="1.3" fill="#222"/><line x1="427.44" y1="506.71" x2="427.44" y2="524.05" stroke="#d42a2a" stroke-width="0.8"/></g></g>
<circle cx="409.00" cy="500.60" r="5.0" fill="#c3daf4" stroke="#8fb6e8" stroke-width="1.0"/>
<text x="409.00" y="500.90" font-size="7.0" text-anchor="middle" fill="#111" font-weight="normal" dominant-baseline="central" dy="0.93" >S</text>
<line x1="409.61" y1="515.38" x2="420.83" y2="518.43" stroke="#9b82e6" stroke-width="2.0" />
<polygon points="424.69,519.48 420.05,521.33 421.62,515.54" fill="#9b82e6"/>
<clipPath id="ct947"><rect x="402.30" y="541.30" width="45.70" height="45.30"/></clipPath>
<rect x="402.30" y="541.30" width="45.70" height="45.30" fill="#000" stroke="none" stroke-width="1" rx="0" />
<g clip-path="url(#ct947)"><g transform="rotate(-12 427.44 562.59)"><ellipse cx="427.44" cy="562.59" rx="11.25" ry="11.05" fill="#f2f2f2"/><ellipse cx="427.44" cy="562.59" rx="9.55" ry="9.35" fill="url(#noise)"/><ellipse cx="427.44" cy="562.59" rx="9.55" ry="9.35" fill="url(#brainG)" fill-opacity="0.55"/><path d="M419.63,555.45 Q427.44,550.86 435.24,555.45 Q427.44,556.98 419.63,555.45Z" fill="#eee"/><ellipse cx="423.94" cy="554.43" rx="1.5" ry="1.3" fill="#222"/><ellipse cx="430.94" cy="554.43" rx="1.5" ry="1.3" fill="#222"/><line x1="427.44" y1="553.92" x2="427.44" y2="571.26" stroke="#d42a2a" stroke-width="0.8"/></g></g>
<circle cx="409.00" cy="547.90" r="5.0" fill="#f5c0f3" stroke="#e08ae0" stroke-width="1.0"/>
<text x="409.00" y="548.20" font-size="7.0" text-anchor="middle" fill="#111" font-weight="normal" dominant-baseline="central" dy="0.93" >R</text>
<clipPath id="ct952"><rect x="402.30" y="588.20" width="45.70" height="44.60"/></clipPath>
<rect x="402.30" y="588.20" width="45.70" height="44.60" fill="#000" stroke="none" stroke-width="1" rx="0" />
<g clip-path="url(#ct952)"><g transform="rotate(-12 427.44 609.16)"><ellipse cx="427.44" cy="609.16" rx="11.25" ry="11.05" fill="#f2f2f2"/><ellipse cx="427.44" cy="609.16" rx="9.55" ry="9.35" fill="url(#noise)"/><ellipse cx="427.44" cy="609.16" rx="9.55" ry="9.35" fill="url(#brainG)" fill-opacity="0.55"/><path d="M419.63,602.02 Q427.44,597.43 435.24,602.02 Q427.44,603.55 419.63,602.02Z" fill="#eee"/><ellipse cx="423.94" cy="601.00" rx="1.5" ry="1.3" fill="#222"/><ellipse cx="430.94" cy="601.00" rx="1.5" ry="1.3" fill="#222"/><line x1="427.44" y1="600.49" x2="427.44" y2="617.83" stroke="#d42a2a" stroke-width="0.8"/></g></g>
<circle cx="409.00" cy="594.80" r="5.0" fill="#f7c0ba" stroke="#e48880" stroke-width="1.0"/>
<text x="409.00" y="595.10" font-size="7.0" text-anchor="middle" fill="#111" font-weight="normal" dominant-baseline="central" dy="0.93" >G</text>
<clipPath id="ct957"><rect x="459.20" y="494.00" width="46.40" height="45.50"/></clipPath>
<rect x="459.20" y="494.00" width="46.40" height="45.50" fill="#000" stroke="none" stroke-width="1" rx="0" />
<g clip-path="url(#ct957)"><path d="M462.50,523.68 Q482.40,556.28 502.30,523.68" fill="none" stroke="#bbb" stroke-width="0.6"/><g transform="rotate(0 482.40 515.38)"><ellipse cx="482.40" cy="515.38" rx="12.60" ry="15.20" fill="#f2f2f2"/><ellipse cx="482.40" cy="515.38" rx="10.60" ry="13.20" fill="url(#noise)"/><ellipse cx="482.40" cy="515.38" rx="10.60" ry="13.20" fill="url(#brainG)" fill-opacity="0.55"/><ellipse cx="482.40" cy="515.38" rx="10.60" ry="13.20" fill="#111"/><path d="M475.40,509.38 Q474.40,501.88 482.40,501.58 Q490.40,501.88 489.40,509.38 Z" fill="#e8e8e8"/><ellipse cx="478.80" cy="505.78" rx="2.2" ry="2.6" fill="#1a1a1a"/><ellipse cx="486.00" cy="505.78" rx="2.2" ry="2.6" fill="#1a1a1a"/><rect x="481.10" y="503.38" width="2.6" height="5" fill="#9a9a9a"/><ellipse cx="476.40" cy="514.18" rx="3.8" ry="4.2" fill="url(#noise)"/><ellipse cx="488.40" cy="514.18" rx="3.8" ry="4.2" fill="url(#noise)"/><ellipse cx="482.40" cy="521.68" rx="8.2" ry="5.6" fill="url(#noise)"/><path d="M472.40,516.88 L480.90,511.88 M492.40,516.88 L483.90,511.88 M480.90,510.38 L480.90,516.38 M483.90,510.38 L483.90,516.38" stroke="#eee" stroke-width="1.3" fill="none"/><path d="M476.40,526.88 Q482.40,529.88 488.40,526.88" stroke="#ddd" stroke-width="1.2" fill="none"/><line x1="482.40" y1="515.38" x2="482.40" y2="527.38" stroke="#d42a2a" stroke-width="0.8"/></g></g>
<circle cx="465.90" cy="500.60" r="5.0" fill="#c3daf4" stroke="#8fb6e8" stroke-width="1.0"/>
<text x="465.90" y="500.90" font-size="7.0" text-anchor="middle" fill="#111" font-weight="normal" dominant-baseline="central" dy="0.93" >S</text>
<line x1="503.28" y1="519.93" x2="493.77" y2="511.64" stroke="#9b82e6" stroke-width="2.0" />
<polygon points="490.75,509.01 495.74,509.38 491.80,513.90" fill="#9b82e6"/>
<clipPath id="ct964"><rect x="459.20" y="541.30" width="46.40" height="45.30"/></clipPath>
<rect x="459.20" y="541.30" width="46.40" height="45.30" fill="#000" stroke="none" stroke-width="1" rx="0" />
<g clip-path="url(#ct964)"><path d="M462.50,570.89 Q482.40,603.49 502.30,570.89" fill="none" stroke="#bbb" stroke-width="0.6"/><g transform="rotate(0 482.40 562.59)"><ellipse cx="482.40" cy="562.59" rx="12.60" ry="15.20" fill="#f2f2f2"/><ellipse cx="482.40" cy="562.59" rx="10.60" ry="13.20" fill="url(#noise)"/><ellipse cx="482.40" cy="562.59" rx="10.60" ry="13.20" fill="url(#brainG)" fill-opacity="0.55"/><ellipse cx="482.40" cy="562.59" rx="10.60" ry="13.20" fill="#111"/><path d="M475.40,556.59 Q474.40,549.09 482.40,548.79 Q490.40,549.09 489.40,556.59 Z" fill="#e8e8e8"/><ellipse cx="478.80" cy="552.99" rx="2.2" ry="2.6" fill="#1a1a1a"/><ellipse cx="486.00" cy="552.99" rx="2.2" ry="2.6" fill="#1a1a1a"/><rect x="481.10" y="550.59" width="2.6" height="5" fill="#9a9a9a"/><ellipse cx="476.40" cy="561.39" rx="3.8" ry="4.2" fill="url(#noise)"/><ellipse cx="488.40" cy="561.39" rx="3.8" ry="4.2" fill="url(#noise)"/><ellipse cx="482.40" cy="568.89" rx="8.2" ry="5.6" fill="url(#noise)"/><path d="M472.40,564.09 L480.90,559.09 M492.40,564.09 L483.90,559.09 M480.90,557.59 L480.90,563.59 M483.90,557.59 L483.90,563.59" stroke="#eee" stroke-width="1.3" fill="none"/><path d="M476.40,574.09 Q482.40,577.09 488.40,574.09" stroke="#ddd" stroke-width="1.2" fill="none"/><line x1="482.40" y1="562.59" x2="482.40" y2="574.59" stroke="#d42a2a" stroke-width="0.8"/></g></g>
<circle cx="465.90" cy="547.90" r="5.0" fill="#f5c0f3" stroke="#e08ae0" stroke-width="1.0"/>
<text x="465.90" y="548.20" font-size="7.0" text-anchor="middle" fill="#111" font-weight="normal" dominant-baseline="central" dy="0.93" >R</text>
<clipPath id="ct969"><rect x="459.20" y="588.20" width="46.40" height="44.60"/></clipPath>
<rect x="459.20" y="588.20" width="46.40" height="44.60" fill="#000" stroke="none" stroke-width="1" rx="0" />
<g clip-path="url(#ct969)"><path d="M462.50,617.46 Q482.40,650.06 502.30,617.46" fill="none" stroke="#bbb" stroke-width="0.6"/><g transform="rotate(0 482.40 609.16)"><ellipse cx="482.40" cy="609.16" rx="12.60" ry="15.20" fill="#f2f2f2"/><ellipse cx="482.40" cy="609.16" rx="10.60" ry="13.20" fill="url(#noise)"/><ellipse cx="482.40" cy="609.16" rx="10.60" ry="13.20" fill="url(#brainG)" fill-opacity="0.55"/><ellipse cx="482.40" cy="609.16" rx="10.60" ry="13.20" fill="#111"/><path d="M475.40,603.16 Q474.40,595.66 482.40,595.36 Q490.40,595.66 489.40,603.16 Z" fill="#e8e8e8"/><ellipse cx="478.80" cy="599.56" rx="2.2" ry="2.6" fill="#1a1a1a"/><ellipse cx="486.00" cy="599.56" rx="2.2" ry="2.6" fill="#1a1a1a"/><rect x="481.10" y="597.16" width="2.6" height="5" fill="#9a9a9a"/><ellipse cx="476.40" cy="607.96" rx="3.8" ry="4.2" fill="url(#noise)"/><ellipse cx="488.40" cy="607.96" rx="3.8" ry="4.2" fill="url(#noise)"/><ellipse cx="482.40" cy="615.46" rx="8.2" ry="5.6" fill="url(#noise)"/><path d="M472.40,610.66 L480.90,605.66 M492.40,610.66 L483.90,605.66 M480.90,604.16 L480.90,610.16 M483.90,604.16 L483.90,610.16" stroke="#eee" stroke-width="1.3" fill="none"/><path d="M476.40,620.66 Q482.40,623.66 488.40,620.66" stroke="#ddd" stroke-width="1.2" fill="none"/><line x1="482.40" y1="609.16" x2="482.40" y2="621.16" stroke="#d42a2a" stroke-width="0.8"/></g></g>
<circle cx="465.90" cy="594.80" r="5.0" fill="#f7c0ba" stroke="#e48880" stroke-width="1.0"/>
<text x="465.90" y="595.10" font-size="7.0" text-anchor="middle" fill="#111" font-weight="normal" dominant-baseline="central" dy="0.93" >G</text>
<clipPath id="ct974"><rect x="515.10" y="494.00" width="46.00" height="45.50"/></clipPath>
<rect x="515.10" y="494.00" width="46.00" height="45.50" fill="#000" stroke="none" stroke-width="1" rx="0" />
<g clip-path="url(#ct974)"><path d="M519.37,520.11 Q537.87,544.51 556.37,520.11" fill="none" stroke="#bbb" stroke-width="0.6"/><g transform="rotate(10 537.87 515.11)"><ellipse cx="537.87" cy="515.11" rx="13.05" ry="16.55" fill="#f2f2f2"/><ellipse cx="537.87" cy="515.11" rx="11.55" ry="15.05" fill="url(#noise)"/><ellipse cx="537.87" cy="515.11" rx="11.55" ry="15.05" fill="url(#brainG)" fill-opacity="0.55"/><path d="M528.64,504.05 Q537.87,496.94 547.10,504.05 Q537.87,506.42 528.64,504.05Z" fill="#eee"/><ellipse cx="534.37" cy="502.47" rx="1.5" ry="1.3" fill="#222"/><ellipse cx="541.37" cy="502.47" rx="1.5" ry="1.3" fill="#222"/><line x1="537.87" y1="501.68" x2="535.87" y2="528.54" stroke="#d42a2a" stroke-width="0.8"/></g></g>
<circle cx="521.80" cy="500.60" r="5.0" fill="#c3daf4" stroke="#8fb6e8" stroke-width="1.0"/>
<text x="521.80" y="500.90" font-size="7.0" text-anchor="middle" fill="#111" font-weight="normal" dominant-baseline="central" dy="0.93" >S</text>
<line x1="557.42" y1="520.39" x2="547.25" y2="515.70" stroke="#9b82e6" stroke-width="2.0" />
<polygon points="543.62,514.02 548.51,512.97 545.99,518.42" fill="#9b82e6"/>
<clipPath id="ct981"><rect x="515.10" y="541.30" width="46.00" height="45.30"/></clipPath>
<rect x="515.10" y="541.30" width="46.00" height="45.30" fill="#000" stroke="none" stroke-width="1" rx="0" />
<g clip-path="url(#ct981)"><path d="M519.37,567.32 Q537.87,591.72 556.37,567.32" fill="none" stroke="#bbb" stroke-width="0.6"/><g transform="rotate(10 537.87 562.32)"><ellipse cx="537.87" cy="562.32" rx="13.05" ry="16.55" fill="#f2f2f2"/><ellipse cx="537.87" cy="562.32" rx="11.55" ry="15.05" fill="url(#noise)"/><ellipse cx="537.87" cy="562.32" rx="11.55" ry="15.05" fill="url(#brainG)" fill-opacity="0.55"/><path d="M528.64,551.26 Q537.87,544.15 547.10,551.26 Q537.87,553.63 528.64,551.26Z" fill="#eee"/><ellipse cx="534.37" cy="549.68" rx="1.5" ry="1.3" fill="#222"/><ellipse cx="541.37" cy="549.68" rx="1.5" ry="1.3" fill="#222"/><line x1="537.87" y1="548.89" x2="535.87" y2="575.75" stroke="#d42a2a" stroke-width="0.8"/></g></g>
<circle cx="521.80" cy="547.90" r="5.0" fill="#f5c0f3" stroke="#e08ae0" stroke-width="1.0"/>
<text x="521.80" y="548.20" font-size="7.0" text-anchor="middle" fill="#111" font-weight="normal" dominant-baseline="central" dy="0.93" >R</text>
<clipPath id="ct986"><rect x="515.10" y="588.20" width="46.00" height="44.60"/></clipPath>
<rect x="515.10" y="588.20" width="46.00" height="44.60" fill="#000" stroke="none" stroke-width="1" rx="0" />
<g clip-path="url(#ct986)"><path d="M519.37,613.89 Q537.87,638.29 556.37,613.89" fill="none" stroke="#bbb" stroke-width="0.6"/><g transform="rotate(10 537.87 608.89)"><ellipse cx="537.87" cy="608.89" rx="13.05" ry="16.55" fill="#f2f2f2"/><ellipse cx="537.87" cy="608.89" rx="11.55" ry="15.05" fill="url(#noise)"/><ellipse cx="537.87" cy="608.89" rx="11.55" ry="15.05" fill="url(#brainG)" fill-opacity="0.55"/><path d="M528.64,597.83 Q537.87,590.72 547.10,597.83 Q537.87,600.20 528.64,597.83Z" fill="#eee"/><ellipse cx="534.37" cy="596.25" rx="1.5" ry="1.3" fill="#222"/><ellipse cx="541.37" cy="596.25" rx="1.5" ry="1.3" fill="#222"/><line x1="537.87" y1="595.46" x2="535.87" y2="622.32" stroke="#d42a2a" stroke-width="0.8"/></g></g>
<circle cx="521.80" cy="594.80" r="5.0" fill="#f7c0ba" stroke="#e48880" stroke-width="1.0"/>
<text x="521.80" y="595.10" font-size="7.0" text-anchor="middle" fill="#111" font-weight="normal" dominant-baseline="central" dy="0.93" >G</text>
<clipPath id="ct991"><rect x="572.60" y="494.00" width="47.00" height="45.50"/></clipPath>
<rect x="572.60" y="494.00" width="47.00" height="45.50" fill="#000" stroke="none" stroke-width="1" rx="0" />
<g clip-path="url(#ct991)"><g transform="rotate(0 593.51 517.80)"><ellipse cx="593.51" cy="517.80" rx="18.85" ry="19.65" fill="#f2f2f2"/><ellipse cx="593.51" cy="517.80" rx="17.55" ry="18.35" fill="url(#noise)"/><ellipse cx="593.51" cy="517.80" rx="17.55" ry="18.35" fill="url(#brainG)" fill-opacity="0.55"/><path d="M589.72,511.80 Q594.31,517.80 587.72,522.80 M597.31,511.80 Q592.72,517.80 599.31,522.80" stroke="#262626" stroke-width="2.3" fill="none"/><line x1="593.51" y1="501.65" x2="593.51" y2="533.95" stroke="#d42a2a" stroke-width="0.8"/></g></g>
<circle cx="579.30" cy="500.60" r="5.0" fill="#c3daf4" stroke="#8fb6e8" stroke-width="1.0"/>
<text x="579.30" y="500.90" font-size="7.0" text-anchor="middle" fill="#111" font-weight="normal" dominant-baseline="central" dy="0.93" >S</text>
<line x1="606.91" y1="534.04" x2="598.80" y2="525.16" stroke="#9b82e6" stroke-width="2.0" />
<polygon points="596.10,522.21 601.01,523.14 596.58,527.19" fill="#9b82e6"/>
<clipPath id="ct998"><rect x="572.60" y="541.30" width="47.00" height="45.30"/></clipPath>
<rect x="572.60" y="541.30" width="47.00" height="45.30" fill="#000" stroke="none" stroke-width="1" rx="0" />
<g clip-path="url(#ct998)"><g transform="rotate(0 593.51 564.99)"><ellipse cx="593.51" cy="564.99" rx="18.85" ry="19.65" fill="#f2f2f2"/><ellipse cx="593.51" cy="564.99" rx="17.55" ry="18.35" fill="url(#noise)"/><ellipse cx="593.51" cy="564.99" rx="17.55" ry="18.35" fill="url(#brainG)" fill-opacity="0.55"/><path d="M589.72,558.99 Q594.31,564.99 587.72,569.99 M597.31,558.99 Q592.72,564.99 599.31,569.99" stroke="#262626" stroke-width="2.3" fill="none"/><line x1="593.51" y1="548.84" x2="593.51" y2="581.14" stroke="#d42a2a" stroke-width="0.8"/></g></g>
<circle cx="579.30" cy="547.90" r="5.0" fill="#f5c0f3" stroke="#e08ae0" stroke-width="1.0"/>
<text x="579.30" y="548.20" font-size="7.0" text-anchor="middle" fill="#111" font-weight="normal" dominant-baseline="central" dy="0.93" >R</text>
<clipPath id="ct1003"><rect x="572.60" y="588.20" width="47.00" height="44.60"/></clipPath>
<rect x="572.60" y="588.20" width="47.00" height="44.60" fill="#000" stroke="none" stroke-width="1" rx="0" />
<g clip-path="url(#ct1003)"><g transform="rotate(0 593.51 611.53)"><ellipse cx="593.51" cy="611.53" rx="18.85" ry="19.65" fill="#f2f2f2"/><ellipse cx="593.51" cy="611.53" rx="17.55" ry="18.35" fill="url(#noise)"/><ellipse cx="593.51" cy="611.53" rx="17.55" ry="18.35" fill="url(#brainG)" fill-opacity="0.55"/><path d="M589.72,605.53 Q594.31,611.53 587.72,616.53 M597.31,605.53 Q592.72,611.53 599.31,616.53" stroke="#262626" stroke-width="2.3" fill="none"/><line x1="593.51" y1="595.38" x2="593.51" y2="627.68" stroke="#d42a2a" stroke-width="0.8"/></g></g>
<circle cx="579.30" cy="594.80" r="5.0" fill="#f7c0ba" stroke="#e48880" stroke-width="1.0"/>
<text x="579.30" y="595.10" font-size="7.0" text-anchor="middle" fill="#111" font-weight="normal" dominant-baseline="central" dy="0.93" >G</text>
<clipPath id="ct1008"><rect x="631.40" y="494.00" width="46.00" height="45.50"/></clipPath>
<rect x="631.40" y="494.00" width="46.00" height="45.50" fill="#000" stroke="none" stroke-width="1" rx="0" />
<g clip-path="url(#ct1008)"><path d="M638.09,504.29 Q636.09,519.89 640.09,528.29 M672.09,504.29 Q674.09,519.89 670.09,528.29" fill="none" stroke="#ddd" stroke-width="0.8"/><g transform="rotate(0 655.09 516.29)"><ellipse cx="655.09" cy="516.29" rx="8.30" ry="9.50" fill="#f2f2f2"/><ellipse cx="655.09" cy="516.29" rx="4.90" ry="6.10" fill="url(#noise)"/><ellipse cx="655.09" cy="516.29" rx="4.90" ry="6.10" fill="url(#brainG)" fill-opacity="0.55"/><ellipse cx="655.09" cy="516.29" rx="10.80" ry="12.00" fill="none" stroke="#bbb" stroke-width="0.6"/><line x1="655.09" y1="512.29" x2="655.09" y2="520.29" stroke="#d42a2a" stroke-width="0.8"/></g></g>
<circle cx="638.10" cy="500.60" r="5.0" fill="#c3daf4" stroke="#8fb6e8" stroke-width="1.0"/>
<text x="638.10" y="500.90" font-size="7.0" text-anchor="middle" fill="#111" font-weight="normal" dominant-baseline="central" dy="0.93" >S</text>
<line x1="674.64" y1="533.59" x2="662.90" y2="523.06" stroke="#9b82e6" stroke-width="2.0" />
<polygon points="659.92,520.39 664.90,520.83 660.90,525.29" fill="#9b82e6"/>
<clipPath id="ct1015"><rect x="631.40" y="541.30" width="46.00" height="45.30"/></clipPath>
<rect x="631.40" y="541.30" width="46.00" height="45.30" fill="#000" stroke="none" stroke-width="1" rx="0" />
<g clip-path="url(#ct1015)"><path d="M638.09,551.50 Q636.09,567.10 640.09,575.50 M672.09,551.50 Q674.09,567.10 670.09,575.50" fill="none" stroke="#ddd" stroke-width="0.8"/><g transform="rotate(0 655.09 563.50)"><ellipse cx="655.09" cy="563.50" rx="8.30" ry="9.50" fill="#f2f2f2"/><ellipse cx="655.09" cy="563.50" rx="4.90" ry="6.10" fill="url(#noise)"/><ellipse cx="655.09" cy="563.50" rx="4.90" ry="6.10" fill="url(#brainG)" fill-opacity="0.55"/><ellipse cx="655.09" cy="563.50" rx="10.80" ry="12.00" fill="none" stroke="#bbb" stroke-width="0.6"/><line x1="655.09" y1="559.50" x2="655.09" y2="567.50" stroke="#d42a2a" stroke-width="0.8"/></g></g>
<circle cx="638.10" cy="547.90" r="5.0" fill="#f5c0f3" stroke="#e08ae0" stroke-width="1.0"/>
<text x="638.10" y="548.20" font-size="7.0" text-anchor="middle" fill="#111" font-weight="normal" dominant-baseline="central" dy="0.93" >R</text>
<clipPath id="ct1020"><rect x="631.40" y="588.20" width="46.00" height="44.60"/></clipPath>
<rect x="631.40" y="588.20" width="46.00" height="44.60" fill="#000" stroke="none" stroke-width="1" rx="0" />
<g clip-path="url(#ct1020)"><path d="M638.09,598.05 Q636.09,613.65 640.09,622.05 M672.09,598.05 Q674.09,613.65 670.09,622.05" fill="none" stroke="#ddd" stroke-width="0.8"/><g transform="rotate(0 655.09 610.05)"><ellipse cx="655.09" cy="610.05" rx="8.30" ry="9.50" fill="#f2f2f2"/><ellipse cx="655.09" cy="610.05" rx="4.90" ry="6.10" fill="url(#noise)"/><ellipse cx="655.09" cy="610.05" rx="4.90" ry="6.10" fill="url(#brainG)" fill-opacity="0.55"/><ellipse cx="655.09" cy="610.05" rx="10.80" ry="12.00" fill="none" stroke="#bbb" stroke-width="0.6"/><line x1="655.09" y1="606.05" x2="655.09" y2="614.05" stroke="#d42a2a" stroke-width="0.8"/></g></g>
<circle cx="638.10" cy="594.80" r="5.0" fill="#f7c0ba" stroke="#e48880" stroke-width="1.0"/>
<text x="638.10" y="595.10" font-size="7.0" text-anchor="middle" fill="#111" font-weight="normal" dominant-baseline="central" dy="0.93" >G</text>
<text x="0" y="0" font-size="7.6" text-anchor="middle" fill="#111" dominant-baseline="central" dy="0.93" transform="translate(390.0,557.0) rotate(-90)">internal test sets</text>
<text x="0" y="0" font-size="7.6" text-anchor="middle" fill="#111" dominant-baseline="central" dy="0.93" transform="translate(390.0,692.0) rotate(-90)">external test sets</text>
<line x1="386.00" y1="639.80" x2="685.00" y2="639.80" stroke="#111" stroke-width="1.7" stroke-dasharray="3.7 3.8"/>
<rect x="400.30" y="643.90" width="176.70" height="46.60" fill="#e3e3e3" stroke="none" stroke-width="0" rx="2.5" />
<rect x="400.30" y="692.20" width="176.70" height="44.00" fill="#e3e3e3" stroke="none" stroke-width="0" rx="2.5" />
<rect x="582.30" y="643.90" width="97.40" height="92.30" fill="#e3e3e3" stroke="none" stroke-width="0" rx="2.5" />
<text x="559.50" y="667.20" font-size="7.6" text-anchor="middle" fill="#111" font-weight="normal" dominant-baseline="central" dy="0.93" >M6-test</text>
<text x="559.50" y="712.90" font-size="7.6" text-anchor="middle" fill="#111" font-weight="normal" dominant-baseline="central" dy="0.93" >M7-test</text>
<text x="606.00" y="667.20" font-size="7.6" text-anchor="middle" fill="#111" font-weight="normal" dominant-baseline="central" dy="0.93" >M8-test</text>
<clipPath id="ct1034"><rect x="402.50" y="645.90" width="43.70" height="42.00"/></clipPath>
<rect x="402.50" y="645.90" width="43.70" height="42.00" fill="#000" stroke="none" stroke-width="1" rx="0" />
<g clip-path="url(#ct1034)"><path d="M406.02,672.00 Q425.22,700.00 444.42,672.00" fill="none" stroke="#bbb" stroke-width="0.6"/><g transform="rotate(-20 425.22 666.90)"><ellipse cx="425.22" cy="666.90" rx="13.15" ry="14.45" fill="#f2f2f2"/><ellipse cx="425.22" cy="666.90" rx="11.45" ry="12.75" fill="url(#noise)"/><ellipse cx="425.22" cy="666.90" rx="11.45" ry="12.75" fill="url(#brainG)" fill-opacity="0.55"/><line x1="425.22" y1="655.34" x2="425.22" y2="678.46" stroke="#d42a2a" stroke-width="0.8"/></g></g>
<circle cx="409.20" cy="652.50" r="5.0" fill="#c3daf4" stroke="#8fb6e8" stroke-width="1.0"/>
<text x="409.20" y="652.80" font-size="7.0" text-anchor="middle" fill="#111" font-weight="normal" dominant-baseline="central" dy="0.93" >S</text>
<line x1="440.96" y1="665.64" x2="430.43" y2="668.09" stroke="#9b82e6" stroke-width="2.0" />
<polygon points="426.53,669.00 429.75,665.17 431.11,671.01" fill="#9b82e6"/>
<clipPath id="ct1041"><rect x="451.60" y="645.90" width="42.70" height="42.00"/></clipPath>
<rect x="451.60" y="645.90" width="42.70" height="42.00" fill="#000" stroke="none" stroke-width="1" rx="0" />
<g clip-path="url(#ct1041)"><path d="M454.60,672.00 Q473.80,700.00 493.00,672.00" fill="none" stroke="#bbb" stroke-width="0.6"/><g transform="rotate(-20 473.80 666.90)"><ellipse cx="473.80" cy="666.90" rx="13.15" ry="14.45" fill="#f2f2f2"/><ellipse cx="473.80" cy="666.90" rx="11.45" ry="12.75" fill="url(#noise)"/><ellipse cx="473.80" cy="666.90" rx="11.45" ry="12.75" fill="url(#brainG)" fill-opacity="0.55"/><line x1="473.80" y1="655.34" x2="473.80" y2="678.46" stroke="#d42a2a" stroke-width="0.8"/></g></g>
<circle cx="458.30" cy="652.50" r="5.0" fill="#f5c0f3" stroke="#e08ae0" stroke-width="1.0"/>
<text x="458.30" y="652.80" font-size="7.0" text-anchor="middle" fill="#111" font-weight="normal" dominant-baseline="central" dy="0.93" >R</text>
<clipPath id="ct1046"><rect x="499.50" y="645.90" width="43.20" height="42.00"/></clipPath>
<rect x="499.50" y="645.90" width="43.20" height="42.00" fill="#000" stroke="none" stroke-width="1" rx="0" />
<g clip-path="url(#ct1046)"><path d="M502.76,672.00 Q521.96,700.00 541.16,672.00" fill="none" stroke="#bbb" stroke-width="0.6"/><g transform="rotate(-20 521.96 666.90)"><ellipse cx="521.96" cy="666.90" rx="13.15" ry="14.45" fill="#f2f2f2"/><ellipse cx="521.96" cy="666.90" rx="11.45" ry="12.75" fill="url(#noise)"/><ellipse cx="521.96" cy="666.90" rx="11.45" ry="12.75" fill="url(#brainG)" fill-opacity="0.55"/><line x1="521.96" y1="655.34" x2="521.96" y2="678.46" stroke="#d42a2a" stroke-width="0.8"/></g></g>
<circle cx="506.20" cy="652.50" r="5.0" fill="#f7c0ba" stroke="#e48880" stroke-width="1.0"/>
<text x="506.20" y="652.80" font-size="7.0" text-anchor="middle" fill="#111" font-weight="normal" dominant-baseline="central" dy="0.93" >G</text>
<clipPath id="ct1051"><rect x="401.40" y="693.60" width="46.70" height="40.80"/></clipPath>
<rect x="401.40" y="693.60" width="46.70" height="40.80" fill="#000" stroke="none" stroke-width="1" rx="0" />
<g clip-path="url(#ct1051)"><path d="M407.15,722.28 Q424.75,736.28 442.35,722.28" fill="none" stroke="#bbb" stroke-width="0.6"/><g transform="rotate(-10 424.75 712.78)"><ellipse cx="424.75" cy="712.78" rx="13.45" ry="16.45" fill="#f2f2f2"/><ellipse cx="424.75" cy="712.78" rx="11.75" ry="14.75" fill="url(#noise)"/><ellipse cx="424.75" cy="712.78" rx="11.75" ry="14.75" fill="url(#brainG)" fill-opacity="0.55"/><line x1="424.75" y1="699.52" x2="424.75" y2="726.04" stroke="#d42a2a" stroke-width="0.8"/></g></g>
<circle cx="408.10" cy="700.20" r="5.0" fill="#c3daf4" stroke="#8fb6e8" stroke-width="1.0"/>
<text x="408.10" y="700.50" font-size="7.0" text-anchor="middle" fill="#111" font-weight="normal" dominant-baseline="central" dy="0.93" >S</text>
<clipPath id="ct1056"><rect x="450.40" y="693.60" width="45.60" height="40.80"/></clipPath>
<rect x="450.40" y="693.60" width="45.60" height="40.80" fill="#000" stroke="none" stroke-width="1" rx="0" />
<g clip-path="url(#ct1056)"><path d="M455.60,722.28 Q473.20,736.28 490.80,722.28" fill="none" stroke="#bbb" stroke-width="0.6"/><g transform="rotate(-10 473.20 712.78)"><ellipse cx="473.20" cy="712.78" rx="13.45" ry="16.45" fill="#f2f2f2"/><ellipse cx="473.20" cy="712.78" rx="11.75" ry="14.75" fill="url(#noise)"/><ellipse cx="473.20" cy="712.78" rx="11.75" ry="14.75" fill="url(#brainG)" fill-opacity="0.55"/><line x1="473.20" y1="699.52" x2="473.20" y2="726.04" stroke="#d42a2a" stroke-width="0.8"/></g></g>
<circle cx="457.10" cy="700.20" r="5.0" fill="#f5c0f3" stroke="#e08ae0" stroke-width="1.0"/>
<text x="457.10" y="700.50" font-size="7.0" text-anchor="middle" fill="#111" font-weight="normal" dominant-baseline="central" dy="0.93" >R</text>
<clipPath id="ct1061"><rect x="498.30" y="693.60" width="45.60" height="40.80"/></clipPath>
<rect x="498.30" y="693.60" width="45.60" height="40.80" fill="#000" stroke="none" stroke-width="1" rx="0" />
<g clip-path="url(#ct1061)"><path d="M503.50,722.28 Q521.10,736.28 538.70,722.28" fill="none" stroke="#bbb" stroke-width="0.6"/><g transform="rotate(-10 521.10 712.78)"><ellipse cx="521.10" cy="712.78" rx="13.45" ry="16.45" fill="#f2f2f2"/><ellipse cx="521.10" cy="712.78" rx="11.75" ry="14.75" fill="url(#noise)"/><ellipse cx="521.10" cy="712.78" rx="11.75" ry="14.75" fill="url(#brainG)" fill-opacity="0.55"/><line x1="521.10" y1="699.52" x2="521.10" y2="726.04" stroke="#d42a2a" stroke-width="0.8"/></g></g>
<circle cx="505.00" cy="700.20" r="5.0" fill="#f7c0ba" stroke="#e48880" stroke-width="1.0"/>
<text x="505.00" y="700.50" font-size="7.0" text-anchor="middle" fill="#111" font-weight="normal" dominant-baseline="central" dy="0.93" >G</text>
<clipPath id="ct1066"><rect x="631.00" y="646.00" width="46.20" height="40.40"/></clipPath>
<rect x="631.00" y="646.00" width="46.20" height="40.40" fill="#000" stroke="none" stroke-width="1" rx="0" />
<g clip-path="url(#ct1066)"><path d="M639.18,673.79 L641.68,678.79 M668.18,672.79 L666.18,677.29" stroke="#ccc" stroke-width="0.6" fill="none"/><g transform="rotate(-28 653.18 664.79)"><ellipse cx="653.18" cy="664.79" rx="11.65" ry="15.65" fill="#f2f2f2"/><ellipse cx="653.18" cy="664.79" rx="9.95" ry="13.95" fill="url(#noise)"/><ellipse cx="653.18" cy="664.79" rx="9.95" ry="13.95" fill="url(#brainG)" fill-opacity="0.55"/><line x1="653.18" y1="652.21" x2="646.18" y2="677.37" stroke="#d42a2a" stroke-width="0.8"/></g></g>
<circle cx="637.70" cy="652.60" r="5.0" fill="#c3daf4" stroke="#8fb6e8" stroke-width="1.0"/>
<text x="637.70" y="652.90" font-size="7.0" text-anchor="middle" fill="#111" font-weight="normal" dominant-baseline="central" dy="0.93" >S</text>
<line x1="671.19" y1="667.82" x2="662.59" y2="670.04" stroke="#9b82e6" stroke-width="2.0" />
<polygon points="658.72,671.05 661.84,667.14 663.34,672.95" fill="#9b82e6"/>
<clipPath id="ct1073"><rect x="584.00" y="693.20" width="45.50" height="40.20"/></clipPath>
<rect x="584.00" y="693.20" width="45.50" height="40.20" fill="#000" stroke="none" stroke-width="1" rx="0" />
<g clip-path="url(#ct1073)"><path d="M591.84,720.89 L594.34,725.89 M620.84,719.89 L618.84,724.39" stroke="#ccc" stroke-width="0.6" fill="none"/><g transform="rotate(-28 605.84 711.89)"><ellipse cx="605.84" cy="711.89" rx="11.65" ry="15.65" fill="#f2f2f2"/><ellipse cx="605.84" cy="711.89" rx="9.95" ry="13.95" fill="url(#noise)"/><ellipse cx="605.84" cy="711.89" rx="9.95" ry="13.95" fill="url(#brainG)" fill-opacity="0.55"/><line x1="605.84" y1="699.31" x2="598.84" y2="724.47" stroke="#d42a2a" stroke-width="0.8"/></g></g>
<circle cx="590.70" cy="699.80" r="5.0" fill="#f5c0f3" stroke="#e08ae0" stroke-width="1.0"/>
<text x="590.70" y="700.10" font-size="7.0" text-anchor="middle" fill="#111" font-weight="normal" dominant-baseline="central" dy="0.93" >R</text>
<clipPath id="ct1078"><rect x="631.00" y="693.20" width="46.20" height="40.20"/></clipPath>
<rect x="631.00" y="693.20" width="46.20" height="40.20" fill="#000" stroke="none" stroke-width="1" rx="0" />
<g clip-path="url(#ct1078)"><path d="M639.18,720.89 L641.68,725.89 M668.18,719.89 L666.18,724.39" stroke="#ccc" stroke-width="0.6" fill="none"/><g transform="rotate(-28 653.18 711.89)"><ellipse cx="653.18" cy="711.89" rx="11.65" ry="15.65" fill="#f2f2f2"/><ellipse cx="653.18" cy="711.89" rx="9.95" ry="13.95" fill="url(#noise)"/><ellipse cx="653.18" cy="711.89" rx="9.95" ry="13.95" fill="url(#brainG)" fill-opacity="0.55"/><line x1="653.18" y1="699.31" x2="646.18" y2="724.47" stroke="#d42a2a" stroke-width="0.8"/></g></g>
<circle cx="637.70" cy="699.80" r="5.0" fill="#f7c0ba" stroke="#e48880" stroke-width="1.0"/>
<text x="637.70" y="700.10" font-size="7.0" text-anchor="middle" fill="#111" font-weight="normal" dominant-baseline="central" dy="0.93" >G</text>
<circle cx="448.80" cy="743.80" r="4.6" fill="#c3daf4" stroke="#8fb6e8" stroke-width="1.0"/>
<text x="448.80" y="744.10" font-size="7.0" text-anchor="middle" fill="#111" font-weight="normal" dominant-baseline="central" dy="0.93" >S</text>
<text x="457.90" y="743.80" font-size="7.6" text-anchor="start" fill="#111" font-weight="normal" dominant-baseline="central" dy="0.93" >sequential</text>
<circle cx="524.70" cy="743.80" r="4.6" fill="#f5c0f3" stroke="#e08ae0" stroke-width="1.0"/>
<text x="524.70" y="744.10" font-size="7.0" text-anchor="middle" fill="#111" font-weight="normal" dominant-baseline="central" dy="0.93" >R</text>
<text x="532.70" y="743.80" font-size="7.6" text-anchor="start" fill="#111" font-weight="normal" dominant-baseline="central" dy="0.93" >Relay</text>
<circle cx="585.50" cy="743.80" r="4.6" fill="#f7c0ba" stroke="#e48880" stroke-width="1.0"/>
<text x="585.50" y="744.10" font-size="7.0" text-anchor="middle" fill="#111" font-weight="normal" dominant-baseline="central" dy="0.93" >G</text>
<text x="601.00" y="743.80" font-size="7.6" text-anchor="start" fill="#111" font-weight="normal" dominant-baseline="central" dy="0.93" >g.t.</text>
<line x1="5.80" y1="115.90" x2="681.90" y2="115.90" stroke="#000" stroke-width="1.7" stroke-dasharray="6.75 2.3 1.3 2.2"/>
<line x1="3.90" y1="464.90" x2="679.20" y2="464.90" stroke="#000" stroke-width="1.7" stroke-dasharray="6.75 2.3 1.3 2.2"/>
</svg></body></html>
